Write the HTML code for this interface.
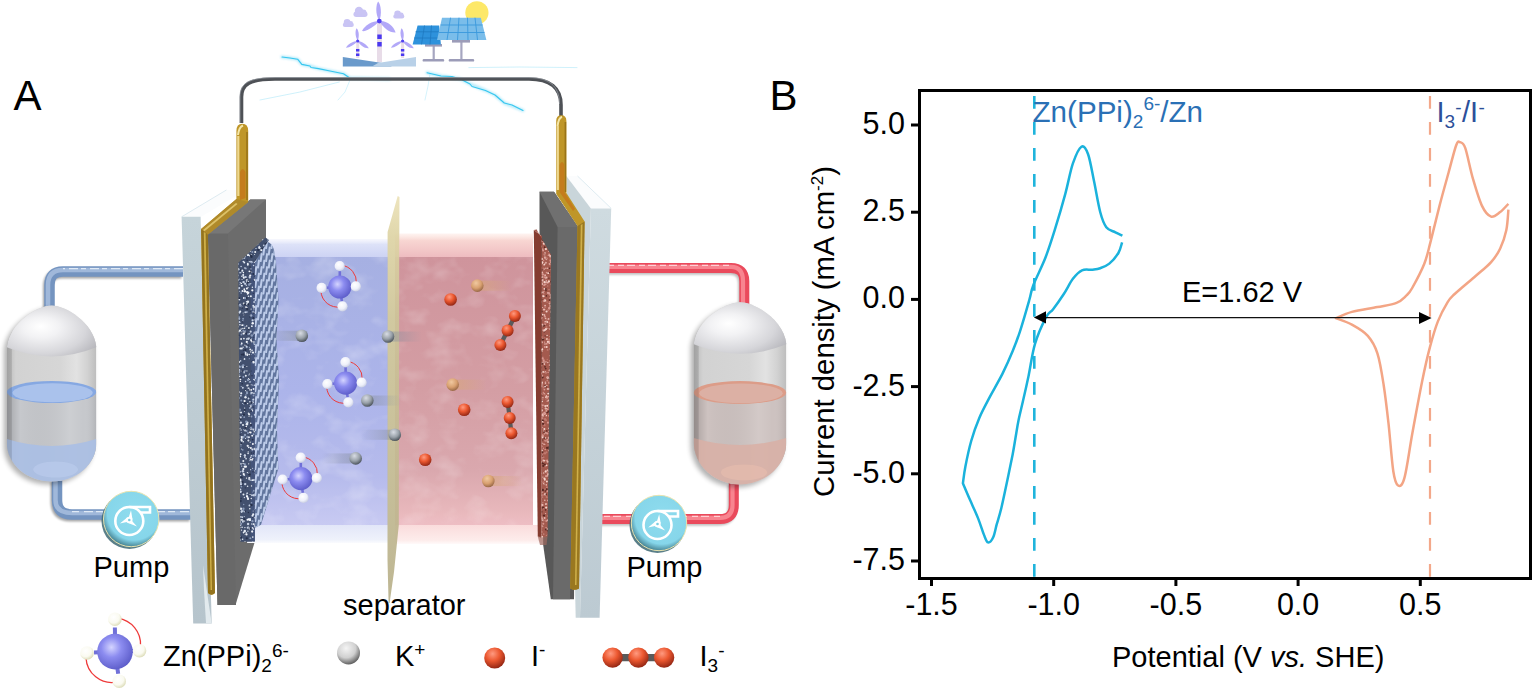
<!DOCTYPE html>
<html><head><meta charset="utf-8"><title>Figure</title>
<style>
html,body{margin:0;padding:0;background:#fff;}
body{width:1533px;height:691px;overflow:hidden;}
svg{display:block;}
text{font-family:"Liberation Sans",sans-serif;}
.tk{font-size:30.5px;fill:#000;}
.lb{font-size:29px;fill:#000;}
</style></head>
<body>
<svg width="1533" height="691" viewBox="0 0 1533 691">
<defs>
<linearGradient id="gold" x1="0" y1="0" x2="1" y2="0">
  <stop offset="0" stop-color="#7a5610"/><stop offset="0.35" stop-color="#f2d27a"/><stop offset="0.7" stop-color="#c89a30"/><stop offset="1" stop-color="#8a6414"/>
</linearGradient>
<linearGradient id="goldV" x1="0" y1="0" x2="0" y2="1">
  <stop offset="0" stop-color="#e8c860"/><stop offset="0.55" stop-color="#d8a838"/><stop offset="0.75" stop-color="#c88a20"/><stop offset="1" stop-color="#b87a18"/>
</linearGradient>
<linearGradient id="wire" x1="0" y1="0" x2="0" y2="1">
  <stop offset="0" stop-color="#9aa0a8"/><stop offset="0.5" stop-color="#505458"/><stop offset="1" stop-color="#2a2c30"/>
</linearGradient>
<linearGradient id="blueBoxTop" x1="0" y1="0" x2="0" y2="1">
  <stop offset="0" stop-color="#eef0fc" stop-opacity="0.5"/><stop offset="0.3" stop-color="#dde2f8"/><stop offset="1" stop-color="#cdd3f4"/>
</linearGradient>
<linearGradient id="blueBox" x1="0" y1="0" x2="0" y2="1">
  <stop offset="0" stop-color="#a6b0e2"/><stop offset="0.5" stop-color="#acb4ea"/><stop offset="0.82" stop-color="#b6bbec"/><stop offset="1" stop-color="#c8caf2"/>
</linearGradient>
<linearGradient id="pinkBoxTop" x1="0" y1="0" x2="0" y2="1">
  <stop offset="0" stop-color="#fde8e2" stop-opacity="0.5"/><stop offset="0.3" stop-color="#f8d6d2"/><stop offset="1" stop-color="#eebcc0"/>
</linearGradient>
<linearGradient id="pinkBox" x1="0" y1="0" x2="0" y2="1">
  <stop offset="0" stop-color="#cf949c"/><stop offset="0.5" stop-color="#d49ea4"/><stop offset="0.8" stop-color="#daa8ae"/><stop offset="0.95" stop-color="#e8b8bc"/><stop offset="1" stop-color="#eebec4"/>
</linearGradient>
<linearGradient id="floorG" x1="0" y1="0" x2="0" y2="1">
  <stop offset="0" stop-color="#e2e6f8"/><stop offset="0.8" stop-color="#eef1fb"/><stop offset="1" stop-color="#fafbfe"/>
</linearGradient>
<linearGradient id="floorP" x1="0" y1="0" x2="0" y2="1">
  <stop offset="0" stop-color="#fadcdc"/><stop offset="0.8" stop-color="#fdeceb"/><stop offset="1" stop-color="#fffafa"/>
</linearGradient>
<linearGradient id="sep" x1="0" y1="0" x2="0" y2="1">
  <stop offset="0" stop-color="#ece2b8"/><stop offset="0.1" stop-color="#ddd3a4"/><stop offset="0.3" stop-color="#cdc498"/><stop offset="1" stop-color="#b8b08a"/>
</linearGradient>
<linearGradient id="endPlate" x1="0" y1="0" x2="0" y2="1">
  <stop offset="0" stop-color="#c6d4da"/><stop offset="1" stop-color="#b6c4cc"/>
</linearGradient>
<linearGradient id="endPlateR" x1="0" y1="0" x2="0" y2="1">
  <stop offset="0" stop-color="#cfdbe0"/><stop offset="1" stop-color="#bccad2"/>
</linearGradient>
<radialGradient id="dome" cx="0.4" cy="0.5" r="0.8" fx="0.38" fy="0.42">
  <stop offset="0" stop-color="#ffffff"/><stop offset="0.25" stop-color="#f2f2f4"/><stop offset="0.6" stop-color="#d6d6da"/><stop offset="1" stop-color="#a4a4aa"/>
</radialGradient>
<linearGradient id="cylshade" x1="0" y1="0" x2="1" y2="0">
  <stop offset="0" stop-color="#000" stop-opacity="0.18"/><stop offset="0.15" stop-color="#000" stop-opacity="0"/><stop offset="0.7" stop-color="#fff" stop-opacity="0.12"/><stop offset="0.85" stop-color="#fff" stop-opacity="0"/><stop offset="1" stop-color="#000" stop-opacity="0.1"/>
</linearGradient>
<filter id="blur2" x="-20%" y="-20%" width="140%" height="140%"><feGaussianBlur stdDeviation="2.5"/></filter>
<linearGradient id="cyl" x1="0" y1="0" x2="1" y2="0">
  <stop offset="0" stop-color="#b8b8b8"/><stop offset="0.1" stop-color="#d2d2d2"/><stop offset="0.6" stop-color="#d6d6d6"/><stop offset="0.78" stop-color="#e2e2e2"/><stop offset="0.9" stop-color="#d2d2d2"/><stop offset="1" stop-color="#bdbdbd"/>
</linearGradient>
<linearGradient id="liqL" x1="0" y1="0" x2="1" y2="0">
  <stop offset="0" stop-color="#9aa2aa"/><stop offset="0.12" stop-color="#c4c8cc"/><stop offset="0.5" stop-color="#cccfd2"/><stop offset="0.9" stop-color="#c4c8cc"/><stop offset="1" stop-color="#a8b0b8"/>
</linearGradient>
<linearGradient id="liqR" x1="0" y1="0" x2="1" y2="0">
  <stop offset="0" stop-color="#a89a98"/><stop offset="0.12" stop-color="#cfc2c0"/><stop offset="0.5" stop-color="#d2c8c6"/><stop offset="0.9" stop-color="#cabcba"/><stop offset="1" stop-color="#b8a8a6"/>
</linearGradient>
<radialGradient id="botL" cx="0.5" cy="0.2" r="0.8">
  <stop offset="0" stop-color="#b8cce8"/><stop offset="0.7" stop-color="#a4bce0"/><stop offset="1" stop-color="#6a7c98"/>
</radialGradient>
<radialGradient id="botR" cx="0.5" cy="0.2" r="0.8">
  <stop offset="0" stop-color="#e0b8b0"/><stop offset="0.7" stop-color="#d8aaa0"/><stop offset="1" stop-color="#907070"/>
</radialGradient>
<radialGradient id="pump" cx="0.55" cy="0.4" r="0.6">
  <stop offset="0" stop-color="#8fdcee"/><stop offset="0.8" stop-color="#86d6ea"/><stop offset="1" stop-color="#4a8898"/>
</radialGradient>
<radialGradient id="zn" cx="0.4" cy="0.38" r="0.7">
  <stop offset="0" stop-color="#d4d4ff"/><stop offset="0.4" stop-color="#8c8cf0"/><stop offset="1" stop-color="#5656c4"/>
</radialGradient>
<radialGradient id="hball" cx="0.4" cy="0.35" r="0.7">
  <stop offset="0" stop-color="#ffffff"/><stop offset="0.6" stop-color="#eef0fa"/><stop offset="1" stop-color="#c4cade"/>
</radialGradient>
<radialGradient id="hballY" cx="0.4" cy="0.35" r="0.7">
  <stop offset="0" stop-color="#ffffff"/><stop offset="0.6" stop-color="#fafaf0"/><stop offset="1" stop-color="#d8d8b0"/>
</radialGradient>
<radialGradient id="kball" cx="0.4" cy="0.3" r="0.75">
  <stop offset="0" stop-color="#f4f4f4"/><stop offset="0.55" stop-color="#d0d0d0"/><stop offset="1" stop-color="#505050"/>
</radialGradient>
<radialGradient id="kballB" cx="0.4" cy="0.3" r="0.75">
  <stop offset="0" stop-color="#d8dce4"/><stop offset="0.55" stop-color="#98a0a8"/><stop offset="1" stop-color="#404850"/>
</radialGradient>
<radialGradient id="iball" cx="0.4" cy="0.3" r="0.75">
  <stop offset="0" stop-color="#ff9a80"/><stop offset="0.45" stop-color="#ec5830"/><stop offset="1" stop-color="#882010"/>
</radialGradient>
<radialGradient id="tball" cx="0.4" cy="0.3" r="0.75">
  <stop offset="0" stop-color="#f0c8a0"/><stop offset="0.55" stop-color="#d8a070"/><stop offset="1" stop-color="#906040"/>
</radialGradient>
<linearGradient id="trailL" x1="0" y1="0" x2="1" y2="0">
  <stop offset="0" stop-color="#8890a0" stop-opacity="0"/><stop offset="1" stop-color="#8890a0" stop-opacity="0.55"/>
</linearGradient>
<linearGradient id="trailR" x1="0" y1="0" x2="1" y2="0">
  <stop offset="0" stop-color="#8890a0" stop-opacity="0.55"/><stop offset="1" stop-color="#8890a0" stop-opacity="0"/>
</linearGradient>
<linearGradient id="trailO" x1="0" y1="0" x2="1" y2="0">
  <stop offset="0" stop-color="#d8a878" stop-opacity="0.6"/><stop offset="1" stop-color="#d8a878" stop-opacity="0"/>
</linearGradient>
<pattern id="speck" width="6" height="6" patternUnits="userSpaceOnUse">
  <rect width="6" height="6" fill="#33405c"/>
  <circle cx="1" cy="1.5" r="0.8" fill="#c8d0e0"/><circle cx="4" cy="4" r="0.7" fill="#e0e6f0"/><circle cx="4.5" cy="1" r="0.5" fill="#8a98b8"/>
</pattern>
<pattern id="speckR" width="6" height="6" patternUnits="userSpaceOnUse">
  <rect width="6" height="6" fill="#7a3a32"/>
  <circle cx="1" cy="1.5" r="0.8" fill="#e0b0a8"/><circle cx="4" cy="4" r="0.7" fill="#f0c8c0"/><circle cx="4.5" cy="1" r="0.5" fill="#a86860"/>
</pattern>
<pattern id="mesh" width="9" height="14" patternUnits="userSpaceOnUse">
  <rect width="9" height="14" fill="#5a72a0"/>
  <rect x="2" y="2" width="1.6" height="9" rx="0.8" fill="#b8c8e4"/><rect x="6.5" y="6" width="1.4" height="7" rx="0.7" fill="#9cb0d4"/>
</pattern>

<filter id="blur1" x="-10%" y="-50%" width="120%" height="200%"><feGaussianBlur stdDeviation="1.2"/></filter>

<filter id="mottle" x="0" y="0" width="100%" height="100%">
  <feTurbulence type="fractalNoise" baseFrequency="0.035 0.05" numOctaves="3" seed="5" result="n"/>
  <feColorMatrix in="n" type="matrix" values="0 0 0 0 1  0 0 0 0 1  0 0 0 0 1  0 0 0 1.6 -0.75"/>
  <feComposite in2="SourceGraphic" operator="in"/>
</filter>


<clipPath id="clipSpL"><polygon points="238.3,262.8 265.5,237.4 269,240 254.8,262 254.8,541.7 240.4,541.7"/></clipPath>
<clipPath id="clipMesh"><path d="M254.8,262 L267.8,242 Q272,243 274,250 L276,262 L278.5,300 L276.5,340 L279,380 L277,430 L278.3,468.7 L261,524.8 L254.8,528 Z"/></clipPath>
<clipPath id="clipSpR"><polygon points="533.8,230 536.5,229.5 551,254.7 547.5,536.4 541.7,538 541.7,236"/></clipPath>
</defs>
<rect width="1533" height="691" fill="#fff"/>

<!-- ===== PANEL A ===== -->
<text x="13.5" y="110" style="font-size:42px">A</text>
<!-- energy icons -->
<g id="energy">
<g fill="#c9c4f4"><rect x="353.5" y="11.5" width="14.0" height="5.5" rx="2.7"/><circle cx="359.0" cy="11.0" r="4.2"/><circle cx="363.5" cy="12.5" r="3.0"/></g>
<g fill="#c9c4f4"><rect x="342.8" y="22.7" width="11.0" height="4.3" rx="2.1"/><circle cx="347.1" cy="22.3" r="3.3"/><circle cx="350.7" cy="23.5" r="2.4"/></g>
<g fill="#c9c4f4"><rect x="393.3" y="14.2" width="11.0" height="4.3" rx="2.1"/><circle cx="397.6" cy="13.8" r="3.3"/><circle cx="401.2" cy="15.0" r="2.4"/></g>
  <circle cx="476.9" cy="12.8" r="11.6" fill="#fde868"/>
  <!-- big turbine -->
  <rect x="377" y="22" width="5" height="40" fill="#e8dce8"/>
  <rect x="377.3" y="34.5" width="4.4" height="4.5" fill="#4a38f0"/>
  <rect x="377.3" y="42" width="4.4" height="4.5" fill="#4a38f0"/>
  <path d="M379.3,21 C375,14 376,4 378.2,1.5 C381,5 382,14 379.3,21Z" fill="#b2a8f8"/>
  <path d="M379.3,21 C386,20 394,26 395.6,32.5 C390,33 383,28 379.3,21Z" fill="#b2a8f8"/>
  <path d="M379.3,21 C374,27 366,32 362,31 C365,25 372,21 379.3,21Z" fill="#b2a8f8"/>
  <circle cx="379.3" cy="21.1" r="2.4" fill="#5040f0"/>
  <!-- small turbines -->
  <rect x="356.2" y="41" width="3" height="17" fill="#e8dce8"/>
  <rect x="356" y="49" width="3.4" height="2.5" fill="#4a38f0"/><rect x="356" y="53.5" width="3.4" height="2.5" fill="#4a38f0"/>
  <path d="M357.7,41 C355,36 355,31 356.6,28.3 C359,31 359.5,36 357.7,41Z" fill="#b2a8f8"/>
  <path d="M357.7,41 C362,41 367,45 368.8,48.2 C364,48.5 360,45 357.7,41Z" fill="#b2a8f8"/>
  <path d="M357.7,41 C354,45 349,48 346,47.7 C348,44 353,41 357.7,41Z" fill="#b2a8f8"/>
  <circle cx="357.7" cy="41" r="1.6" fill="#5040f0"/>
  <rect x="401.1" y="41" width="3" height="17" fill="#e8dce8"/>
  <rect x="400.9" y="49" width="3.4" height="2.5" fill="#4a38f0"/><rect x="400.9" y="53.5" width="3.4" height="2.5" fill="#4a38f0"/>
  <path d="M402.6,41 C400,36 400,31 401.6,28.3 C404,31 404.5,36 402.6,41Z" fill="#b2a8f8"/>
  <path d="M402.6,41 C407,41 412,45 413.8,48.2 C409,48.5 405,45 402.6,41Z" fill="#b2a8f8"/>
  <path d="M402.6,41 C399,45 394,48 391,47.7 C393,44 398,41 402.6,41Z" fill="#b2a8f8"/>
  <circle cx="402.6" cy="41" r="1.6" fill="#5040f0"/>
  <!-- ground -->
  <polygon points="342.8,57.1 342.8,66.5 392,66.5 384,63.2" fill="#6a9acb"/>
  <polygon points="416,57.1 416,66.5 372,66.5 378,63" fill="#b9d1e8"/>
  <!-- solar panels -->
  <rect x="432.6" y="44" width="2.2" height="16" fill="#a6a6c0"/>
  <rect x="422.6" y="59" width="21.6" height="2.6" rx="1.2" fill="#9c9cb8"/>
  <rect x="425" y="44" width="17" height="2.6" fill="#9c9cb8"/>
  <rect x="460.3" y="40" width="2.2" height="20" fill="#a6a6c0"/>
  <rect x="448.7" y="59" width="25.5" height="2.6" rx="1.2" fill="#9c9cb8"/>
  <rect x="452" y="40" width="18" height="2.6" fill="#9c9cb8"/>
  <polygon points="417.6,25.5 439.2,25.5 440.9,44.4 412.6,44.4" fill="#2e92dc"/>
  <g stroke="#1e78c0" stroke-width="0.8" fill="none">
    <line x1="415.5" y1="31.8" x2="440" y2="31.8"/><line x1="414" y1="38" x2="440.5" y2="38"/>
    <line x1="424.5" y1="25.5" x2="421.5" y2="44.4"/><line x1="431.5" y1="25.5" x2="430" y2="44.4"/>
  </g>
  <polygon points="442,17.7 480.8,17.7 486.4,40 437,40" fill="#7abdea"/>
  <g stroke="#3a98dc" stroke-width="0.9" fill="none">
    <line x1="440.5" y1="25" x2="482.6" y2="25"/><line x1="439" y1="32.5" x2="484.5" y2="32.5"/>
    <line x1="450.5" y1="17.7" x2="447" y2="40"/><line x1="459" y1="17.7" x2="457.5" y2="40"/><line x1="467.5" y1="17.7" x2="468" y2="40"/><line x1="475" y1="17.7" x2="477.5" y2="40"/>
  </g>
</g>
<!-- lightning -->
<g fill="none" stroke="#35c6ef" stroke-linecap="round" stroke-linejoin="round">
  <g opacity="0.35" stroke-width="3" filter="url(#blur1)">
  <polyline points="282,57 290,58 297.6,59.2 301.8,64.4 310,66 318.5,68.6 330,71 343.5,73.8 349.8,78 389.4,79"/>
  <polyline points="427,72.8 441,76 460.4,79 470,84 485.5,90.5 495,95 504.3,103 523,110.4"/>
  </g>
  <polyline points="282,57 290,58 297.6,59.2 301.8,64.4 310,66 311,67.5 318.5,68.6 330,71 343.5,73.8 349.8,78 360,78.5 389.4,79" stroke-width="1.1"/>
  <polyline points="427,72.8 441,76 452,76.5 460.4,79 470,84 472,86.5 485.5,90.5 495,95 504.3,103 512,105 523,110.4" stroke-width="1.1"/>
  <polyline points="260,100 300,92 339.3,82" stroke-width="0.8" opacity="0.3"/>
  <polyline points="468.8,67.6 520,67 577,67.6" stroke-width="0.8" opacity="0.3"/>
  <polyline points="350,80 345,92 338,100" stroke-width="0.7" opacity="0.3"/>
  <polyline points="430,74 428,86 425,100" stroke-width="0.7" opacity="0.3"/>
</g>
<!-- wire -->
<path d="M241.5,123 L241.5,97 C241.5,84 250,79 275,79 L529,79 C550,79 561,88 561,105 L561,118" fill="none" stroke="#4e5156" stroke-width="3.6"/>
<path d="M240,123 L240,97 C240,83 249,77.6 275,77.6 L529,77.6 C549,77.6 559.5,86 559.5,104" fill="none" stroke="#9aa0a6" stroke-width="1" opacity="0.7"/>

<!-- pipes left (blue) -->
<g fill="none" stroke-linecap="butt">
  <g stroke="#000" stroke-width="10" opacity="0.35" filter="url(#blur1)" transform="translate(-1.5,2)">
    <path d="M183,271.5 L63,271.5 Q49.5,271.5 49.5,285 L49.5,310"/>
    <path d="M57,480 L57,500 Q57,514.5 72,514.5 L191,514.5"/>
  </g>
  <path d="M183,271.5 L63,271.5 Q49.5,271.5 49.5,285 L49.5,310" stroke="#7494c0" stroke-width="10.5"/>
  <path d="M183,270 L63,270 Q48,270 48,285 L48,310" stroke="#a0b8da" stroke-width="4.5"/>
  <path d="M183,268.6 L63,268.6" stroke="#e0eaf6" stroke-width="1.4" stroke-dasharray="9 4 5 3"/>
  <path d="M57,480 L57,500 Q57,514.5 72,514.5 L191,514.5" stroke="#7494c0" stroke-width="10.5"/>
  <path d="M55.5,480 L55.5,500 Q55.5,513 72,513 L191,513" stroke="#a0b8da" stroke-width="4.5"/>
  <path d="M72,511.6 L191,511.6" stroke="#e0eaf6" stroke-width="1.4" stroke-dasharray="7 5 9 3"/>
</g>
<!-- pipes right (red) -->
<g fill="none">
  <g stroke="#000" stroke-width="9.5" opacity="0.25" filter="url(#blur1)" transform="translate(-1.5,2)">
    <path d="M606,268 L731,268 Q744.3,268 744.3,281 L744.3,305"/>
    <path d="M733.8,483 L733.8,505 Q733.8,519 720,519 L600,519"/>
  </g>
  <path d="M606,268 L731,268 Q744.3,268 744.3,281 L744.3,305" stroke="#ea4a5c" stroke-width="10"/>
  <path d="M606,266.8 L731,266.8 Q743,266.8 743,281 L743,305" stroke="#f8848f" stroke-width="4.2"/>
  <path d="M606,265.4 L731,265.4" stroke="#ffd0d4" stroke-width="1.2" stroke-dasharray="8 4 6 3"/>
  <path d="M733.8,483 L733.8,505 Q733.8,519 720,519 L600,519" stroke="#ea4a5c" stroke-width="10"/>
  <path d="M732.5,483 L732.5,505 Q732.5,517.8 720,517.8 L600,517.8" stroke="#f8848f" stroke-width="4.2"/>
  <path d="M720,516.4 L600,516.4" stroke="#ffd0d4" stroke-width="1.2" stroke-dasharray="6 5 8 3"/>
</g>

<g id="tankL">
<path d="M6.9,347.0 C9.6,322.1 38.2,305.5 51.6,305.5 C65.0,305.5 93.6,322.1 96.3,347.0 L96.3,443.0 C96.3,464.2 76.2,481.5 51.6,481.5 C27.0,481.5 6.9,464.2 6.9,443.0 Z" fill="#000" opacity="0.3" filter="url(#blur2)" transform="translate(-3,3)"/>
<clipPath id="tankL_clip"><path d="M6.9,347.0 C9.6,322.1 38.2,305.5 51.6,305.5 C65.0,305.5 93.6,322.1 96.3,347.0 L96.3,443.0 C96.3,464.2 76.2,481.5 51.6,481.5 C27.0,481.5 6.9,464.2 6.9,443.0 Z"/></clipPath>
<g clip-path="url(#tankL_clip)">
<rect x="6.9" y="305.5" width="89.4" height="176.0" fill="url(#cyl)"/>
<rect x="6.9" y="392.0" width="89.4" height="89.5" fill="#c6c8cc"/>
<rect x="6.9" y="392.0" width="89.4" height="89.5" fill="url(#cylshade)"/>
<path d="M6.9,439.0 Q51.6,453.0 96.3,439.0 L96.3,483.5 L6.9,483.5 Z" fill="#aabfe4" opacity="0.9"/>
<ellipse cx="55.6" cy="469.5" rx="22.4" ry="8.0" fill="#c0d0f0" opacity="0.5"/>
<ellipse cx="51.6" cy="392.0" rx="44.7" ry="11.0" fill="#86a8e2"/>
<ellipse cx="52.6" cy="392.8" rx="40.2" ry="9.5" fill="#aac2ec"/>
<rect x="6.9" y="305.5" width="5" height="176.0" fill="#000" opacity="0.12"/>
<path d="M5.9,304.5 L97.3,304.5 L97.3,347.0 Q51.6,365.8 5.9,347.0 Z" fill="url(#dome)"/>
</g></g><g id="tankR">
<path d="M693.7,344.0 C696.5,318.9 726.1,302.2 740.0,302.2 C753.9,302.2 783.5,318.9 786.3,344.0 L786.3,442.0 C786.3,465.3 765.5,484.4 740.0,484.4 C714.5,484.4 693.7,465.3 693.7,442.0 Z" fill="#000" opacity="0.3" filter="url(#blur2)" transform="translate(-3,3)"/>
<clipPath id="tankR_clip"><path d="M693.7,344.0 C696.5,318.9 726.1,302.2 740.0,302.2 C753.9,302.2 783.5,318.9 786.3,344.0 L786.3,442.0 C786.3,465.3 765.5,484.4 740.0,484.4 C714.5,484.4 693.7,465.3 693.7,442.0 Z"/></clipPath>
<g clip-path="url(#tankR_clip)">
<rect x="693.7" y="302.2" width="92.6" height="182.2" fill="url(#cyl)"/>
<rect x="693.7" y="392.5" width="92.6" height="91.9" fill="#cdc2c0"/>
<rect x="693.7" y="392.5" width="92.6" height="91.9" fill="url(#cylshade)"/>
<path d="M693.7,438.0 Q740.0,452.0 786.3,438.0 L786.3,486.4 L693.7,486.4 Z" fill="#d8b0a6" opacity="0.9"/>
<ellipse cx="744.0" cy="472.4" rx="23.1" ry="8.0" fill="#ecc0b0" opacity="0.5"/>
<ellipse cx="740.0" cy="392.5" rx="46.3" ry="11.5" fill="#dc9c88"/>
<ellipse cx="741.0" cy="393.3" rx="41.7" ry="9.9" fill="#dcb0a4"/>
<rect x="693.7" y="302.2" width="5" height="182.2" fill="#000" opacity="0.12"/>
<path d="M692.7,301.2 L787.3,301.2 L787.3,344.0 Q740.0,363.6 692.7,344.0 Z" fill="url(#dome)"/>
</g></g>
<!-- pumps -->
<g id="pumpL">
  <circle cx="129.5" cy="521" r="28" fill="#3d6874" opacity="0.85"/>
  <circle cx="131.2" cy="519" r="27.7" fill="url(#pump)" stroke="#e8e4b0" stroke-width="1"/>
  <circle cx="129.3" cy="521" r="14" fill="none" stroke="#fff" stroke-width="2.6"/>
  <path d="M129.3,507 L150,507 L150,512.5 L140,512.5" fill="none" stroke="#fff" stroke-width="2.6"/>
  <path d="M128.2,519.0 L131.0,510.2 L132.5,519.4 Z M130.7,519.5 L137.0,526.4 L128.2,523.0 Z M129.0,521.5 L119.9,523.4 L127.2,517.5 Z" fill="#fff"/><circle cx="129.3" cy="520.0" r="3.2" fill="#fff"/><circle cx="129.3" cy="520.0" r="1.3" fill="#7ccfe4"/>
</g>
<g id="pumpR">
  <circle cx="657.5" cy="525" r="28" fill="#3d6874" opacity="0.85"/>
  <circle cx="659" cy="523" r="27.7" fill="url(#pump)" stroke="#e8e4b0" stroke-width="1"/>
  <circle cx="657.5" cy="525" r="14" fill="none" stroke="#fff" stroke-width="2.6"/>
  <path d="M657.5,511 L678,511 L678,516.5 L668,516.5" fill="none" stroke="#fff" stroke-width="2.6"/>
  <path d="M656.4,523.0 L659.2,514.2 L660.7,523.4 Z M658.9,523.5 L665.2,530.4 L656.4,527.0 Z M657.2,525.5 L648.1,527.4 L655.4,521.5 Z" fill="#fff"/><circle cx="657.5" cy="524.0" r="3.2" fill="#fff"/><circle cx="657.5" cy="524.0" r="1.3" fill="#7ccfe4"/>
</g>

<!-- LEFT END PLATE -->
<polygon points="181.6,216.8 226.4,190 246,190 201,216.8" fill="#fbfcfd"/>
<line x1="181.6" y1="216.8" x2="226.4" y2="190" stroke="#d6e6ee" stroke-width="0.8"/>
<polygon points="181.6,216.8 200.6,216.8 211.7,623.6 193.2,623.6" fill="url(#endPlate)"/>
<polygon points="203,565 211.7,623.6 206,623.6 204,590" fill="#e2eaee"/>
<!-- left dark plate -->
<polygon points="207.9,233.4 250.3,199.4 266,199.4 266,505 235.5,605 217.5,605" fill="#6c6c6c"/>
<polygon points="207.9,233.4 227.9,233.4 236,605 217.5,605" fill="#696969"/>
<polygon points="207.9,233.4 250.3,199.4 266,199.4 227.9,233.4" fill="#777777"/>
<!-- left gold -->
<path d="M236.4,131 Q236.4,123.7 242.3,123.7 Q248.2,123.7 248.2,131 L248.2,202 L207.9,234.5 L215,593 Q211.5,596.5 208,593 L201.1,229 L236.4,199 Z" fill="#bf9628"/>
<path d="M238,135 Q239,127 243,125.5" fill="none" stroke="#f4e6a8" stroke-width="2"/>
<path d="M238.3,136 L238.3,196" stroke="#eed890" stroke-width="2.2"/>
<path d="M247,132 L247,200" stroke="#9a7418" stroke-width="1.6"/>
<path d="M240,200 L240,172 Q242.5,166 245.5,172 L245.5,198Z" fill="#c47c1c"/>
<path d="M236.4,199 L248.2,202 L207.9,234.5 L201.1,229Z" fill="#b08a2a"/>
<path d="M203,230 L236,203 L237.5,204 L204.5,231.2Z" fill="#e8d078" opacity="0.8"/>
<path d="M201.1,229 L207.9,234.5 L215,593 Q211.5,596.5 208,593 Z" fill="#94741e"/>
<path d="M203.8,232 L205.6,233 L212,590 L210.6,590 Z" fill="#cfb04a"/>
<!-- floor under boxes -->
<polygon points="250,525 388,525 388,543 247,543" fill="url(#floorG)"/>
<polygon points="395,525 540,525 544,544 395,544" fill="url(#floorP)"/>

<!-- blue electrolyte box -->
<rect x="262" y="239" width="126" height="18" fill="url(#blueBoxTop)"/>
<rect x="258" y="257" width="130" height="268" fill="url(#blueBox)"/>
<!-- pink electrolyte box -->
<rect x="395" y="233.5" width="138" height="23.5" fill="url(#pinkBoxTop)"/>
<rect x="395" y="257" width="138" height="268" fill="url(#pinkBox)"/>
<rect x="258" y="257" width="130" height="268" fill="#fff" filter="url(#mottle)" opacity="0.35"/>
<rect x="395" y="257" width="138" height="268" fill="#fff" filter="url(#mottle)" opacity="0.3"/>

<!-- left mesh electrode -->
<polygon points="238.3,262.8 265.5,237.4 269,240 254.8,262 254.8,541.7 240.4,541.7" fill="#42506e"/>
<path d="M254.8,262 L267.8,242 Q272,243 274,250 L276,262 L278.5,300 L276.5,340 L279,380 L277,430 L278.3,468.7 L261,524.8 L254.8,528 Z" fill="#62769e"/>
<polygon points="251,262 254.8,262 254.8,541 251,541" fill="#44547a"/>
<g clip-path="url(#clipSpL)"><circle cx="247.0" cy="281.8" r="1.0" fill="#c8d2e4"/><circle cx="263.9" cy="264.2" r="0.9" fill="#26304a"/><circle cx="243.3" cy="261.6" r="0.8" fill="#e8eef6"/><circle cx="239.1" cy="366.6" r="1.1" fill="#c8d2e4"/><circle cx="268.2" cy="430.5" r="0.9" fill="#c8d2e4"/><circle cx="255.6" cy="358.0" r="1.2" fill="#c8d2e4"/><circle cx="254.9" cy="276.3" r="0.8" fill="#26304a"/><circle cx="240.0" cy="330.6" r="1.1" fill="#e8eef6"/><circle cx="239.5" cy="412.1" r="0.6" fill="#c8d2e4"/><circle cx="254.6" cy="254.5" r="0.5" fill="#e8eef6"/><circle cx="252.9" cy="399.8" r="1.0" fill="#8a9ab8"/><circle cx="255.9" cy="375.5" r="0.7" fill="#e8eef6"/><circle cx="259.8" cy="310.7" r="0.9" fill="#26304a"/><circle cx="252.8" cy="341.5" r="0.8" fill="#26304a"/><circle cx="269.3" cy="271.6" r="0.8" fill="#f4f6fa"/><circle cx="241.2" cy="386.6" r="0.5" fill="#c8d2e4"/><circle cx="262.0" cy="412.6" r="1.1" fill="#f4f6fa"/><circle cx="247.6" cy="343.6" r="0.8" fill="#8a9ab8"/><circle cx="238.3" cy="264.0" r="0.7" fill="#c8d2e4"/><circle cx="238.1" cy="452.5" r="1.0" fill="#8a9ab8"/><circle cx="245.7" cy="354.6" r="1.0" fill="#c8d2e4"/><circle cx="268.0" cy="345.2" r="0.9" fill="#8a9ab8"/><circle cx="238.0" cy="473.2" r="0.6" fill="#e8eef6"/><circle cx="249.5" cy="519.2" r="0.8" fill="#e8eef6"/><circle cx="251.3" cy="405.3" r="1.1" fill="#8a9ab8"/><circle cx="265.4" cy="321.3" r="0.8" fill="#f4f6fa"/><circle cx="259.2" cy="352.9" r="0.7" fill="#c8d2e4"/><circle cx="242.0" cy="306.9" r="0.7" fill="#8a9ab8"/><circle cx="264.3" cy="291.5" r="0.7" fill="#e8eef6"/><circle cx="250.2" cy="349.5" r="0.9" fill="#e8eef6"/><circle cx="259.5" cy="394.8" r="0.9" fill="#c8d2e4"/><circle cx="251.5" cy="505.0" r="1.2" fill="#26304a"/><circle cx="249.3" cy="358.7" r="0.6" fill="#8a9ab8"/><circle cx="238.1" cy="255.9" r="0.6" fill="#e8eef6"/><circle cx="239.7" cy="421.2" r="0.6" fill="#26304a"/><circle cx="241.1" cy="266.5" r="0.8" fill="#c8d2e4"/><circle cx="238.4" cy="299.5" r="0.8" fill="#f4f6fa"/><circle cx="268.5" cy="421.7" r="0.8" fill="#c8d2e4"/><circle cx="264.9" cy="542.9" r="0.8" fill="#8a9ab8"/><circle cx="246.6" cy="279.7" r="1.0" fill="#f4f6fa"/><circle cx="252.3" cy="449.5" r="0.9" fill="#e8eef6"/><circle cx="268.3" cy="398.8" r="0.6" fill="#26304a"/><circle cx="267.1" cy="470.0" r="0.7" fill="#c8d2e4"/><circle cx="259.7" cy="315.9" r="0.8" fill="#e8eef6"/><circle cx="248.1" cy="304.1" r="0.9" fill="#26304a"/><circle cx="247.2" cy="304.1" r="1.1" fill="#e8eef6"/><circle cx="263.4" cy="488.7" r="1.0" fill="#e8eef6"/><circle cx="242.8" cy="387.8" r="1.0" fill="#c8d2e4"/><circle cx="262.9" cy="381.4" r="0.6" fill="#26304a"/><circle cx="268.5" cy="373.6" r="1.2" fill="#f4f6fa"/><circle cx="268.5" cy="348.0" r="0.7" fill="#e8eef6"/><circle cx="252.0" cy="339.7" r="0.8" fill="#26304a"/><circle cx="264.6" cy="383.6" r="1.0" fill="#c8d2e4"/><circle cx="264.4" cy="272.2" r="0.8" fill="#e8eef6"/><circle cx="252.3" cy="290.3" r="1.1" fill="#f4f6fa"/><circle cx="238.9" cy="528.3" r="1.0" fill="#8a9ab8"/><circle cx="249.6" cy="528.5" r="1.0" fill="#e8eef6"/><circle cx="269.8" cy="243.5" r="0.9" fill="#8a9ab8"/><circle cx="263.4" cy="280.3" r="1.1" fill="#8a9ab8"/><circle cx="258.3" cy="343.6" r="0.9" fill="#e8eef6"/><circle cx="236.7" cy="482.8" r="1.0" fill="#c8d2e4"/><circle cx="253.9" cy="524.4" r="0.8" fill="#e8eef6"/><circle cx="264.1" cy="300.4" r="0.7" fill="#f4f6fa"/><circle cx="253.0" cy="471.7" r="0.7" fill="#26304a"/><circle cx="250.2" cy="275.6" r="1.1" fill="#f4f6fa"/><circle cx="266.5" cy="440.4" r="1.1" fill="#26304a"/><circle cx="250.3" cy="519.5" r="0.9" fill="#26304a"/><circle cx="241.2" cy="393.3" r="1.1" fill="#e8eef6"/><circle cx="256.7" cy="475.6" r="0.6" fill="#e8eef6"/><circle cx="252.1" cy="459.8" r="0.9" fill="#f4f6fa"/><circle cx="259.2" cy="399.5" r="0.8" fill="#c8d2e4"/><circle cx="266.0" cy="252.6" r="0.6" fill="#c8d2e4"/><circle cx="262.3" cy="392.4" r="0.9" fill="#c8d2e4"/><circle cx="251.1" cy="424.9" r="0.9" fill="#26304a"/><circle cx="242.8" cy="320.9" r="0.9" fill="#8a9ab8"/><circle cx="253.3" cy="311.8" r="0.9" fill="#f4f6fa"/><circle cx="267.4" cy="511.8" r="0.6" fill="#8a9ab8"/><circle cx="240.7" cy="272.7" r="0.8" fill="#c8d2e4"/><circle cx="258.8" cy="367.8" r="0.6" fill="#f4f6fa"/><circle cx="262.7" cy="513.1" r="0.6" fill="#f4f6fa"/><circle cx="240.9" cy="508.7" r="1.2" fill="#e8eef6"/><circle cx="261.4" cy="264.2" r="1.1" fill="#e8eef6"/><circle cx="269.7" cy="493.1" r="0.6" fill="#8a9ab8"/><circle cx="269.8" cy="360.2" r="0.8" fill="#f4f6fa"/><circle cx="246.8" cy="458.9" r="0.5" fill="#26304a"/><circle cx="251.6" cy="453.0" r="0.8" fill="#26304a"/><circle cx="257.2" cy="393.8" r="0.5" fill="#e8eef6"/><circle cx="269.0" cy="267.5" r="0.7" fill="#c8d2e4"/><circle cx="266.8" cy="291.3" r="1.0" fill="#8a9ab8"/><circle cx="264.9" cy="444.6" r="1.2" fill="#8a9ab8"/><circle cx="241.1" cy="519.9" r="0.9" fill="#f4f6fa"/><circle cx="239.0" cy="252.8" r="1.0" fill="#8a9ab8"/><circle cx="266.4" cy="318.4" r="0.5" fill="#c8d2e4"/><circle cx="263.3" cy="261.0" r="1.1" fill="#c8d2e4"/><circle cx="245.0" cy="272.7" r="0.5" fill="#26304a"/><circle cx="250.2" cy="518.8" r="0.9" fill="#c8d2e4"/><circle cx="253.9" cy="308.9" r="0.6" fill="#e8eef6"/><circle cx="244.9" cy="291.2" r="1.2" fill="#f4f6fa"/><circle cx="254.1" cy="298.8" r="0.8" fill="#e8eef6"/><circle cx="245.2" cy="484.1" r="1.2" fill="#c8d2e4"/><circle cx="236.5" cy="462.3" r="0.9" fill="#e8eef6"/><circle cx="253.5" cy="311.2" r="0.8" fill="#8a9ab8"/><circle cx="258.3" cy="404.2" r="1.1" fill="#26304a"/><circle cx="246.5" cy="301.7" r="0.7" fill="#e8eef6"/><circle cx="264.3" cy="454.1" r="0.9" fill="#8a9ab8"/><circle cx="269.6" cy="539.4" r="1.1" fill="#c8d2e4"/><circle cx="238.4" cy="464.7" r="0.7" fill="#e8eef6"/><circle cx="237.9" cy="441.2" r="0.8" fill="#26304a"/><circle cx="258.8" cy="322.4" r="0.7" fill="#f4f6fa"/><circle cx="237.5" cy="292.5" r="0.7" fill="#c8d2e4"/><circle cx="245.0" cy="533.2" r="1.2" fill="#26304a"/><circle cx="247.0" cy="245.7" r="1.1" fill="#e8eef6"/><circle cx="248.1" cy="235.3" r="0.8" fill="#8a9ab8"/><circle cx="245.5" cy="438.4" r="0.7" fill="#c8d2e4"/><circle cx="239.1" cy="488.3" r="0.6" fill="#26304a"/><circle cx="237.4" cy="242.0" r="0.7" fill="#e8eef6"/><circle cx="238.9" cy="531.9" r="1.1" fill="#e8eef6"/><circle cx="258.4" cy="457.0" r="1.1" fill="#8a9ab8"/><circle cx="262.0" cy="458.4" r="0.8" fill="#f4f6fa"/><circle cx="260.6" cy="434.4" r="0.5" fill="#26304a"/><circle cx="257.3" cy="462.5" r="1.1" fill="#e8eef6"/><circle cx="266.9" cy="468.4" r="0.9" fill="#c8d2e4"/><circle cx="264.1" cy="416.1" r="1.1" fill="#e8eef6"/><circle cx="238.9" cy="248.0" r="0.9" fill="#c8d2e4"/><circle cx="248.8" cy="374.9" r="0.5" fill="#c8d2e4"/><circle cx="257.3" cy="446.0" r="0.8" fill="#c8d2e4"/><circle cx="251.5" cy="256.7" r="1.2" fill="#26304a"/><circle cx="239.1" cy="398.1" r="1.0" fill="#8a9ab8"/><circle cx="244.6" cy="258.1" r="0.7" fill="#e8eef6"/><circle cx="243.8" cy="436.5" r="0.8" fill="#8a9ab8"/><circle cx="238.6" cy="517.2" r="0.7" fill="#c8d2e4"/><circle cx="257.0" cy="434.3" r="0.6" fill="#e8eef6"/><circle cx="247.3" cy="437.0" r="1.0" fill="#26304a"/><circle cx="255.3" cy="238.9" r="0.5" fill="#f4f6fa"/><circle cx="269.1" cy="265.9" r="0.7" fill="#8a9ab8"/><circle cx="245.9" cy="395.1" r="0.8" fill="#8a9ab8"/><circle cx="262.1" cy="542.9" r="0.9" fill="#f4f6fa"/><circle cx="269.3" cy="525.2" r="0.5" fill="#8a9ab8"/><circle cx="238.6" cy="392.1" r="1.2" fill="#f4f6fa"/><circle cx="249.2" cy="519.1" r="1.2" fill="#c8d2e4"/><circle cx="255.8" cy="278.9" r="0.9" fill="#f4f6fa"/><circle cx="240.5" cy="489.3" r="0.9" fill="#c8d2e4"/><circle cx="259.9" cy="306.7" r="1.1" fill="#8a9ab8"/><circle cx="249.4" cy="284.3" r="1.2" fill="#8a9ab8"/><circle cx="249.8" cy="460.4" r="0.8" fill="#8a9ab8"/><circle cx="246.7" cy="495.5" r="0.5" fill="#f4f6fa"/><circle cx="264.5" cy="272.2" r="1.1" fill="#c8d2e4"/><circle cx="266.7" cy="324.8" r="0.8" fill="#8a9ab8"/><circle cx="249.3" cy="504.7" r="0.6" fill="#8a9ab8"/><circle cx="261.7" cy="499.8" r="0.7" fill="#c8d2e4"/><circle cx="264.4" cy="323.5" r="1.2" fill="#e8eef6"/><circle cx="269.0" cy="370.2" r="0.7" fill="#f4f6fa"/><circle cx="262.7" cy="367.6" r="0.5" fill="#8a9ab8"/><circle cx="267.1" cy="526.6" r="0.9" fill="#c8d2e4"/><circle cx="237.7" cy="462.0" r="0.8" fill="#e8eef6"/><circle cx="257.9" cy="323.7" r="0.5" fill="#26304a"/><circle cx="240.3" cy="381.4" r="0.7" fill="#f4f6fa"/><circle cx="244.7" cy="464.0" r="1.0" fill="#8a9ab8"/><circle cx="258.3" cy="328.3" r="0.9" fill="#8a9ab8"/><circle cx="240.1" cy="434.4" r="0.6" fill="#26304a"/><circle cx="266.8" cy="389.1" r="0.7" fill="#f4f6fa"/><circle cx="269.9" cy="374.5" r="0.6" fill="#e8eef6"/><circle cx="244.3" cy="289.2" r="0.9" fill="#f4f6fa"/><circle cx="244.1" cy="315.1" r="0.9" fill="#c8d2e4"/><circle cx="261.5" cy="363.0" r="0.8" fill="#26304a"/><circle cx="243.1" cy="318.8" r="1.0" fill="#8a9ab8"/><circle cx="245.4" cy="535.0" r="0.6" fill="#26304a"/><circle cx="254.0" cy="480.0" r="1.1" fill="#c8d2e4"/><circle cx="245.2" cy="312.0" r="0.8" fill="#8a9ab8"/><circle cx="250.7" cy="331.7" r="1.1" fill="#c8d2e4"/><circle cx="240.3" cy="366.8" r="1.0" fill="#8a9ab8"/><circle cx="268.9" cy="386.8" r="0.6" fill="#26304a"/><circle cx="265.1" cy="536.4" r="0.7" fill="#c8d2e4"/><circle cx="243.6" cy="282.1" r="1.2" fill="#c8d2e4"/><circle cx="268.0" cy="458.7" r="1.0" fill="#8a9ab8"/><circle cx="238.9" cy="475.8" r="0.5" fill="#e8eef6"/><circle cx="243.9" cy="520.2" r="1.0" fill="#f4f6fa"/><circle cx="268.7" cy="429.2" r="0.9" fill="#8a9ab8"/><circle cx="259.8" cy="269.8" r="0.5" fill="#26304a"/><circle cx="268.1" cy="294.4" r="0.7" fill="#26304a"/><circle cx="236.0" cy="401.6" r="1.2" fill="#f4f6fa"/><circle cx="268.6" cy="434.8" r="1.1" fill="#8a9ab8"/><circle cx="253.9" cy="404.6" r="0.5" fill="#8a9ab8"/><circle cx="260.0" cy="330.3" r="0.5" fill="#8a9ab8"/><circle cx="266.1" cy="435.6" r="0.6" fill="#e8eef6"/><circle cx="258.7" cy="521.8" r="0.7" fill="#c8d2e4"/><circle cx="259.7" cy="457.7" r="0.8" fill="#8a9ab8"/><circle cx="242.7" cy="482.1" r="1.0" fill="#26304a"/><circle cx="238.3" cy="388.7" r="0.6" fill="#e8eef6"/><circle cx="243.8" cy="303.6" r="1.0" fill="#f4f6fa"/><circle cx="239.7" cy="428.3" r="0.9" fill="#e8eef6"/><circle cx="252.5" cy="517.2" r="0.5" fill="#26304a"/><circle cx="241.0" cy="357.0" r="0.6" fill="#26304a"/><circle cx="240.8" cy="251.1" r="0.5" fill="#8a9ab8"/><circle cx="251.3" cy="455.7" r="0.7" fill="#c8d2e4"/><circle cx="269.9" cy="523.8" r="0.7" fill="#e8eef6"/><circle cx="258.2" cy="397.7" r="0.8" fill="#f4f6fa"/><circle cx="258.6" cy="352.4" r="0.8" fill="#f4f6fa"/><circle cx="251.0" cy="268.8" r="0.6" fill="#c8d2e4"/><circle cx="247.9" cy="531.2" r="0.6" fill="#e8eef6"/><circle cx="248.9" cy="473.3" r="0.7" fill="#8a9ab8"/><circle cx="239.0" cy="453.6" r="0.6" fill="#26304a"/><circle cx="267.3" cy="294.8" r="0.8" fill="#8a9ab8"/><circle cx="237.0" cy="362.3" r="1.1" fill="#8a9ab8"/><circle cx="237.4" cy="245.8" r="0.5" fill="#c8d2e4"/><circle cx="244.7" cy="466.7" r="1.1" fill="#f4f6fa"/><circle cx="248.3" cy="338.8" r="1.2" fill="#c8d2e4"/><circle cx="244.9" cy="457.2" r="0.7" fill="#f4f6fa"/><circle cx="246.1" cy="458.7" r="0.9" fill="#c8d2e4"/><circle cx="236.8" cy="307.5" r="0.8" fill="#8a9ab8"/><circle cx="268.4" cy="354.8" r="0.7" fill="#8a9ab8"/><circle cx="263.7" cy="276.1" r="0.8" fill="#c8d2e4"/><circle cx="263.3" cy="463.9" r="1.1" fill="#e8eef6"/><circle cx="256.6" cy="336.6" r="0.7" fill="#f4f6fa"/><circle cx="262.7" cy="419.7" r="0.9" fill="#8a9ab8"/><circle cx="261.6" cy="311.7" r="0.5" fill="#c8d2e4"/><circle cx="252.4" cy="403.8" r="0.6" fill="#8a9ab8"/><circle cx="266.0" cy="541.2" r="0.7" fill="#c8d2e4"/><circle cx="243.1" cy="365.5" r="1.2" fill="#8a9ab8"/><circle cx="241.9" cy="276.2" r="0.8" fill="#e8eef6"/><circle cx="261.4" cy="497.6" r="1.0" fill="#c8d2e4"/><circle cx="262.5" cy="326.1" r="0.7" fill="#f4f6fa"/><circle cx="248.7" cy="463.8" r="0.6" fill="#e8eef6"/><circle cx="242.3" cy="308.0" r="0.7" fill="#26304a"/><circle cx="242.4" cy="255.1" r="0.7" fill="#e8eef6"/><circle cx="253.2" cy="306.7" r="1.1" fill="#8a9ab8"/><circle cx="269.7" cy="266.7" r="0.8" fill="#e8eef6"/><circle cx="264.6" cy="518.5" r="0.5" fill="#f4f6fa"/><circle cx="243.9" cy="250.6" r="0.9" fill="#26304a"/><circle cx="242.6" cy="258.3" r="0.9" fill="#e8eef6"/><circle cx="251.3" cy="315.6" r="1.0" fill="#c8d2e4"/><circle cx="239.6" cy="419.8" r="0.9" fill="#e8eef6"/><circle cx="237.3" cy="340.4" r="0.5" fill="#f4f6fa"/><circle cx="237.3" cy="462.0" r="1.1" fill="#c8d2e4"/><circle cx="263.8" cy="361.8" r="0.8" fill="#26304a"/><circle cx="246.6" cy="298.1" r="1.1" fill="#26304a"/><circle cx="252.4" cy="361.5" r="1.1" fill="#26304a"/><circle cx="241.3" cy="400.5" r="1.0" fill="#8a9ab8"/><circle cx="259.6" cy="362.0" r="0.7" fill="#f4f6fa"/><circle cx="250.2" cy="250.9" r="1.0" fill="#f4f6fa"/><circle cx="250.1" cy="240.6" r="1.0" fill="#f4f6fa"/><circle cx="257.9" cy="356.1" r="0.8" fill="#c8d2e4"/><circle cx="250.8" cy="283.5" r="0.6" fill="#c8d2e4"/><circle cx="249.8" cy="508.7" r="0.8" fill="#e8eef6"/><circle cx="240.4" cy="251.0" r="0.6" fill="#8a9ab8"/><circle cx="239.0" cy="427.9" r="0.8" fill="#26304a"/><circle cx="241.8" cy="342.9" r="0.6" fill="#e8eef6"/><circle cx="267.5" cy="268.7" r="0.8" fill="#e8eef6"/><circle cx="246.3" cy="494.6" r="0.5" fill="#8a9ab8"/><circle cx="246.7" cy="423.4" r="0.9" fill="#c8d2e4"/><circle cx="266.7" cy="427.3" r="1.1" fill="#e8eef6"/><circle cx="257.8" cy="500.5" r="0.9" fill="#26304a"/><circle cx="264.8" cy="492.0" r="0.6" fill="#e8eef6"/><circle cx="237.4" cy="526.0" r="0.6" fill="#f4f6fa"/><circle cx="240.2" cy="311.6" r="1.0" fill="#e8eef6"/><circle cx="237.4" cy="409.3" r="1.0" fill="#c8d2e4"/><circle cx="258.7" cy="335.5" r="0.8" fill="#8a9ab8"/><circle cx="254.7" cy="429.4" r="0.7" fill="#8a9ab8"/><circle cx="246.5" cy="312.3" r="0.8" fill="#f4f6fa"/><circle cx="251.2" cy="370.9" r="0.5" fill="#26304a"/><circle cx="269.5" cy="379.2" r="0.8" fill="#26304a"/><circle cx="262.5" cy="377.1" r="0.6" fill="#8a9ab8"/><circle cx="249.6" cy="255.8" r="0.8" fill="#f4f6fa"/><circle cx="239.1" cy="372.0" r="0.9" fill="#c8d2e4"/><circle cx="237.4" cy="275.4" r="1.1" fill="#f4f6fa"/><circle cx="262.4" cy="393.6" r="0.5" fill="#26304a"/><circle cx="266.4" cy="437.4" r="1.0" fill="#c8d2e4"/><circle cx="265.1" cy="543.8" r="1.0" fill="#c8d2e4"/><circle cx="242.6" cy="539.3" r="0.8" fill="#e8eef6"/><circle cx="259.3" cy="458.5" r="0.7" fill="#f4f6fa"/><circle cx="256.8" cy="313.2" r="0.7" fill="#26304a"/><circle cx="245.3" cy="487.8" r="0.6" fill="#26304a"/><circle cx="268.8" cy="383.8" r="0.9" fill="#26304a"/><circle cx="253.2" cy="333.9" r="0.5" fill="#e8eef6"/><circle cx="249.7" cy="432.3" r="0.7" fill="#f4f6fa"/><circle cx="266.4" cy="287.3" r="1.0" fill="#c8d2e4"/><circle cx="262.1" cy="250.1" r="1.1" fill="#8a9ab8"/><circle cx="254.9" cy="414.8" r="1.1" fill="#c8d2e4"/><circle cx="244.6" cy="401.1" r="1.1" fill="#f4f6fa"/><circle cx="245.0" cy="542.1" r="0.9" fill="#f4f6fa"/><circle cx="247.2" cy="260.2" r="0.7" fill="#26304a"/><circle cx="261.3" cy="250.0" r="1.1" fill="#f4f6fa"/><circle cx="246.5" cy="534.4" r="1.1" fill="#f4f6fa"/><circle cx="260.9" cy="466.6" r="0.7" fill="#f4f6fa"/><circle cx="256.9" cy="369.0" r="0.9" fill="#c8d2e4"/><circle cx="240.5" cy="305.5" r="1.0" fill="#c8d2e4"/><circle cx="237.8" cy="410.8" r="0.7" fill="#26304a"/><circle cx="248.1" cy="304.5" r="0.9" fill="#26304a"/><circle cx="240.5" cy="348.5" r="1.1" fill="#e8eef6"/><circle cx="240.6" cy="525.3" r="0.7" fill="#e8eef6"/><circle cx="251.3" cy="254.7" r="0.6" fill="#f4f6fa"/><circle cx="249.7" cy="316.9" r="0.5" fill="#26304a"/><circle cx="266.4" cy="419.4" r="0.9" fill="#26304a"/><circle cx="267.9" cy="462.4" r="0.7" fill="#c8d2e4"/><circle cx="237.5" cy="399.8" r="0.8" fill="#e8eef6"/><circle cx="241.4" cy="517.6" r="0.6" fill="#26304a"/><circle cx="254.7" cy="526.7" r="0.6" fill="#e8eef6"/><circle cx="253.6" cy="434.2" r="1.0" fill="#8a9ab8"/><circle cx="263.7" cy="289.1" r="0.7" fill="#f4f6fa"/><circle cx="257.3" cy="543.2" r="1.0" fill="#8a9ab8"/><circle cx="260.3" cy="237.0" r="1.1" fill="#8a9ab8"/><circle cx="238.7" cy="438.2" r="0.6" fill="#c8d2e4"/><circle cx="244.9" cy="434.6" r="0.6" fill="#f4f6fa"/><circle cx="260.2" cy="317.5" r="0.9" fill="#8a9ab8"/><circle cx="259.3" cy="519.4" r="1.2" fill="#f4f6fa"/><circle cx="257.8" cy="534.2" r="0.7" fill="#26304a"/><circle cx="236.5" cy="315.7" r="0.7" fill="#e8eef6"/><circle cx="268.1" cy="466.3" r="0.7" fill="#8a9ab8"/><circle cx="247.2" cy="309.1" r="1.1" fill="#26304a"/><circle cx="252.0" cy="495.3" r="1.0" fill="#c8d2e4"/><circle cx="250.9" cy="459.6" r="0.9" fill="#f4f6fa"/><circle cx="262.8" cy="356.4" r="0.9" fill="#26304a"/><circle cx="267.0" cy="279.8" r="0.5" fill="#c8d2e4"/><circle cx="257.1" cy="285.2" r="1.2" fill="#c8d2e4"/><circle cx="237.0" cy="277.9" r="1.0" fill="#c8d2e4"/><circle cx="259.7" cy="463.4" r="0.5" fill="#26304a"/><circle cx="261.9" cy="296.8" r="1.2" fill="#26304a"/><circle cx="266.3" cy="255.4" r="1.1" fill="#8a9ab8"/><circle cx="239.6" cy="298.8" r="0.6" fill="#c8d2e4"/><circle cx="268.3" cy="517.4" r="1.0" fill="#c8d2e4"/><circle cx="264.1" cy="430.8" r="0.7" fill="#c8d2e4"/><circle cx="240.5" cy="480.5" r="1.0" fill="#f4f6fa"/><circle cx="246.9" cy="366.4" r="0.5" fill="#f4f6fa"/><circle cx="267.6" cy="250.0" r="1.0" fill="#f4f6fa"/><circle cx="262.2" cy="421.6" r="0.8" fill="#f4f6fa"/><circle cx="257.0" cy="244.6" r="0.8" fill="#8a9ab8"/><circle cx="253.6" cy="265.5" r="0.8" fill="#c8d2e4"/><circle cx="254.3" cy="302.1" r="1.1" fill="#c8d2e4"/><circle cx="255.5" cy="324.0" r="0.8" fill="#26304a"/><circle cx="242.9" cy="471.3" r="1.2" fill="#c8d2e4"/><circle cx="247.8" cy="264.7" r="1.0" fill="#e8eef6"/><circle cx="268.9" cy="418.7" r="1.2" fill="#26304a"/><circle cx="244.9" cy="527.6" r="0.7" fill="#e8eef6"/><circle cx="267.9" cy="306.8" r="0.6" fill="#c8d2e4"/><circle cx="252.7" cy="542.2" r="0.9" fill="#c8d2e4"/><circle cx="257.3" cy="345.2" r="0.8" fill="#8a9ab8"/><circle cx="266.3" cy="466.0" r="0.8" fill="#c8d2e4"/><circle cx="248.6" cy="329.0" r="0.8" fill="#26304a"/><circle cx="253.0" cy="352.6" r="1.1" fill="#e8eef6"/><circle cx="268.1" cy="274.3" r="0.9" fill="#26304a"/><circle cx="258.0" cy="343.0" r="0.7" fill="#e8eef6"/><circle cx="265.5" cy="374.6" r="0.9" fill="#f4f6fa"/><circle cx="241.8" cy="371.0" r="1.0" fill="#26304a"/><circle cx="243.9" cy="338.6" r="0.9" fill="#e8eef6"/><circle cx="253.3" cy="317.9" r="1.0" fill="#26304a"/><circle cx="241.3" cy="283.4" r="0.7" fill="#f4f6fa"/><circle cx="256.5" cy="343.1" r="0.7" fill="#e8eef6"/><circle cx="244.8" cy="531.0" r="1.2" fill="#e8eef6"/><circle cx="268.7" cy="266.5" r="0.8" fill="#e8eef6"/><circle cx="263.0" cy="462.3" r="0.8" fill="#e8eef6"/><circle cx="239.7" cy="517.5" r="0.7" fill="#8a9ab8"/><circle cx="251.8" cy="238.9" r="1.1" fill="#8a9ab8"/><circle cx="259.6" cy="390.2" r="0.9" fill="#8a9ab8"/><circle cx="236.8" cy="314.7" r="1.0" fill="#c8d2e4"/><circle cx="261.2" cy="516.5" r="0.8" fill="#26304a"/><circle cx="256.0" cy="435.6" r="1.1" fill="#26304a"/><circle cx="265.0" cy="445.7" r="0.9" fill="#8a9ab8"/><circle cx="250.7" cy="315.5" r="1.0" fill="#8a9ab8"/><circle cx="244.2" cy="359.0" r="1.0" fill="#e8eef6"/><circle cx="244.5" cy="366.3" r="0.8" fill="#26304a"/><circle cx="265.2" cy="395.7" r="1.0" fill="#e8eef6"/><circle cx="266.4" cy="336.7" r="0.5" fill="#8a9ab8"/><circle cx="266.9" cy="268.0" r="0.7" fill="#e8eef6"/><circle cx="241.5" cy="477.4" r="1.2" fill="#26304a"/><circle cx="247.8" cy="497.6" r="0.8" fill="#e8eef6"/><circle cx="260.4" cy="393.8" r="0.9" fill="#f4f6fa"/><circle cx="253.7" cy="362.2" r="1.2" fill="#e8eef6"/><circle cx="269.7" cy="292.0" r="0.9" fill="#c8d2e4"/><circle cx="260.8" cy="425.3" r="0.9" fill="#f4f6fa"/><circle cx="245.3" cy="358.9" r="0.5" fill="#8a9ab8"/><circle cx="267.1" cy="429.9" r="1.0" fill="#26304a"/><circle cx="245.0" cy="304.6" r="1.0" fill="#26304a"/><circle cx="269.0" cy="543.2" r="1.2" fill="#8a9ab8"/><circle cx="243.2" cy="275.1" r="1.0" fill="#e8eef6"/><circle cx="252.0" cy="409.2" r="0.7" fill="#e8eef6"/><circle cx="248.0" cy="433.0" r="1.1" fill="#8a9ab8"/><circle cx="251.9" cy="326.2" r="0.9" fill="#e8eef6"/><circle cx="262.5" cy="380.5" r="1.0" fill="#e8eef6"/><circle cx="245.1" cy="351.6" r="0.7" fill="#8a9ab8"/><circle cx="259.1" cy="384.3" r="1.1" fill="#f4f6fa"/><circle cx="248.2" cy="437.9" r="0.7" fill="#8a9ab8"/><circle cx="250.6" cy="432.6" r="1.0" fill="#f4f6fa"/><circle cx="241.2" cy="329.0" r="0.8" fill="#c8d2e4"/><circle cx="264.1" cy="515.8" r="1.0" fill="#e8eef6"/><circle cx="254.0" cy="342.0" r="0.9" fill="#c8d2e4"/><circle cx="243.1" cy="257.3" r="0.7" fill="#26304a"/><circle cx="239.5" cy="279.2" r="0.7" fill="#8a9ab8"/><circle cx="247.8" cy="282.3" r="1.1" fill="#26304a"/><circle cx="241.7" cy="511.3" r="0.9" fill="#c8d2e4"/><circle cx="258.7" cy="512.1" r="1.1" fill="#f4f6fa"/><circle cx="242.7" cy="449.8" r="0.9" fill="#8a9ab8"/><circle cx="258.8" cy="271.3" r="0.6" fill="#8a9ab8"/><circle cx="244.0" cy="278.2" r="0.8" fill="#c8d2e4"/><circle cx="252.5" cy="515.7" r="1.0" fill="#e8eef6"/><circle cx="252.9" cy="402.3" r="1.1" fill="#c8d2e4"/><circle cx="241.5" cy="334.4" r="1.0" fill="#8a9ab8"/><circle cx="258.6" cy="495.6" r="0.8" fill="#8a9ab8"/><circle cx="270.0" cy="444.5" r="0.6" fill="#f4f6fa"/><circle cx="257.6" cy="243.8" r="0.9" fill="#f4f6fa"/><circle cx="263.5" cy="264.1" r="0.8" fill="#e8eef6"/><circle cx="237.2" cy="457.6" r="0.9" fill="#f4f6fa"/><circle cx="239.2" cy="439.3" r="0.7" fill="#26304a"/><circle cx="254.8" cy="517.8" r="0.7" fill="#f4f6fa"/><circle cx="250.4" cy="406.7" r="1.1" fill="#f4f6fa"/><circle cx="248.1" cy="388.1" r="0.7" fill="#f4f6fa"/><circle cx="265.7" cy="341.9" r="0.6" fill="#8a9ab8"/><circle cx="262.9" cy="337.6" r="0.7" fill="#f4f6fa"/><circle cx="240.3" cy="536.6" r="0.6" fill="#c8d2e4"/><circle cx="249.6" cy="406.8" r="0.8" fill="#26304a"/><circle cx="237.7" cy="328.1" r="0.5" fill="#e8eef6"/><circle cx="263.9" cy="382.3" r="1.0" fill="#c8d2e4"/><circle cx="262.8" cy="517.0" r="0.9" fill="#26304a"/><circle cx="241.0" cy="443.8" r="1.0" fill="#c8d2e4"/><circle cx="243.2" cy="441.8" r="0.8" fill="#e8eef6"/><circle cx="239.4" cy="291.2" r="0.5" fill="#c8d2e4"/><circle cx="267.1" cy="438.3" r="0.8" fill="#e8eef6"/><circle cx="262.7" cy="409.3" r="0.7" fill="#f4f6fa"/><circle cx="242.3" cy="245.6" r="0.5" fill="#26304a"/><circle cx="257.8" cy="524.5" r="0.5" fill="#26304a"/><circle cx="253.8" cy="490.7" r="1.0" fill="#8a9ab8"/><circle cx="255.6" cy="519.8" r="0.8" fill="#c8d2e4"/><circle cx="259.1" cy="419.1" r="1.2" fill="#e8eef6"/><circle cx="252.2" cy="362.8" r="0.6" fill="#8a9ab8"/><circle cx="243.2" cy="282.0" r="0.5" fill="#c8d2e4"/><circle cx="236.3" cy="442.5" r="1.2" fill="#c8d2e4"/><circle cx="243.4" cy="272.6" r="0.8" fill="#f4f6fa"/><circle cx="260.5" cy="310.1" r="1.0" fill="#e8eef6"/><circle cx="267.4" cy="348.4" r="1.0" fill="#e8eef6"/><circle cx="260.8" cy="261.1" r="0.9" fill="#8a9ab8"/><circle cx="251.7" cy="524.0" r="0.7" fill="#c8d2e4"/><circle cx="260.4" cy="238.5" r="0.5" fill="#26304a"/><circle cx="238.7" cy="331.4" r="1.0" fill="#e8eef6"/><circle cx="268.6" cy="493.8" r="0.9" fill="#f4f6fa"/><circle cx="248.5" cy="413.2" r="0.8" fill="#e8eef6"/><circle cx="240.9" cy="482.2" r="0.8" fill="#e8eef6"/><circle cx="257.4" cy="364.6" r="0.8" fill="#8a9ab8"/><circle cx="268.1" cy="478.2" r="0.9" fill="#f4f6fa"/><circle cx="245.5" cy="427.8" r="1.0" fill="#26304a"/><circle cx="247.3" cy="422.8" r="1.2" fill="#e8eef6"/><circle cx="256.4" cy="330.7" r="0.8" fill="#e8eef6"/><circle cx="248.8" cy="447.3" r="0.9" fill="#e8eef6"/><circle cx="263.5" cy="322.8" r="0.5" fill="#f4f6fa"/><circle cx="245.1" cy="283.8" r="1.1" fill="#c8d2e4"/><circle cx="245.8" cy="278.6" r="1.1" fill="#26304a"/><circle cx="241.0" cy="537.4" r="1.1" fill="#26304a"/><circle cx="259.3" cy="518.3" r="0.7" fill="#c8d2e4"/><circle cx="254.4" cy="385.3" r="0.8" fill="#e8eef6"/><circle cx="246.5" cy="252.8" r="0.8" fill="#e8eef6"/><circle cx="267.5" cy="416.8" r="0.5" fill="#8a9ab8"/><circle cx="251.6" cy="262.2" r="1.1" fill="#c8d2e4"/><circle cx="243.9" cy="414.7" r="1.1" fill="#26304a"/><circle cx="246.9" cy="391.9" r="0.6" fill="#e8eef6"/><circle cx="242.5" cy="291.0" r="1.0" fill="#f4f6fa"/><circle cx="255.6" cy="346.3" r="1.0" fill="#e8eef6"/><circle cx="244.4" cy="521.0" r="0.8" fill="#c8d2e4"/><circle cx="248.6" cy="378.7" r="0.6" fill="#f4f6fa"/><circle cx="256.3" cy="341.9" r="0.9" fill="#c8d2e4"/><circle cx="239.2" cy="298.4" r="1.1" fill="#26304a"/><circle cx="252.5" cy="410.8" r="0.7" fill="#f4f6fa"/><circle cx="250.5" cy="528.4" r="1.0" fill="#26304a"/><circle cx="268.8" cy="313.7" r="0.5" fill="#e8eef6"/><circle cx="269.8" cy="352.2" r="0.5" fill="#c8d2e4"/><circle cx="255.0" cy="504.9" r="0.8" fill="#c8d2e4"/><circle cx="265.3" cy="433.4" r="1.1" fill="#c8d2e4"/><circle cx="244.7" cy="410.0" r="0.9" fill="#26304a"/><circle cx="249.4" cy="374.0" r="0.6" fill="#e8eef6"/><circle cx="269.7" cy="303.7" r="0.5" fill="#f4f6fa"/><circle cx="268.0" cy="253.4" r="0.9" fill="#c8d2e4"/><circle cx="264.5" cy="249.6" r="1.1" fill="#8a9ab8"/><circle cx="237.9" cy="279.9" r="1.0" fill="#e8eef6"/><circle cx="259.0" cy="327.6" r="0.9" fill="#c8d2e4"/><circle cx="252.0" cy="350.2" r="0.8" fill="#f4f6fa"/><circle cx="252.4" cy="287.3" r="0.7" fill="#e8eef6"/><circle cx="267.1" cy="511.6" r="0.8" fill="#e8eef6"/><circle cx="263.2" cy="283.7" r="1.1" fill="#c8d2e4"/><circle cx="267.8" cy="503.7" r="1.1" fill="#e8eef6"/><circle cx="262.5" cy="532.0" r="1.1" fill="#8a9ab8"/><circle cx="264.6" cy="429.8" r="0.8" fill="#f4f6fa"/><circle cx="247.0" cy="307.5" r="0.6" fill="#f4f6fa"/><circle cx="240.9" cy="303.7" r="0.5" fill="#8a9ab8"/><circle cx="254.8" cy="279.9" r="1.1" fill="#f4f6fa"/><circle cx="250.2" cy="311.5" r="0.5" fill="#26304a"/><circle cx="264.5" cy="338.7" r="0.6" fill="#8a9ab8"/><circle cx="239.7" cy="376.4" r="0.8" fill="#e8eef6"/><circle cx="269.3" cy="252.6" r="1.1" fill="#e8eef6"/><circle cx="255.0" cy="493.9" r="0.6" fill="#e8eef6"/><circle cx="269.0" cy="368.9" r="0.7" fill="#e8eef6"/><circle cx="267.5" cy="265.2" r="0.7" fill="#e8eef6"/><circle cx="238.0" cy="460.2" r="0.7" fill="#c8d2e4"/><circle cx="251.0" cy="392.4" r="0.9" fill="#8a9ab8"/><circle cx="236.1" cy="493.0" r="0.9" fill="#e8eef6"/><circle cx="248.2" cy="247.6" r="0.8" fill="#f4f6fa"/><circle cx="255.4" cy="277.8" r="0.6" fill="#e8eef6"/><circle cx="260.2" cy="296.0" r="0.6" fill="#c8d2e4"/><circle cx="266.2" cy="461.6" r="1.0" fill="#e8eef6"/><circle cx="243.0" cy="424.9" r="1.0" fill="#e8eef6"/><circle cx="255.8" cy="297.7" r="0.5" fill="#26304a"/><circle cx="249.9" cy="458.7" r="0.5" fill="#f4f6fa"/><circle cx="247.4" cy="496.0" r="1.1" fill="#8a9ab8"/><circle cx="239.1" cy="362.0" r="1.0" fill="#e8eef6"/><circle cx="265.6" cy="317.5" r="0.6" fill="#f4f6fa"/><circle cx="237.2" cy="452.7" r="0.9" fill="#c8d2e4"/><circle cx="248.1" cy="524.0" r="1.2" fill="#c8d2e4"/><circle cx="240.1" cy="456.5" r="1.1" fill="#f4f6fa"/><circle cx="262.5" cy="504.1" r="0.9" fill="#c8d2e4"/><circle cx="245.9" cy="268.4" r="1.0" fill="#8a9ab8"/><circle cx="253.5" cy="399.5" r="0.9" fill="#c8d2e4"/><circle cx="244.3" cy="262.5" r="0.9" fill="#e8eef6"/><circle cx="239.5" cy="312.6" r="1.1" fill="#c8d2e4"/><circle cx="236.7" cy="522.2" r="1.0" fill="#f4f6fa"/><circle cx="236.6" cy="420.8" r="0.9" fill="#26304a"/><circle cx="244.1" cy="372.7" r="0.7" fill="#c8d2e4"/><circle cx="260.4" cy="249.0" r="0.6" fill="#8a9ab8"/><circle cx="255.9" cy="471.1" r="0.6" fill="#c8d2e4"/><circle cx="249.8" cy="277.5" r="0.9" fill="#e8eef6"/><circle cx="241.0" cy="412.6" r="1.0" fill="#e8eef6"/><circle cx="268.2" cy="240.7" r="0.9" fill="#8a9ab8"/><circle cx="256.3" cy="421.9" r="0.5" fill="#c8d2e4"/><circle cx="262.4" cy="340.0" r="0.7" fill="#f4f6fa"/><circle cx="260.3" cy="496.3" r="0.9" fill="#f4f6fa"/><circle cx="263.7" cy="497.8" r="0.5" fill="#26304a"/><circle cx="241.0" cy="445.9" r="0.7" fill="#8a9ab8"/><circle cx="258.5" cy="238.6" r="0.6" fill="#e8eef6"/><circle cx="238.4" cy="369.2" r="0.9" fill="#c8d2e4"/><circle cx="243.7" cy="365.4" r="0.8" fill="#8a9ab8"/><circle cx="257.5" cy="485.9" r="1.1" fill="#c8d2e4"/><circle cx="237.2" cy="433.9" r="0.7" fill="#26304a"/><circle cx="245.3" cy="403.1" r="1.1" fill="#26304a"/><circle cx="239.4" cy="272.7" r="0.5" fill="#e8eef6"/><circle cx="268.3" cy="324.1" r="0.7" fill="#e8eef6"/><circle cx="240.1" cy="419.2" r="1.2" fill="#26304a"/><circle cx="266.6" cy="261.2" r="0.9" fill="#e8eef6"/><circle cx="251.0" cy="393.6" r="1.1" fill="#8a9ab8"/><circle cx="255.6" cy="320.0" r="1.0" fill="#26304a"/><circle cx="245.8" cy="375.8" r="1.0" fill="#e8eef6"/><circle cx="258.1" cy="297.4" r="1.0" fill="#8a9ab8"/><circle cx="266.3" cy="329.1" r="0.8" fill="#f4f6fa"/><circle cx="237.1" cy="338.4" r="0.6" fill="#26304a"/><circle cx="249.0" cy="416.6" r="0.5" fill="#f4f6fa"/><circle cx="241.5" cy="530.1" r="0.7" fill="#f4f6fa"/><circle cx="252.7" cy="323.3" r="1.2" fill="#f4f6fa"/><circle cx="237.9" cy="241.8" r="0.9" fill="#26304a"/><circle cx="265.6" cy="371.4" r="0.5" fill="#8a9ab8"/><circle cx="264.4" cy="344.8" r="1.0" fill="#26304a"/><circle cx="243.7" cy="532.4" r="1.0" fill="#e8eef6"/><circle cx="250.2" cy="442.2" r="0.6" fill="#e8eef6"/><circle cx="257.0" cy="498.5" r="1.1" fill="#26304a"/><circle cx="239.2" cy="500.4" r="1.1" fill="#8a9ab8"/><circle cx="245.1" cy="430.5" r="0.9" fill="#e8eef6"/><circle cx="250.0" cy="267.0" r="0.8" fill="#26304a"/><circle cx="255.9" cy="389.3" r="1.2" fill="#26304a"/><circle cx="241.1" cy="498.5" r="0.7" fill="#26304a"/><circle cx="256.6" cy="352.7" r="0.8" fill="#8a9ab8"/><circle cx="245.8" cy="344.3" r="0.7" fill="#26304a"/><circle cx="254.9" cy="354.2" r="0.7" fill="#8a9ab8"/><circle cx="248.9" cy="328.0" r="0.9" fill="#e8eef6"/><circle cx="250.8" cy="351.9" r="0.7" fill="#f4f6fa"/><circle cx="247.0" cy="496.5" r="1.1" fill="#f4f6fa"/><circle cx="242.9" cy="367.2" r="1.1" fill="#c8d2e4"/><circle cx="236.9" cy="314.5" r="1.1" fill="#f4f6fa"/><circle cx="267.3" cy="474.8" r="0.9" fill="#8a9ab8"/><circle cx="253.6" cy="395.4" r="1.0" fill="#8a9ab8"/><circle cx="251.8" cy="247.6" r="1.0" fill="#8a9ab8"/><circle cx="268.2" cy="444.7" r="0.9" fill="#c8d2e4"/><circle cx="249.9" cy="390.3" r="1.0" fill="#26304a"/><circle cx="241.2" cy="293.3" r="0.8" fill="#8a9ab8"/><circle cx="251.0" cy="428.6" r="1.2" fill="#f4f6fa"/><circle cx="259.5" cy="466.4" r="0.6" fill="#f4f6fa"/><circle cx="246.8" cy="538.3" r="1.1" fill="#26304a"/><circle cx="242.0" cy="438.3" r="0.7" fill="#f4f6fa"/><circle cx="263.9" cy="542.0" r="1.1" fill="#8a9ab8"/><circle cx="257.5" cy="397.5" r="1.1" fill="#e8eef6"/><circle cx="253.2" cy="293.3" r="0.6" fill="#26304a"/><circle cx="256.5" cy="344.5" r="1.2" fill="#c8d2e4"/><circle cx="259.5" cy="238.3" r="0.5" fill="#26304a"/><circle cx="236.1" cy="329.4" r="1.1" fill="#26304a"/><circle cx="236.5" cy="244.2" r="0.6" fill="#26304a"/><circle cx="255.3" cy="505.1" r="1.1" fill="#26304a"/><circle cx="269.9" cy="413.1" r="0.8" fill="#c8d2e4"/><circle cx="240.9" cy="395.7" r="0.9" fill="#c8d2e4"/><circle cx="239.4" cy="287.9" r="0.9" fill="#8a9ab8"/><circle cx="256.8" cy="485.0" r="0.5" fill="#c8d2e4"/><circle cx="259.3" cy="414.4" r="0.6" fill="#e8eef6"/><circle cx="248.0" cy="287.5" r="0.7" fill="#c8d2e4"/><circle cx="265.2" cy="528.8" r="0.5" fill="#e8eef6"/><circle cx="251.3" cy="354.6" r="0.5" fill="#8a9ab8"/><circle cx="255.8" cy="532.5" r="0.8" fill="#26304a"/><circle cx="244.1" cy="304.1" r="0.6" fill="#26304a"/><circle cx="265.1" cy="332.6" r="1.1" fill="#8a9ab8"/><circle cx="246.3" cy="421.8" r="1.2" fill="#8a9ab8"/><circle cx="269.3" cy="255.9" r="1.0" fill="#26304a"/><circle cx="243.5" cy="330.8" r="1.1" fill="#8a9ab8"/><circle cx="236.8" cy="504.1" r="0.6" fill="#e8eef6"/><circle cx="248.2" cy="292.8" r="1.2" fill="#f4f6fa"/><circle cx="249.5" cy="347.5" r="0.7" fill="#8a9ab8"/><circle cx="247.4" cy="436.9" r="1.2" fill="#8a9ab8"/><circle cx="264.1" cy="343.9" r="0.7" fill="#e8eef6"/><circle cx="251.9" cy="341.8" r="0.8" fill="#f4f6fa"/><circle cx="258.6" cy="340.8" r="0.6" fill="#e8eef6"/><circle cx="239.1" cy="318.6" r="1.1" fill="#e8eef6"/><circle cx="254.9" cy="379.8" r="1.1" fill="#e8eef6"/><circle cx="241.4" cy="344.4" r="1.0" fill="#8a9ab8"/><circle cx="257.4" cy="415.0" r="0.7" fill="#8a9ab8"/><circle cx="253.2" cy="305.5" r="0.8" fill="#e8eef6"/><circle cx="268.0" cy="544.4" r="0.9" fill="#8a9ab8"/><circle cx="256.0" cy="349.1" r="0.7" fill="#26304a"/><circle cx="253.3" cy="273.9" r="1.0" fill="#26304a"/><circle cx="239.1" cy="499.1" r="1.0" fill="#8a9ab8"/><circle cx="237.0" cy="457.7" r="0.6" fill="#c8d2e4"/><circle cx="249.3" cy="261.7" r="0.6" fill="#e8eef6"/><circle cx="246.9" cy="440.5" r="0.6" fill="#26304a"/><circle cx="267.1" cy="484.6" r="1.0" fill="#e8eef6"/><circle cx="238.2" cy="331.5" r="0.7" fill="#e8eef6"/><circle cx="263.8" cy="358.7" r="0.7" fill="#8a9ab8"/><circle cx="262.3" cy="508.7" r="1.1" fill="#e8eef6"/><circle cx="267.8" cy="289.7" r="0.8" fill="#f4f6fa"/><circle cx="266.5" cy="242.8" r="1.0" fill="#8a9ab8"/><circle cx="244.4" cy="497.5" r="0.7" fill="#c8d2e4"/><circle cx="242.2" cy="270.7" r="1.1" fill="#e8eef6"/><circle cx="260.2" cy="247.5" r="0.5" fill="#e8eef6"/><circle cx="250.6" cy="469.7" r="0.6" fill="#c8d2e4"/><circle cx="254.8" cy="430.1" r="1.2" fill="#26304a"/><circle cx="264.5" cy="411.8" r="1.0" fill="#f4f6fa"/><circle cx="267.5" cy="442.7" r="0.9" fill="#c8d2e4"/><circle cx="239.8" cy="471.7" r="1.0" fill="#c8d2e4"/><circle cx="265.8" cy="416.4" r="1.0" fill="#e8eef6"/><circle cx="259.2" cy="246.5" r="0.7" fill="#f4f6fa"/><circle cx="261.5" cy="261.7" r="1.0" fill="#8a9ab8"/><circle cx="269.9" cy="425.8" r="0.7" fill="#26304a"/><circle cx="239.1" cy="528.4" r="0.8" fill="#f4f6fa"/><circle cx="259.5" cy="464.0" r="1.1" fill="#8a9ab8"/><circle cx="253.3" cy="444.7" r="0.6" fill="#26304a"/><circle cx="264.8" cy="476.3" r="0.8" fill="#e8eef6"/><circle cx="237.5" cy="452.8" r="1.1" fill="#f4f6fa"/><circle cx="241.9" cy="285.7" r="1.0" fill="#e8eef6"/><circle cx="254.5" cy="312.4" r="0.5" fill="#f4f6fa"/><circle cx="247.8" cy="263.7" r="0.9" fill="#e8eef6"/><circle cx="240.6" cy="454.2" r="1.0" fill="#e8eef6"/><circle cx="260.0" cy="236.8" r="1.0" fill="#e8eef6"/><circle cx="267.8" cy="344.0" r="0.7" fill="#e8eef6"/><circle cx="256.0" cy="309.6" r="0.9" fill="#c8d2e4"/><circle cx="254.6" cy="470.8" r="0.6" fill="#e8eef6"/><circle cx="256.4" cy="378.0" r="1.0" fill="#e8eef6"/><circle cx="239.9" cy="324.7" r="0.8" fill="#e8eef6"/><circle cx="237.5" cy="512.7" r="0.7" fill="#c8d2e4"/><circle cx="259.9" cy="373.9" r="0.6" fill="#f4f6fa"/><circle cx="251.1" cy="411.4" r="0.7" fill="#26304a"/><circle cx="238.4" cy="238.4" r="1.2" fill="#8a9ab8"/><circle cx="238.9" cy="457.3" r="1.2" fill="#26304a"/><circle cx="245.0" cy="435.0" r="1.2" fill="#8a9ab8"/><circle cx="242.5" cy="403.4" r="0.5" fill="#c8d2e4"/><circle cx="257.9" cy="429.6" r="1.2" fill="#f4f6fa"/><circle cx="258.2" cy="259.2" r="1.0" fill="#c8d2e4"/><circle cx="262.3" cy="495.3" r="0.7" fill="#e8eef6"/><circle cx="268.7" cy="397.9" r="1.1" fill="#e8eef6"/><circle cx="239.5" cy="457.8" r="0.7" fill="#26304a"/><circle cx="247.1" cy="292.2" r="1.1" fill="#f4f6fa"/><circle cx="243.8" cy="277.3" r="1.1" fill="#f4f6fa"/><circle cx="244.1" cy="247.8" r="0.9" fill="#8a9ab8"/><circle cx="266.8" cy="527.9" r="0.8" fill="#8a9ab8"/><circle cx="260.8" cy="543.6" r="0.9" fill="#c8d2e4"/><circle cx="240.8" cy="305.5" r="0.6" fill="#8a9ab8"/><circle cx="239.0" cy="247.4" r="0.8" fill="#e8eef6"/><circle cx="243.4" cy="350.5" r="0.5" fill="#26304a"/><circle cx="265.1" cy="478.9" r="0.8" fill="#f4f6fa"/><circle cx="238.4" cy="252.1" r="1.0" fill="#f4f6fa"/><circle cx="238.1" cy="237.7" r="1.2" fill="#e8eef6"/><circle cx="266.7" cy="286.0" r="0.7" fill="#8a9ab8"/><circle cx="263.3" cy="444.3" r="0.9" fill="#8a9ab8"/><circle cx="238.9" cy="335.3" r="0.8" fill="#26304a"/><circle cx="266.9" cy="503.3" r="1.2" fill="#26304a"/><circle cx="257.1" cy="486.5" r="0.5" fill="#f4f6fa"/><circle cx="256.7" cy="327.1" r="0.9" fill="#f4f6fa"/><circle cx="252.3" cy="435.7" r="0.7" fill="#f4f6fa"/><circle cx="254.0" cy="431.5" r="1.1" fill="#e8eef6"/><circle cx="259.1" cy="373.7" r="0.6" fill="#26304a"/><circle cx="248.6" cy="415.0" r="0.8" fill="#26304a"/><circle cx="244.2" cy="371.8" r="0.7" fill="#e8eef6"/><circle cx="242.1" cy="510.9" r="0.9" fill="#c8d2e4"/><circle cx="243.5" cy="494.6" r="1.0" fill="#e8eef6"/><circle cx="254.0" cy="313.0" r="0.8" fill="#26304a"/><circle cx="251.6" cy="402.8" r="1.0" fill="#26304a"/><circle cx="266.9" cy="410.7" r="1.1" fill="#c8d2e4"/><circle cx="263.2" cy="276.6" r="0.9" fill="#26304a"/><circle cx="260.3" cy="469.6" r="0.6" fill="#26304a"/><circle cx="239.5" cy="492.4" r="0.8" fill="#e8eef6"/><circle cx="268.9" cy="294.4" r="0.8" fill="#c8d2e4"/><circle cx="240.7" cy="475.6" r="0.5" fill="#e8eef6"/><circle cx="237.6" cy="247.9" r="1.0" fill="#e8eef6"/><circle cx="251.6" cy="272.4" r="0.6" fill="#c8d2e4"/><circle cx="257.1" cy="505.4" r="0.9" fill="#f4f6fa"/><circle cx="241.7" cy="466.1" r="0.7" fill="#c8d2e4"/><circle cx="264.1" cy="273.0" r="0.8" fill="#26304a"/><circle cx="268.2" cy="458.8" r="0.5" fill="#26304a"/><circle cx="248.0" cy="345.3" r="0.7" fill="#26304a"/><circle cx="239.8" cy="521.9" r="1.0" fill="#f4f6fa"/><circle cx="248.0" cy="450.1" r="0.5" fill="#26304a"/><circle cx="251.0" cy="480.3" r="0.8" fill="#c8d2e4"/><circle cx="263.2" cy="292.4" r="0.9" fill="#f4f6fa"/><circle cx="265.7" cy="442.6" r="1.1" fill="#26304a"/><circle cx="265.8" cy="401.9" r="1.0" fill="#f4f6fa"/><circle cx="268.3" cy="239.3" r="0.7" fill="#e8eef6"/><circle cx="252.6" cy="385.0" r="0.5" fill="#c8d2e4"/><circle cx="238.5" cy="427.3" r="1.0" fill="#26304a"/><circle cx="249.3" cy="382.5" r="0.6" fill="#8a9ab8"/><circle cx="249.4" cy="505.6" r="0.9" fill="#c8d2e4"/><circle cx="248.3" cy="398.8" r="0.7" fill="#e8eef6"/><circle cx="256.0" cy="248.5" r="0.6" fill="#f4f6fa"/><circle cx="260.7" cy="337.7" r="0.8" fill="#f4f6fa"/><circle cx="246.7" cy="339.0" r="0.8" fill="#e8eef6"/><circle cx="236.7" cy="377.4" r="1.2" fill="#c8d2e4"/><circle cx="257.4" cy="460.4" r="0.6" fill="#8a9ab8"/><circle cx="245.3" cy="390.0" r="0.7" fill="#26304a"/><circle cx="255.5" cy="416.2" r="0.6" fill="#c8d2e4"/><circle cx="267.1" cy="514.8" r="0.6" fill="#e8eef6"/><circle cx="262.3" cy="431.3" r="0.9" fill="#f4f6fa"/><circle cx="262.9" cy="480.8" r="0.7" fill="#e8eef6"/><circle cx="259.2" cy="329.2" r="1.0" fill="#f4f6fa"/><circle cx="253.3" cy="431.9" r="0.7" fill="#26304a"/><circle cx="260.3" cy="338.7" r="1.0" fill="#f4f6fa"/><circle cx="266.0" cy="477.6" r="0.9" fill="#e8eef6"/><circle cx="263.5" cy="544.0" r="0.6" fill="#e8eef6"/><circle cx="236.2" cy="505.0" r="0.8" fill="#8a9ab8"/><circle cx="249.5" cy="474.4" r="1.2" fill="#26304a"/><circle cx="238.3" cy="328.5" r="0.7" fill="#26304a"/><circle cx="254.7" cy="525.6" r="0.7" fill="#e8eef6"/><circle cx="255.8" cy="259.8" r="0.6" fill="#26304a"/><circle cx="248.0" cy="380.0" r="1.2" fill="#8a9ab8"/><circle cx="260.5" cy="520.8" r="1.1" fill="#f4f6fa"/><circle cx="266.6" cy="320.5" r="0.7" fill="#c8d2e4"/><circle cx="261.8" cy="429.2" r="0.7" fill="#c8d2e4"/><circle cx="243.4" cy="358.9" r="0.6" fill="#26304a"/><circle cx="245.6" cy="390.6" r="0.6" fill="#e8eef6"/><circle cx="261.0" cy="533.6" r="0.9" fill="#c8d2e4"/><circle cx="238.5" cy="488.1" r="0.9" fill="#e8eef6"/><circle cx="236.2" cy="318.9" r="0.9" fill="#c8d2e4"/><circle cx="257.8" cy="521.1" r="0.6" fill="#f4f6fa"/><circle cx="265.5" cy="243.4" r="0.8" fill="#26304a"/><circle cx="259.1" cy="339.7" r="0.5" fill="#8a9ab8"/><circle cx="263.1" cy="262.0" r="0.9" fill="#8a9ab8"/><circle cx="269.6" cy="358.9" r="1.2" fill="#c8d2e4"/><circle cx="236.9" cy="333.2" r="1.0" fill="#f4f6fa"/><circle cx="237.9" cy="425.3" r="1.0" fill="#f4f6fa"/><circle cx="241.3" cy="240.8" r="0.6" fill="#26304a"/><circle cx="262.1" cy="262.9" r="1.1" fill="#8a9ab8"/><circle cx="247.7" cy="445.8" r="1.1" fill="#e8eef6"/><circle cx="258.4" cy="421.5" r="0.7" fill="#26304a"/><circle cx="244.8" cy="455.5" r="1.0" fill="#f4f6fa"/><circle cx="258.2" cy="405.3" r="1.0" fill="#26304a"/><circle cx="245.5" cy="397.2" r="1.2" fill="#e8eef6"/><circle cx="244.6" cy="408.0" r="0.6" fill="#f4f6fa"/><circle cx="241.1" cy="430.0" r="0.8" fill="#c8d2e4"/><circle cx="267.9" cy="428.6" r="0.6" fill="#26304a"/><circle cx="253.1" cy="407.1" r="0.6" fill="#26304a"/><circle cx="248.4" cy="281.3" r="0.6" fill="#e8eef6"/><circle cx="254.0" cy="343.8" r="1.0" fill="#8a9ab8"/><circle cx="269.4" cy="389.7" r="0.9" fill="#f4f6fa"/><circle cx="266.6" cy="355.6" r="0.6" fill="#c8d2e4"/><circle cx="239.7" cy="462.3" r="0.5" fill="#8a9ab8"/><circle cx="258.9" cy="343.7" r="0.7" fill="#8a9ab8"/><circle cx="249.9" cy="519.9" r="1.2" fill="#e8eef6"/><circle cx="237.0" cy="241.4" r="1.0" fill="#e8eef6"/><circle cx="243.9" cy="298.0" r="1.0" fill="#f4f6fa"/><circle cx="246.1" cy="543.2" r="0.7" fill="#26304a"/><circle cx="262.9" cy="383.0" r="1.2" fill="#f4f6fa"/><circle cx="268.4" cy="277.3" r="0.7" fill="#c8d2e4"/><circle cx="247.3" cy="385.5" r="1.1" fill="#e8eef6"/><circle cx="246.9" cy="424.2" r="1.2" fill="#e8eef6"/><circle cx="255.7" cy="508.7" r="0.6" fill="#f4f6fa"/><circle cx="237.6" cy="474.9" r="0.8" fill="#8a9ab8"/><circle cx="265.4" cy="543.4" r="0.7" fill="#c8d2e4"/><circle cx="263.4" cy="282.1" r="1.1" fill="#e8eef6"/><circle cx="267.0" cy="281.7" r="1.0" fill="#c8d2e4"/><circle cx="261.5" cy="379.0" r="0.8" fill="#8a9ab8"/><circle cx="247.5" cy="519.7" r="1.0" fill="#f4f6fa"/><circle cx="269.3" cy="245.2" r="0.7" fill="#c8d2e4"/><circle cx="237.3" cy="391.5" r="0.7" fill="#8a9ab8"/><circle cx="259.7" cy="460.8" r="0.5" fill="#f4f6fa"/><circle cx="238.2" cy="269.2" r="1.2" fill="#e8eef6"/><circle cx="253.9" cy="235.8" r="0.7" fill="#26304a"/><circle cx="241.0" cy="463.8" r="0.9" fill="#c8d2e4"/><circle cx="254.0" cy="495.3" r="1.2" fill="#c8d2e4"/><circle cx="247.9" cy="301.7" r="1.2" fill="#e8eef6"/><circle cx="260.9" cy="319.6" r="0.6" fill="#f4f6fa"/><circle cx="245.1" cy="534.6" r="0.6" fill="#c8d2e4"/><circle cx="249.9" cy="407.6" r="0.8" fill="#c8d2e4"/><circle cx="247.1" cy="247.8" r="0.8" fill="#f4f6fa"/><circle cx="254.7" cy="449.0" r="1.2" fill="#f4f6fa"/><circle cx="249.6" cy="333.7" r="0.8" fill="#e8eef6"/><circle cx="249.2" cy="354.5" r="0.8" fill="#e8eef6"/><circle cx="266.5" cy="431.8" r="0.7" fill="#26304a"/><circle cx="267.5" cy="313.9" r="0.9" fill="#8a9ab8"/><circle cx="269.7" cy="490.9" r="1.0" fill="#c8d2e4"/><circle cx="264.7" cy="478.0" r="1.1" fill="#c8d2e4"/><circle cx="249.8" cy="408.1" r="1.0" fill="#8a9ab8"/><circle cx="254.7" cy="332.8" r="1.2" fill="#c8d2e4"/><circle cx="252.1" cy="435.7" r="0.8" fill="#f4f6fa"/><circle cx="256.1" cy="543.4" r="0.7" fill="#8a9ab8"/><circle cx="248.1" cy="254.9" r="1.2" fill="#f4f6fa"/><circle cx="256.8" cy="444.9" r="0.7" fill="#26304a"/><circle cx="258.6" cy="521.4" r="1.0" fill="#f4f6fa"/><circle cx="266.9" cy="381.7" r="1.0" fill="#26304a"/><circle cx="256.0" cy="411.9" r="1.2" fill="#c8d2e4"/><circle cx="267.5" cy="398.9" r="0.9" fill="#26304a"/><circle cx="241.8" cy="348.4" r="1.0" fill="#e8eef6"/><circle cx="263.9" cy="377.7" r="0.9" fill="#c8d2e4"/><circle cx="246.9" cy="347.1" r="1.1" fill="#8a9ab8"/><circle cx="240.2" cy="282.7" r="0.7" fill="#c8d2e4"/><circle cx="248.4" cy="440.5" r="0.9" fill="#f4f6fa"/><circle cx="251.4" cy="262.3" r="0.8" fill="#8a9ab8"/><circle cx="259.6" cy="374.3" r="0.8" fill="#e8eef6"/><circle cx="261.8" cy="281.5" r="1.0" fill="#f4f6fa"/><circle cx="252.6" cy="439.7" r="0.9" fill="#26304a"/><circle cx="247.6" cy="353.2" r="0.5" fill="#e8eef6"/><circle cx="236.0" cy="315.5" r="0.9" fill="#f4f6fa"/><circle cx="260.4" cy="320.1" r="0.7" fill="#e8eef6"/><circle cx="245.0" cy="370.8" r="0.9" fill="#8a9ab8"/><circle cx="265.2" cy="297.5" r="0.8" fill="#f4f6fa"/><circle cx="257.0" cy="350.2" r="0.5" fill="#8a9ab8"/><circle cx="248.8" cy="247.9" r="1.0" fill="#8a9ab8"/><circle cx="250.7" cy="423.3" r="0.7" fill="#e8eef6"/><circle cx="249.1" cy="414.4" r="1.1" fill="#e8eef6"/><circle cx="269.2" cy="499.0" r="0.9" fill="#c8d2e4"/><circle cx="258.6" cy="337.1" r="0.5" fill="#8a9ab8"/><circle cx="248.9" cy="398.0" r="0.8" fill="#c8d2e4"/><circle cx="239.7" cy="409.7" r="1.2" fill="#8a9ab8"/><circle cx="250.1" cy="381.8" r="1.1" fill="#8a9ab8"/><circle cx="249.5" cy="276.9" r="1.0" fill="#c8d2e4"/><circle cx="258.8" cy="464.5" r="0.8" fill="#c8d2e4"/><circle cx="267.5" cy="326.1" r="0.7" fill="#8a9ab8"/><circle cx="262.2" cy="271.6" r="0.7" fill="#c8d2e4"/><circle cx="255.4" cy="239.8" r="0.8" fill="#e8eef6"/><circle cx="255.2" cy="252.1" r="1.0" fill="#f4f6fa"/><circle cx="252.4" cy="252.0" r="1.0" fill="#8a9ab8"/><circle cx="264.7" cy="278.5" r="0.8" fill="#c8d2e4"/><circle cx="265.6" cy="280.1" r="0.7" fill="#26304a"/><circle cx="269.4" cy="292.7" r="0.9" fill="#26304a"/><circle cx="244.9" cy="332.0" r="0.7" fill="#f4f6fa"/><circle cx="254.9" cy="393.4" r="0.8" fill="#c8d2e4"/><circle cx="246.4" cy="312.0" r="0.8" fill="#8a9ab8"/><circle cx="265.1" cy="314.7" r="0.6" fill="#c8d2e4"/><circle cx="243.1" cy="437.2" r="1.2" fill="#8a9ab8"/><circle cx="260.1" cy="278.8" r="1.2" fill="#f4f6fa"/><circle cx="242.8" cy="520.0" r="0.9" fill="#c8d2e4"/><circle cx="260.8" cy="237.6" r="0.5" fill="#26304a"/><circle cx="264.0" cy="245.9" r="0.7" fill="#8a9ab8"/><circle cx="245.9" cy="455.3" r="1.1" fill="#26304a"/><circle cx="256.8" cy="360.9" r="1.0" fill="#e8eef6"/><circle cx="265.9" cy="252.9" r="0.8" fill="#c8d2e4"/><circle cx="237.7" cy="502.4" r="0.6" fill="#26304a"/><circle cx="252.9" cy="239.4" r="1.0" fill="#e8eef6"/><circle cx="252.9" cy="443.9" r="1.0" fill="#f4f6fa"/><circle cx="263.3" cy="400.7" r="0.6" fill="#e8eef6"/><circle cx="253.6" cy="379.4" r="0.6" fill="#c8d2e4"/><circle cx="268.3" cy="363.6" r="1.0" fill="#f4f6fa"/><circle cx="260.0" cy="372.1" r="0.8" fill="#c8d2e4"/><circle cx="267.4" cy="276.4" r="0.6" fill="#8a9ab8"/><circle cx="246.0" cy="307.1" r="0.9" fill="#f4f6fa"/><circle cx="260.0" cy="458.0" r="0.7" fill="#f4f6fa"/><circle cx="247.0" cy="495.8" r="0.6" fill="#e8eef6"/><circle cx="249.3" cy="245.2" r="0.8" fill="#f4f6fa"/><circle cx="243.6" cy="404.2" r="0.6" fill="#8a9ab8"/><circle cx="241.1" cy="292.0" r="0.7" fill="#8a9ab8"/><circle cx="239.9" cy="491.8" r="0.6" fill="#e8eef6"/><circle cx="269.9" cy="526.2" r="0.9" fill="#f4f6fa"/><circle cx="252.7" cy="240.5" r="1.0" fill="#c8d2e4"/><circle cx="242.8" cy="321.8" r="0.7" fill="#26304a"/><circle cx="254.4" cy="262.4" r="0.6" fill="#f4f6fa"/><circle cx="262.1" cy="472.2" r="1.1" fill="#26304a"/><circle cx="267.4" cy="245.0" r="0.9" fill="#c8d2e4"/><circle cx="247.7" cy="527.8" r="1.0" fill="#c8d2e4"/><circle cx="241.8" cy="343.6" r="0.8" fill="#f4f6fa"/><circle cx="261.2" cy="290.4" r="1.1" fill="#f4f6fa"/><circle cx="263.5" cy="459.3" r="0.8" fill="#26304a"/><circle cx="239.8" cy="285.0" r="0.8" fill="#c8d2e4"/><circle cx="237.1" cy="394.1" r="0.6" fill="#e8eef6"/><circle cx="250.1" cy="494.5" r="0.6" fill="#e8eef6"/><circle cx="248.2" cy="440.5" r="0.6" fill="#c8d2e4"/><circle cx="264.6" cy="505.8" r="0.8" fill="#e8eef6"/><circle cx="244.9" cy="268.0" r="0.7" fill="#e8eef6"/><circle cx="252.9" cy="401.2" r="0.6" fill="#8a9ab8"/><circle cx="244.4" cy="411.2" r="0.5" fill="#f4f6fa"/><circle cx="248.5" cy="296.3" r="0.8" fill="#e8eef6"/><circle cx="269.6" cy="516.6" r="1.0" fill="#26304a"/><circle cx="253.1" cy="511.1" r="0.5" fill="#c8d2e4"/><circle cx="252.6" cy="480.2" r="0.9" fill="#e8eef6"/><circle cx="239.0" cy="288.1" r="1.1" fill="#c8d2e4"/><circle cx="250.4" cy="428.5" r="0.6" fill="#26304a"/><circle cx="266.3" cy="261.1" r="0.9" fill="#e8eef6"/><circle cx="244.3" cy="475.2" r="0.9" fill="#c8d2e4"/><circle cx="263.9" cy="257.6" r="0.7" fill="#c8d2e4"/><circle cx="237.4" cy="426.7" r="1.0" fill="#f4f6fa"/><circle cx="247.6" cy="486.3" r="0.8" fill="#e8eef6"/><circle cx="236.4" cy="526.5" r="0.8" fill="#8a9ab8"/><circle cx="237.1" cy="479.5" r="0.6" fill="#26304a"/><circle cx="259.1" cy="281.9" r="0.7" fill="#e8eef6"/><circle cx="242.9" cy="521.7" r="1.0" fill="#c8d2e4"/><circle cx="269.9" cy="480.4" r="0.8" fill="#8a9ab8"/><circle cx="253.9" cy="337.3" r="0.5" fill="#26304a"/><circle cx="257.6" cy="296.7" r="0.9" fill="#f4f6fa"/><circle cx="262.7" cy="263.6" r="1.0" fill="#f4f6fa"/><circle cx="255.8" cy="484.0" r="0.8" fill="#8a9ab8"/><circle cx="240.6" cy="491.8" r="1.2" fill="#c8d2e4"/><circle cx="261.3" cy="493.1" r="1.1" fill="#26304a"/><circle cx="241.6" cy="354.6" r="0.9" fill="#26304a"/><circle cx="246.2" cy="532.9" r="0.9" fill="#c8d2e4"/><circle cx="238.3" cy="477.8" r="1.1" fill="#e8eef6"/><circle cx="244.2" cy="417.2" r="0.9" fill="#8a9ab8"/><circle cx="255.6" cy="524.3" r="1.1" fill="#c8d2e4"/><circle cx="249.3" cy="478.0" r="1.1" fill="#f4f6fa"/><circle cx="264.1" cy="360.9" r="0.6" fill="#f4f6fa"/><circle cx="258.6" cy="515.3" r="0.8" fill="#f4f6fa"/><circle cx="236.2" cy="386.6" r="0.5" fill="#c8d2e4"/><circle cx="265.9" cy="382.4" r="0.8" fill="#f4f6fa"/><circle cx="251.6" cy="339.0" r="0.6" fill="#f4f6fa"/><circle cx="249.4" cy="379.4" r="0.5" fill="#f4f6fa"/><circle cx="239.0" cy="319.0" r="1.0" fill="#8a9ab8"/><circle cx="249.9" cy="401.8" r="0.7" fill="#e8eef6"/><circle cx="259.2" cy="247.9" r="1.1" fill="#e8eef6"/><circle cx="249.2" cy="338.1" r="0.6" fill="#e8eef6"/><circle cx="243.6" cy="510.9" r="0.9" fill="#8a9ab8"/><circle cx="246.5" cy="333.7" r="1.1" fill="#26304a"/><circle cx="242.4" cy="492.5" r="0.6" fill="#26304a"/><circle cx="236.3" cy="499.6" r="0.6" fill="#e8eef6"/><circle cx="251.5" cy="485.9" r="0.7" fill="#f4f6fa"/><circle cx="259.0" cy="540.2" r="1.0" fill="#26304a"/><circle cx="258.6" cy="276.9" r="1.0" fill="#f4f6fa"/><circle cx="258.7" cy="258.5" r="0.9" fill="#8a9ab8"/><circle cx="245.1" cy="326.7" r="0.7" fill="#8a9ab8"/><circle cx="267.9" cy="485.7" r="0.5" fill="#8a9ab8"/><circle cx="252.8" cy="449.4" r="0.5" fill="#c8d2e4"/><circle cx="255.0" cy="373.8" r="1.0" fill="#e8eef6"/><circle cx="260.8" cy="467.4" r="0.5" fill="#f4f6fa"/><circle cx="252.4" cy="237.2" r="1.2" fill="#f4f6fa"/><circle cx="240.9" cy="417.1" r="0.9" fill="#c8d2e4"/><circle cx="269.9" cy="288.8" r="0.9" fill="#f4f6fa"/><circle cx="257.3" cy="309.9" r="1.0" fill="#c8d2e4"/><circle cx="250.3" cy="538.2" r="1.0" fill="#8a9ab8"/><circle cx="252.8" cy="537.1" r="0.8" fill="#f4f6fa"/><circle cx="247.0" cy="493.4" r="0.8" fill="#c8d2e4"/><circle cx="263.0" cy="342.6" r="0.6" fill="#26304a"/><circle cx="263.5" cy="254.1" r="0.7" fill="#26304a"/><circle cx="241.8" cy="331.7" r="0.5" fill="#f4f6fa"/><circle cx="269.0" cy="475.9" r="0.8" fill="#e8eef6"/><circle cx="245.3" cy="511.3" r="0.8" fill="#26304a"/><circle cx="246.9" cy="370.9" r="0.6" fill="#f4f6fa"/><circle cx="248.3" cy="334.1" r="1.1" fill="#8a9ab8"/><circle cx="245.1" cy="298.2" r="1.1" fill="#8a9ab8"/><circle cx="253.0" cy="361.6" r="0.6" fill="#f4f6fa"/><circle cx="237.5" cy="321.5" r="0.9" fill="#26304a"/><circle cx="264.8" cy="362.6" r="0.6" fill="#8a9ab8"/><circle cx="248.3" cy="519.4" r="0.9" fill="#f4f6fa"/><circle cx="264.9" cy="272.5" r="0.8" fill="#c8d2e4"/><circle cx="237.4" cy="491.3" r="0.9" fill="#f4f6fa"/><circle cx="256.5" cy="346.5" r="1.2" fill="#c8d2e4"/><circle cx="265.8" cy="264.9" r="0.9" fill="#8a9ab8"/><circle cx="264.4" cy="455.7" r="1.2" fill="#e8eef6"/><circle cx="257.9" cy="534.9" r="0.9" fill="#c8d2e4"/><circle cx="262.3" cy="357.3" r="1.2" fill="#f4f6fa"/><circle cx="249.6" cy="389.9" r="0.7" fill="#e8eef6"/><circle cx="260.2" cy="279.5" r="1.0" fill="#8a9ab8"/><circle cx="258.8" cy="514.5" r="0.6" fill="#f4f6fa"/><circle cx="259.2" cy="521.6" r="0.5" fill="#c8d2e4"/><circle cx="265.0" cy="442.0" r="0.9" fill="#8a9ab8"/><circle cx="243.3" cy="460.9" r="1.0" fill="#e8eef6"/><circle cx="241.1" cy="443.2" r="1.0" fill="#26304a"/><circle cx="240.2" cy="322.6" r="0.5" fill="#8a9ab8"/><circle cx="265.9" cy="275.7" r="1.0" fill="#8a9ab8"/><circle cx="256.8" cy="320.3" r="0.5" fill="#26304a"/><circle cx="256.6" cy="392.8" r="0.9" fill="#e8eef6"/><circle cx="246.5" cy="346.5" r="0.9" fill="#c8d2e4"/><circle cx="248.2" cy="451.8" r="0.6" fill="#f4f6fa"/><circle cx="243.4" cy="376.9" r="1.0" fill="#8a9ab8"/><circle cx="245.4" cy="253.3" r="0.8" fill="#26304a"/><circle cx="256.3" cy="245.0" r="0.9" fill="#8a9ab8"/><circle cx="239.8" cy="304.6" r="0.9" fill="#f4f6fa"/><circle cx="268.8" cy="399.5" r="0.7" fill="#26304a"/><circle cx="263.0" cy="299.8" r="1.1" fill="#26304a"/><circle cx="254.3" cy="244.5" r="1.0" fill="#c8d2e4"/><circle cx="263.6" cy="318.1" r="0.8" fill="#f4f6fa"/><circle cx="260.6" cy="416.3" r="0.8" fill="#26304a"/><circle cx="268.5" cy="361.8" r="1.0" fill="#c8d2e4"/><circle cx="263.3" cy="533.0" r="0.7" fill="#f4f6fa"/><circle cx="238.4" cy="383.1" r="0.6" fill="#8a9ab8"/><circle cx="269.0" cy="507.9" r="0.9" fill="#e8eef6"/><circle cx="247.6" cy="293.9" r="0.8" fill="#f4f6fa"/><circle cx="261.8" cy="258.7" r="1.1" fill="#c8d2e4"/><circle cx="250.9" cy="296.3" r="1.0" fill="#e8eef6"/><circle cx="262.3" cy="297.4" r="1.0" fill="#f4f6fa"/><circle cx="261.4" cy="529.0" r="1.1" fill="#26304a"/><circle cx="260.5" cy="254.4" r="0.6" fill="#c8d2e4"/><circle cx="264.4" cy="433.9" r="1.0" fill="#26304a"/><circle cx="245.0" cy="345.2" r="0.6" fill="#f4f6fa"/><circle cx="269.7" cy="329.8" r="0.5" fill="#e8eef6"/><circle cx="259.5" cy="365.5" r="0.5" fill="#8a9ab8"/><circle cx="262.3" cy="341.3" r="1.1" fill="#f4f6fa"/><circle cx="262.4" cy="381.1" r="1.2" fill="#f4f6fa"/><circle cx="263.0" cy="382.6" r="1.1" fill="#e8eef6"/><circle cx="264.9" cy="398.8" r="0.7" fill="#8a9ab8"/><circle cx="243.1" cy="313.1" r="0.5" fill="#e8eef6"/><circle cx="260.1" cy="528.0" r="1.2" fill="#8a9ab8"/><circle cx="262.3" cy="460.0" r="0.6" fill="#8a9ab8"/><circle cx="240.6" cy="239.0" r="0.6" fill="#26304a"/><circle cx="254.1" cy="243.6" r="1.1" fill="#c8d2e4"/><circle cx="251.8" cy="248.4" r="1.1" fill="#26304a"/><circle cx="267.1" cy="501.1" r="0.7" fill="#26304a"/><circle cx="266.1" cy="385.2" r="0.9" fill="#e8eef6"/><circle cx="236.2" cy="298.4" r="0.7" fill="#c8d2e4"/><circle cx="239.3" cy="507.1" r="1.2" fill="#8a9ab8"/><circle cx="251.5" cy="416.5" r="0.9" fill="#8a9ab8"/><circle cx="261.9" cy="411.7" r="1.0" fill="#8a9ab8"/><circle cx="241.7" cy="437.1" r="1.1" fill="#e8eef6"/><circle cx="260.4" cy="380.6" r="1.1" fill="#26304a"/><circle cx="240.8" cy="516.8" r="0.9" fill="#c8d2e4"/><circle cx="259.8" cy="483.0" r="1.1" fill="#c8d2e4"/><circle cx="249.3" cy="479.3" r="1.1" fill="#c8d2e4"/><circle cx="244.2" cy="516.5" r="0.6" fill="#c8d2e4"/><circle cx="237.3" cy="250.1" r="0.7" fill="#e8eef6"/><circle cx="262.4" cy="248.7" r="0.9" fill="#26304a"/><circle cx="267.3" cy="316.5" r="0.6" fill="#c8d2e4"/><circle cx="252.3" cy="531.5" r="1.0" fill="#c8d2e4"/><circle cx="242.4" cy="485.2" r="0.6" fill="#26304a"/><circle cx="247.0" cy="393.0" r="1.2" fill="#8a9ab8"/><circle cx="267.2" cy="235.7" r="1.1" fill="#26304a"/><circle cx="258.0" cy="261.5" r="0.9" fill="#26304a"/><circle cx="256.2" cy="482.8" r="0.6" fill="#c8d2e4"/><circle cx="258.5" cy="425.7" r="0.8" fill="#c8d2e4"/><circle cx="255.0" cy="299.6" r="0.6" fill="#26304a"/><circle cx="263.6" cy="377.0" r="0.6" fill="#e8eef6"/><circle cx="258.8" cy="539.8" r="0.9" fill="#c8d2e4"/><circle cx="254.6" cy="344.3" r="0.6" fill="#e8eef6"/><circle cx="264.9" cy="498.0" r="0.6" fill="#f4f6fa"/><circle cx="245.3" cy="330.9" r="0.7" fill="#8a9ab8"/><circle cx="256.6" cy="538.4" r="1.0" fill="#c8d2e4"/><circle cx="238.7" cy="248.5" r="1.0" fill="#26304a"/><circle cx="243.3" cy="354.5" r="1.2" fill="#26304a"/><circle cx="255.5" cy="300.4" r="1.0" fill="#c8d2e4"/><circle cx="267.0" cy="494.5" r="1.0" fill="#c8d2e4"/><circle cx="258.8" cy="276.9" r="1.1" fill="#c8d2e4"/><circle cx="242.1" cy="527.3" r="0.8" fill="#e8eef6"/><circle cx="244.6" cy="328.2" r="0.7" fill="#f4f6fa"/><circle cx="249.0" cy="285.3" r="0.6" fill="#8a9ab8"/><circle cx="261.9" cy="494.4" r="1.2" fill="#f4f6fa"/><circle cx="245.3" cy="312.4" r="0.8" fill="#c8d2e4"/><circle cx="247.6" cy="403.6" r="0.7" fill="#f4f6fa"/><circle cx="236.1" cy="474.0" r="0.7" fill="#f4f6fa"/><circle cx="263.0" cy="399.9" r="0.6" fill="#f4f6fa"/><circle cx="250.5" cy="339.5" r="0.5" fill="#c8d2e4"/><circle cx="268.8" cy="284.9" r="0.9" fill="#26304a"/><circle cx="244.3" cy="519.4" r="1.2" fill="#26304a"/><circle cx="259.5" cy="534.9" r="0.6" fill="#e8eef6"/><circle cx="243.4" cy="469.1" r="1.1" fill="#f4f6fa"/><circle cx="250.7" cy="271.7" r="1.2" fill="#26304a"/><circle cx="250.9" cy="447.9" r="1.0" fill="#f4f6fa"/><circle cx="261.6" cy="312.0" r="0.7" fill="#c8d2e4"/><circle cx="239.1" cy="503.5" r="0.9" fill="#26304a"/><circle cx="268.8" cy="434.4" r="0.9" fill="#c8d2e4"/><circle cx="256.3" cy="450.4" r="0.7" fill="#c8d2e4"/><circle cx="260.8" cy="401.1" r="0.6" fill="#c8d2e4"/><circle cx="240.8" cy="270.0" r="0.8" fill="#26304a"/><circle cx="259.4" cy="319.8" r="1.0" fill="#e8eef6"/><circle cx="266.6" cy="314.0" r="0.8" fill="#e8eef6"/><circle cx="251.1" cy="460.8" r="0.6" fill="#8a9ab8"/><circle cx="247.6" cy="493.0" r="0.5" fill="#e8eef6"/><circle cx="239.6" cy="299.8" r="0.7" fill="#f4f6fa"/><circle cx="245.4" cy="238.0" r="0.6" fill="#c8d2e4"/><circle cx="241.4" cy="439.4" r="0.9" fill="#f4f6fa"/><circle cx="242.1" cy="279.5" r="0.6" fill="#c8d2e4"/><circle cx="249.0" cy="437.2" r="0.9" fill="#e8eef6"/><circle cx="238.1" cy="326.7" r="0.7" fill="#e8eef6"/><circle cx="267.8" cy="345.2" r="0.9" fill="#e8eef6"/><circle cx="240.7" cy="479.3" r="0.7" fill="#f4f6fa"/><circle cx="241.7" cy="440.6" r="1.1" fill="#e8eef6"/><circle cx="245.7" cy="353.0" r="1.0" fill="#e8eef6"/><circle cx="258.1" cy="509.9" r="1.0" fill="#f4f6fa"/><circle cx="244.2" cy="511.8" r="0.7" fill="#c8d2e4"/><circle cx="237.7" cy="440.7" r="1.1" fill="#e8eef6"/><circle cx="245.6" cy="381.5" r="0.8" fill="#c8d2e4"/><circle cx="251.6" cy="455.6" r="0.6" fill="#c8d2e4"/><circle cx="252.5" cy="521.2" r="1.1" fill="#8a9ab8"/><circle cx="251.0" cy="271.7" r="0.5" fill="#f4f6fa"/><circle cx="251.1" cy="309.1" r="0.7" fill="#c8d2e4"/><circle cx="238.4" cy="303.9" r="1.0" fill="#26304a"/><circle cx="256.8" cy="545.0" r="1.1" fill="#8a9ab8"/><circle cx="239.7" cy="527.5" r="0.9" fill="#e8eef6"/><circle cx="253.7" cy="393.2" r="0.7" fill="#c8d2e4"/><circle cx="238.8" cy="317.2" r="1.1" fill="#8a9ab8"/><circle cx="262.7" cy="275.8" r="1.1" fill="#f4f6fa"/><circle cx="239.3" cy="322.0" r="1.1" fill="#c8d2e4"/><circle cx="240.1" cy="540.1" r="0.8" fill="#e8eef6"/><circle cx="253.3" cy="429.5" r="1.1" fill="#c8d2e4"/><circle cx="257.9" cy="447.9" r="0.5" fill="#e8eef6"/><circle cx="262.3" cy="441.0" r="0.6" fill="#f4f6fa"/><circle cx="240.9" cy="484.1" r="1.2" fill="#c8d2e4"/><circle cx="265.1" cy="349.0" r="1.1" fill="#e8eef6"/><circle cx="259.8" cy="239.9" r="0.8" fill="#c8d2e4"/><circle cx="251.3" cy="498.5" r="0.7" fill="#e8eef6"/><circle cx="264.5" cy="329.4" r="0.7" fill="#e8eef6"/><circle cx="267.9" cy="359.6" r="1.0" fill="#c8d2e4"/><circle cx="248.2" cy="385.1" r="0.5" fill="#f4f6fa"/><circle cx="253.4" cy="529.0" r="0.8" fill="#e8eef6"/><circle cx="257.1" cy="302.1" r="1.1" fill="#e8eef6"/><circle cx="246.5" cy="478.1" r="0.7" fill="#f4f6fa"/><circle cx="237.1" cy="290.0" r="0.8" fill="#c8d2e4"/><circle cx="255.3" cy="473.7" r="0.7" fill="#c8d2e4"/><circle cx="241.3" cy="486.6" r="0.9" fill="#8a9ab8"/><circle cx="255.1" cy="455.6" r="0.6" fill="#e8eef6"/><circle cx="255.1" cy="319.9" r="0.8" fill="#e8eef6"/><circle cx="269.9" cy="276.9" r="0.7" fill="#c8d2e4"/><circle cx="241.7" cy="366.1" r="0.6" fill="#8a9ab8"/><circle cx="262.9" cy="313.5" r="0.9" fill="#e8eef6"/><circle cx="265.2" cy="531.6" r="0.7" fill="#8a9ab8"/><circle cx="239.2" cy="370.0" r="1.1" fill="#c8d2e4"/><circle cx="266.7" cy="256.9" r="1.0" fill="#e8eef6"/><circle cx="265.6" cy="365.2" r="0.9" fill="#f4f6fa"/><circle cx="263.4" cy="437.6" r="0.9" fill="#c8d2e4"/><circle cx="251.2" cy="389.9" r="0.9" fill="#f4f6fa"/><circle cx="266.6" cy="533.3" r="0.6" fill="#c8d2e4"/><circle cx="256.1" cy="313.5" r="0.8" fill="#f4f6fa"/><circle cx="257.9" cy="362.7" r="1.2" fill="#f4f6fa"/><circle cx="259.0" cy="257.8" r="1.0" fill="#26304a"/><circle cx="259.2" cy="300.8" r="0.7" fill="#c8d2e4"/><circle cx="251.1" cy="340.4" r="1.0" fill="#e8eef6"/><circle cx="251.8" cy="335.5" r="1.2" fill="#8a9ab8"/><circle cx="239.0" cy="536.0" r="0.9" fill="#8a9ab8"/><circle cx="268.7" cy="514.0" r="0.7" fill="#f4f6fa"/><circle cx="248.9" cy="388.2" r="0.8" fill="#e8eef6"/><circle cx="257.8" cy="507.5" r="0.6" fill="#26304a"/><circle cx="240.6" cy="360.9" r="0.8" fill="#c8d2e4"/><circle cx="252.0" cy="375.8" r="0.7" fill="#26304a"/><circle cx="248.1" cy="453.4" r="0.8" fill="#e8eef6"/><circle cx="263.6" cy="449.9" r="1.0" fill="#e8eef6"/><circle cx="249.4" cy="271.3" r="0.9" fill="#f4f6fa"/><circle cx="264.4" cy="434.0" r="0.9" fill="#26304a"/><circle cx="268.9" cy="295.9" r="1.0" fill="#f4f6fa"/><circle cx="258.1" cy="285.7" r="0.5" fill="#8a9ab8"/><circle cx="264.9" cy="506.3" r="0.9" fill="#e8eef6"/><circle cx="266.5" cy="419.6" r="0.8" fill="#26304a"/><circle cx="245.3" cy="256.7" r="0.5" fill="#e8eef6"/><circle cx="238.9" cy="312.2" r="0.6" fill="#e8eef6"/><circle cx="245.0" cy="455.4" r="1.2" fill="#c8d2e4"/><circle cx="236.8" cy="260.6" r="0.6" fill="#e8eef6"/><circle cx="241.1" cy="339.0" r="0.9" fill="#f4f6fa"/><circle cx="245.9" cy="466.7" r="1.1" fill="#f4f6fa"/><circle cx="237.9" cy="261.0" r="0.6" fill="#c8d2e4"/><circle cx="238.2" cy="251.2" r="1.2" fill="#e8eef6"/><circle cx="262.9" cy="460.9" r="0.7" fill="#8a9ab8"/><circle cx="240.8" cy="422.6" r="1.2" fill="#c8d2e4"/><circle cx="261.5" cy="495.1" r="0.8" fill="#f4f6fa"/><circle cx="260.4" cy="306.1" r="1.1" fill="#8a9ab8"/><circle cx="239.2" cy="416.7" r="0.6" fill="#8a9ab8"/><circle cx="263.3" cy="480.3" r="0.7" fill="#c8d2e4"/><circle cx="264.0" cy="381.3" r="0.8" fill="#c8d2e4"/><circle cx="242.6" cy="415.6" r="0.6" fill="#8a9ab8"/><circle cx="244.2" cy="315.1" r="0.8" fill="#26304a"/><circle cx="247.3" cy="252.7" r="0.7" fill="#c8d2e4"/><circle cx="243.5" cy="325.1" r="0.9" fill="#8a9ab8"/><circle cx="256.9" cy="514.6" r="0.6" fill="#f4f6fa"/><circle cx="269.8" cy="513.6" r="0.6" fill="#c8d2e4"/><circle cx="243.7" cy="474.1" r="1.1" fill="#f4f6fa"/><circle cx="249.5" cy="397.1" r="0.7" fill="#26304a"/><circle cx="246.7" cy="326.0" r="0.7" fill="#e8eef6"/><circle cx="241.1" cy="523.8" r="1.1" fill="#8a9ab8"/><circle cx="237.0" cy="334.4" r="1.0" fill="#26304a"/><circle cx="265.6" cy="447.6" r="0.8" fill="#f4f6fa"/><circle cx="262.4" cy="267.9" r="0.5" fill="#8a9ab8"/><circle cx="250.9" cy="255.7" r="1.1" fill="#26304a"/><circle cx="243.5" cy="333.7" r="0.8" fill="#8a9ab8"/><circle cx="262.2" cy="350.2" r="0.8" fill="#f4f6fa"/><circle cx="257.0" cy="267.5" r="0.8" fill="#f4f6fa"/><circle cx="240.5" cy="501.0" r="1.2" fill="#26304a"/><circle cx="240.4" cy="379.4" r="0.9" fill="#f4f6fa"/><circle cx="258.4" cy="499.3" r="1.0" fill="#f4f6fa"/><circle cx="250.9" cy="261.6" r="0.8" fill="#c8d2e4"/><circle cx="260.3" cy="463.2" r="0.5" fill="#e8eef6"/><circle cx="254.0" cy="452.0" r="0.7" fill="#26304a"/><circle cx="256.5" cy="361.0" r="0.7" fill="#8a9ab8"/><circle cx="262.0" cy="367.0" r="0.7" fill="#c8d2e4"/><circle cx="266.3" cy="377.0" r="0.9" fill="#c8d2e4"/><circle cx="244.8" cy="464.6" r="1.1" fill="#8a9ab8"/><circle cx="252.1" cy="531.5" r="0.9" fill="#f4f6fa"/><circle cx="261.8" cy="356.9" r="0.6" fill="#e8eef6"/><circle cx="261.5" cy="518.8" r="0.8" fill="#26304a"/><circle cx="247.5" cy="311.9" r="0.7" fill="#8a9ab8"/><circle cx="263.7" cy="450.5" r="1.2" fill="#26304a"/><circle cx="246.9" cy="288.6" r="1.0" fill="#f4f6fa"/><circle cx="259.2" cy="439.5" r="0.5" fill="#c8d2e4"/><circle cx="265.3" cy="413.2" r="0.5" fill="#f4f6fa"/><circle cx="256.6" cy="513.8" r="1.2" fill="#f4f6fa"/><circle cx="243.7" cy="333.5" r="1.1" fill="#f4f6fa"/><circle cx="246.3" cy="426.5" r="0.8" fill="#f4f6fa"/><circle cx="239.7" cy="305.4" r="1.1" fill="#8a9ab8"/><circle cx="261.7" cy="473.6" r="0.9" fill="#e8eef6"/><circle cx="263.8" cy="434.7" r="0.5" fill="#e8eef6"/><circle cx="261.7" cy="487.0" r="0.7" fill="#f4f6fa"/><circle cx="248.9" cy="495.3" r="0.6" fill="#26304a"/><circle cx="260.3" cy="443.0" r="0.5" fill="#e8eef6"/><circle cx="264.8" cy="507.4" r="0.6" fill="#26304a"/><circle cx="258.2" cy="249.9" r="1.1" fill="#26304a"/><circle cx="269.3" cy="528.3" r="0.8" fill="#8a9ab8"/><circle cx="262.6" cy="504.7" r="0.6" fill="#f4f6fa"/><circle cx="248.3" cy="254.8" r="0.6" fill="#c8d2e4"/><circle cx="266.7" cy="242.9" r="0.8" fill="#26304a"/><circle cx="238.3" cy="464.7" r="0.6" fill="#8a9ab8"/><circle cx="257.8" cy="331.5" r="0.8" fill="#8a9ab8"/><circle cx="246.5" cy="431.0" r="1.1" fill="#8a9ab8"/><circle cx="246.8" cy="341.9" r="1.1" fill="#f4f6fa"/><circle cx="255.5" cy="267.8" r="0.9" fill="#26304a"/><circle cx="238.3" cy="373.3" r="0.5" fill="#e8eef6"/><circle cx="243.1" cy="347.3" r="0.8" fill="#c8d2e4"/><circle cx="258.3" cy="411.2" r="0.8" fill="#26304a"/><circle cx="250.7" cy="457.4" r="0.8" fill="#c8d2e4"/><circle cx="242.2" cy="325.2" r="0.9" fill="#f4f6fa"/><circle cx="239.5" cy="481.1" r="0.9" fill="#c8d2e4"/><circle cx="243.4" cy="508.8" r="1.2" fill="#8a9ab8"/><circle cx="241.4" cy="432.5" r="0.6" fill="#8a9ab8"/><circle cx="242.9" cy="328.5" r="0.7" fill="#e8eef6"/><circle cx="252.7" cy="468.2" r="0.5" fill="#e8eef6"/><circle cx="256.6" cy="352.2" r="1.1" fill="#e8eef6"/><circle cx="242.2" cy="517.2" r="0.9" fill="#c8d2e4"/><circle cx="265.5" cy="347.1" r="1.1" fill="#e8eef6"/><circle cx="253.2" cy="514.4" r="1.1" fill="#e8eef6"/><circle cx="253.4" cy="524.1" r="0.9" fill="#e8eef6"/><circle cx="241.2" cy="370.9" r="0.5" fill="#e8eef6"/><circle cx="256.5" cy="315.3" r="0.7" fill="#8a9ab8"/><circle cx="243.4" cy="429.8" r="0.5" fill="#c8d2e4"/><circle cx="263.3" cy="515.0" r="0.6" fill="#e8eef6"/><circle cx="254.3" cy="306.9" r="1.1" fill="#e8eef6"/><circle cx="256.5" cy="515.3" r="0.6" fill="#26304a"/><circle cx="260.5" cy="269.0" r="0.8" fill="#26304a"/><circle cx="260.2" cy="319.5" r="1.1" fill="#26304a"/><circle cx="237.8" cy="527.7" r="0.8" fill="#c8d2e4"/><circle cx="265.5" cy="513.3" r="0.9" fill="#8a9ab8"/><circle cx="240.8" cy="377.6" r="0.9" fill="#26304a"/><circle cx="247.4" cy="472.6" r="0.7" fill="#e8eef6"/><circle cx="243.7" cy="504.5" r="0.7" fill="#8a9ab8"/><circle cx="246.3" cy="285.2" r="0.7" fill="#c8d2e4"/><circle cx="240.8" cy="417.8" r="0.6" fill="#f4f6fa"/><circle cx="242.2" cy="383.7" r="0.8" fill="#26304a"/><circle cx="252.5" cy="527.9" r="0.8" fill="#e8eef6"/><circle cx="252.0" cy="392.8" r="0.9" fill="#e8eef6"/><circle cx="238.5" cy="452.4" r="1.2" fill="#8a9ab8"/><circle cx="239.4" cy="462.6" r="0.7" fill="#8a9ab8"/><circle cx="257.9" cy="379.2" r="1.1" fill="#26304a"/><circle cx="236.2" cy="498.3" r="1.0" fill="#f4f6fa"/><circle cx="253.3" cy="455.8" r="1.0" fill="#8a9ab8"/><circle cx="257.1" cy="283.5" r="1.0" fill="#c8d2e4"/><circle cx="268.3" cy="280.0" r="0.8" fill="#8a9ab8"/><circle cx="262.9" cy="417.9" r="1.0" fill="#f4f6fa"/><circle cx="263.2" cy="283.5" r="0.9" fill="#e8eef6"/><circle cx="245.7" cy="277.2" r="1.1" fill="#c8d2e4"/><circle cx="257.0" cy="485.0" r="0.8" fill="#f4f6fa"/><circle cx="248.4" cy="512.5" r="0.7" fill="#26304a"/><circle cx="262.9" cy="335.8" r="1.2" fill="#c8d2e4"/><circle cx="247.3" cy="355.0" r="0.9" fill="#f4f6fa"/><circle cx="236.6" cy="483.0" r="0.5" fill="#26304a"/><circle cx="236.4" cy="511.3" r="0.7" fill="#8a9ab8"/><circle cx="241.4" cy="448.9" r="0.5" fill="#e8eef6"/><circle cx="243.1" cy="463.4" r="0.6" fill="#f4f6fa"/><circle cx="243.8" cy="252.9" r="0.7" fill="#c8d2e4"/><circle cx="268.2" cy="405.8" r="1.1" fill="#c8d2e4"/><circle cx="262.3" cy="281.1" r="1.1" fill="#c8d2e4"/><circle cx="261.4" cy="501.2" r="0.8" fill="#c8d2e4"/><circle cx="257.4" cy="454.8" r="0.6" fill="#e8eef6"/><circle cx="269.2" cy="246.8" r="0.5" fill="#c8d2e4"/><circle cx="237.3" cy="336.6" r="1.0" fill="#e8eef6"/><circle cx="239.8" cy="285.2" r="0.6" fill="#26304a"/><circle cx="248.2" cy="526.8" r="0.6" fill="#c8d2e4"/><circle cx="269.3" cy="369.7" r="0.8" fill="#f4f6fa"/><circle cx="251.2" cy="384.8" r="0.5" fill="#e8eef6"/><circle cx="241.6" cy="511.8" r="1.1" fill="#c8d2e4"/><circle cx="251.1" cy="427.9" r="1.1" fill="#8a9ab8"/><circle cx="254.6" cy="509.2" r="0.5" fill="#8a9ab8"/><circle cx="266.0" cy="421.3" r="0.7" fill="#8a9ab8"/><circle cx="253.4" cy="280.7" r="0.5" fill="#26304a"/><circle cx="253.6" cy="389.0" r="1.0" fill="#e8eef6"/><circle cx="259.5" cy="236.4" r="1.1" fill="#26304a"/><circle cx="267.9" cy="496.8" r="0.8" fill="#e8eef6"/><circle cx="255.4" cy="460.8" r="0.8" fill="#8a9ab8"/><circle cx="268.5" cy="523.0" r="0.9" fill="#f4f6fa"/><circle cx="266.4" cy="294.2" r="1.2" fill="#e8eef6"/><circle cx="262.9" cy="479.3" r="1.1" fill="#26304a"/><circle cx="259.4" cy="333.7" r="1.0" fill="#f4f6fa"/><circle cx="263.2" cy="339.4" r="0.9" fill="#26304a"/><circle cx="252.6" cy="320.3" r="1.1" fill="#c8d2e4"/><circle cx="252.7" cy="491.9" r="0.5" fill="#8a9ab8"/><circle cx="261.9" cy="412.7" r="1.1" fill="#26304a"/><circle cx="253.3" cy="453.6" r="0.5" fill="#26304a"/><circle cx="262.4" cy="266.9" r="0.7" fill="#c8d2e4"/><circle cx="256.6" cy="370.0" r="1.1" fill="#f4f6fa"/><circle cx="238.8" cy="374.2" r="0.8" fill="#c8d2e4"/><circle cx="252.8" cy="458.8" r="0.7" fill="#f4f6fa"/><circle cx="245.4" cy="349.9" r="1.1" fill="#26304a"/><circle cx="269.9" cy="367.3" r="0.9" fill="#f4f6fa"/><circle cx="251.5" cy="502.7" r="0.8" fill="#8a9ab8"/><circle cx="268.6" cy="249.4" r="1.1" fill="#f4f6fa"/><circle cx="237.8" cy="541.4" r="0.9" fill="#e8eef6"/><circle cx="248.0" cy="498.9" r="1.1" fill="#f4f6fa"/><circle cx="263.7" cy="245.3" r="0.8" fill="#c8d2e4"/><circle cx="238.8" cy="480.2" r="1.1" fill="#e8eef6"/></g><g clip-path="url(#clipMesh)" fill="#c8d6f2" opacity="0.9"><rect x="250.0" y="240.0" width="2" height="9.0" rx="1" transform="rotate(8 250.0 240.0)"/><rect x="255.4" y="240.0" width="2" height="9.0" rx="1" transform="rotate(8 255.4 240.0)"/><rect x="260.8" y="240.0" width="2" height="9.0" rx="1" transform="rotate(8 260.8 240.0)"/><rect x="266.2" y="240.0" width="2" height="9.0" rx="1" transform="rotate(8 266.2 240.0)"/><rect x="271.6" y="240.0" width="2" height="9.0" rx="1" transform="rotate(8 271.6 240.0)"/><rect x="277.0" y="240.0" width="2" height="9.0" rx="1" transform="rotate(8 277.0 240.0)"/><rect x="252.7" y="246.5" width="2" height="9.0" rx="1" transform="rotate(8 252.7 246.5)"/><rect x="258.1" y="246.5" width="2" height="9.0" rx="1" transform="rotate(8 258.1 246.5)"/><rect x="263.5" y="246.5" width="2" height="9.0" rx="1" transform="rotate(8 263.5 246.5)"/><rect x="268.9" y="246.5" width="2" height="9.0" rx="1" transform="rotate(8 268.9 246.5)"/><rect x="274.3" y="246.5" width="2" height="9.0" rx="1" transform="rotate(8 274.3 246.5)"/><rect x="279.7" y="246.5" width="2" height="9.0" rx="1" transform="rotate(8 279.7 246.5)"/><rect x="250.0" y="253.0" width="2" height="9.0" rx="1" transform="rotate(8 250.0 253.0)"/><rect x="255.4" y="253.0" width="2" height="9.0" rx="1" transform="rotate(8 255.4 253.0)"/><rect x="260.8" y="253.0" width="2" height="9.0" rx="1" transform="rotate(8 260.8 253.0)"/><rect x="266.2" y="253.0" width="2" height="9.0" rx="1" transform="rotate(8 266.2 253.0)"/><rect x="271.6" y="253.0" width="2" height="9.0" rx="1" transform="rotate(8 271.6 253.0)"/><rect x="277.0" y="253.0" width="2" height="9.0" rx="1" transform="rotate(8 277.0 253.0)"/><rect x="252.7" y="259.5" width="2" height="9.0" rx="1" transform="rotate(8 252.7 259.5)"/><rect x="258.1" y="259.5" width="2" height="9.0" rx="1" transform="rotate(8 258.1 259.5)"/><rect x="263.5" y="259.5" width="2" height="9.0" rx="1" transform="rotate(8 263.5 259.5)"/><rect x="268.9" y="259.5" width="2" height="9.0" rx="1" transform="rotate(8 268.9 259.5)"/><rect x="274.3" y="259.5" width="2" height="9.0" rx="1" transform="rotate(8 274.3 259.5)"/><rect x="279.7" y="259.5" width="2" height="9.0" rx="1" transform="rotate(8 279.7 259.5)"/><rect x="250.0" y="266.0" width="2" height="9.0" rx="1" transform="rotate(8 250.0 266.0)"/><rect x="255.4" y="266.0" width="2" height="9.0" rx="1" transform="rotate(8 255.4 266.0)"/><rect x="260.8" y="266.0" width="2" height="9.0" rx="1" transform="rotate(8 260.8 266.0)"/><rect x="266.2" y="266.0" width="2" height="9.0" rx="1" transform="rotate(8 266.2 266.0)"/><rect x="271.6" y="266.0" width="2" height="9.0" rx="1" transform="rotate(8 271.6 266.0)"/><rect x="277.0" y="266.0" width="2" height="9.0" rx="1" transform="rotate(8 277.0 266.0)"/><rect x="252.7" y="272.5" width="2" height="9.0" rx="1" transform="rotate(8 252.7 272.5)"/><rect x="258.1" y="272.5" width="2" height="9.0" rx="1" transform="rotate(8 258.1 272.5)"/><rect x="263.5" y="272.5" width="2" height="9.0" rx="1" transform="rotate(8 263.5 272.5)"/><rect x="268.9" y="272.5" width="2" height="9.0" rx="1" transform="rotate(8 268.9 272.5)"/><rect x="274.3" y="272.5" width="2" height="9.0" rx="1" transform="rotate(8 274.3 272.5)"/><rect x="279.7" y="272.5" width="2" height="9.0" rx="1" transform="rotate(8 279.7 272.5)"/><rect x="250.0" y="279.0" width="2" height="9.0" rx="1" transform="rotate(8 250.0 279.0)"/><rect x="255.4" y="279.0" width="2" height="9.0" rx="1" transform="rotate(8 255.4 279.0)"/><rect x="260.8" y="279.0" width="2" height="9.0" rx="1" transform="rotate(8 260.8 279.0)"/><rect x="266.2" y="279.0" width="2" height="9.0" rx="1" transform="rotate(8 266.2 279.0)"/><rect x="271.6" y="279.0" width="2" height="9.0" rx="1" transform="rotate(8 271.6 279.0)"/><rect x="277.0" y="279.0" width="2" height="9.0" rx="1" transform="rotate(8 277.0 279.0)"/><rect x="252.7" y="285.5" width="2" height="9.0" rx="1" transform="rotate(8 252.7 285.5)"/><rect x="258.1" y="285.5" width="2" height="9.0" rx="1" transform="rotate(8 258.1 285.5)"/><rect x="263.5" y="285.5" width="2" height="9.0" rx="1" transform="rotate(8 263.5 285.5)"/><rect x="268.9" y="285.5" width="2" height="9.0" rx="1" transform="rotate(8 268.9 285.5)"/><rect x="274.3" y="285.5" width="2" height="9.0" rx="1" transform="rotate(8 274.3 285.5)"/><rect x="279.7" y="285.5" width="2" height="9.0" rx="1" transform="rotate(8 279.7 285.5)"/><rect x="250.0" y="292.0" width="2" height="9.0" rx="1" transform="rotate(8 250.0 292.0)"/><rect x="255.4" y="292.0" width="2" height="9.0" rx="1" transform="rotate(8 255.4 292.0)"/><rect x="260.8" y="292.0" width="2" height="9.0" rx="1" transform="rotate(8 260.8 292.0)"/><rect x="266.2" y="292.0" width="2" height="9.0" rx="1" transform="rotate(8 266.2 292.0)"/><rect x="271.6" y="292.0" width="2" height="9.0" rx="1" transform="rotate(8 271.6 292.0)"/><rect x="277.0" y="292.0" width="2" height="9.0" rx="1" transform="rotate(8 277.0 292.0)"/><rect x="252.7" y="298.5" width="2" height="9.0" rx="1" transform="rotate(8 252.7 298.5)"/><rect x="258.1" y="298.5" width="2" height="9.0" rx="1" transform="rotate(8 258.1 298.5)"/><rect x="263.5" y="298.5" width="2" height="9.0" rx="1" transform="rotate(8 263.5 298.5)"/><rect x="268.9" y="298.5" width="2" height="9.0" rx="1" transform="rotate(8 268.9 298.5)"/><rect x="274.3" y="298.5" width="2" height="9.0" rx="1" transform="rotate(8 274.3 298.5)"/><rect x="279.7" y="298.5" width="2" height="9.0" rx="1" transform="rotate(8 279.7 298.5)"/><rect x="250.0" y="305.0" width="2" height="9.0" rx="1" transform="rotate(8 250.0 305.0)"/><rect x="255.4" y="305.0" width="2" height="9.0" rx="1" transform="rotate(8 255.4 305.0)"/><rect x="260.8" y="305.0" width="2" height="9.0" rx="1" transform="rotate(8 260.8 305.0)"/><rect x="266.2" y="305.0" width="2" height="9.0" rx="1" transform="rotate(8 266.2 305.0)"/><rect x="271.6" y="305.0" width="2" height="9.0" rx="1" transform="rotate(8 271.6 305.0)"/><rect x="277.0" y="305.0" width="2" height="9.0" rx="1" transform="rotate(8 277.0 305.0)"/><rect x="252.7" y="311.5" width="2" height="9.0" rx="1" transform="rotate(8 252.7 311.5)"/><rect x="258.1" y="311.5" width="2" height="9.0" rx="1" transform="rotate(8 258.1 311.5)"/><rect x="263.5" y="311.5" width="2" height="9.0" rx="1" transform="rotate(8 263.5 311.5)"/><rect x="268.9" y="311.5" width="2" height="9.0" rx="1" transform="rotate(8 268.9 311.5)"/><rect x="274.3" y="311.5" width="2" height="9.0" rx="1" transform="rotate(8 274.3 311.5)"/><rect x="279.7" y="311.5" width="2" height="9.0" rx="1" transform="rotate(8 279.7 311.5)"/><rect x="250.0" y="318.0" width="2" height="9.0" rx="1" transform="rotate(8 250.0 318.0)"/><rect x="255.4" y="318.0" width="2" height="9.0" rx="1" transform="rotate(8 255.4 318.0)"/><rect x="260.8" y="318.0" width="2" height="9.0" rx="1" transform="rotate(8 260.8 318.0)"/><rect x="266.2" y="318.0" width="2" height="9.0" rx="1" transform="rotate(8 266.2 318.0)"/><rect x="271.6" y="318.0" width="2" height="9.0" rx="1" transform="rotate(8 271.6 318.0)"/><rect x="277.0" y="318.0" width="2" height="9.0" rx="1" transform="rotate(8 277.0 318.0)"/><rect x="252.7" y="324.5" width="2" height="9.0" rx="1" transform="rotate(8 252.7 324.5)"/><rect x="258.1" y="324.5" width="2" height="9.0" rx="1" transform="rotate(8 258.1 324.5)"/><rect x="263.5" y="324.5" width="2" height="9.0" rx="1" transform="rotate(8 263.5 324.5)"/><rect x="268.9" y="324.5" width="2" height="9.0" rx="1" transform="rotate(8 268.9 324.5)"/><rect x="274.3" y="324.5" width="2" height="9.0" rx="1" transform="rotate(8 274.3 324.5)"/><rect x="279.7" y="324.5" width="2" height="9.0" rx="1" transform="rotate(8 279.7 324.5)"/><rect x="250.0" y="331.0" width="2" height="9.0" rx="1" transform="rotate(8 250.0 331.0)"/><rect x="255.4" y="331.0" width="2" height="9.0" rx="1" transform="rotate(8 255.4 331.0)"/><rect x="260.8" y="331.0" width="2" height="9.0" rx="1" transform="rotate(8 260.8 331.0)"/><rect x="266.2" y="331.0" width="2" height="9.0" rx="1" transform="rotate(8 266.2 331.0)"/><rect x="271.6" y="331.0" width="2" height="9.0" rx="1" transform="rotate(8 271.6 331.0)"/><rect x="277.0" y="331.0" width="2" height="9.0" rx="1" transform="rotate(8 277.0 331.0)"/><rect x="252.7" y="337.5" width="2" height="9.0" rx="1" transform="rotate(8 252.7 337.5)"/><rect x="258.1" y="337.5" width="2" height="9.0" rx="1" transform="rotate(8 258.1 337.5)"/><rect x="263.5" y="337.5" width="2" height="9.0" rx="1" transform="rotate(8 263.5 337.5)"/><rect x="268.9" y="337.5" width="2" height="9.0" rx="1" transform="rotate(8 268.9 337.5)"/><rect x="274.3" y="337.5" width="2" height="9.0" rx="1" transform="rotate(8 274.3 337.5)"/><rect x="279.7" y="337.5" width="2" height="9.0" rx="1" transform="rotate(8 279.7 337.5)"/><rect x="250.0" y="344.0" width="2" height="9.0" rx="1" transform="rotate(8 250.0 344.0)"/><rect x="255.4" y="344.0" width="2" height="9.0" rx="1" transform="rotate(8 255.4 344.0)"/><rect x="260.8" y="344.0" width="2" height="9.0" rx="1" transform="rotate(8 260.8 344.0)"/><rect x="266.2" y="344.0" width="2" height="9.0" rx="1" transform="rotate(8 266.2 344.0)"/><rect x="271.6" y="344.0" width="2" height="9.0" rx="1" transform="rotate(8 271.6 344.0)"/><rect x="277.0" y="344.0" width="2" height="9.0" rx="1" transform="rotate(8 277.0 344.0)"/><rect x="252.7" y="350.5" width="2" height="9.0" rx="1" transform="rotate(8 252.7 350.5)"/><rect x="258.1" y="350.5" width="2" height="9.0" rx="1" transform="rotate(8 258.1 350.5)"/><rect x="263.5" y="350.5" width="2" height="9.0" rx="1" transform="rotate(8 263.5 350.5)"/><rect x="268.9" y="350.5" width="2" height="9.0" rx="1" transform="rotate(8 268.9 350.5)"/><rect x="274.3" y="350.5" width="2" height="9.0" rx="1" transform="rotate(8 274.3 350.5)"/><rect x="279.7" y="350.5" width="2" height="9.0" rx="1" transform="rotate(8 279.7 350.5)"/><rect x="250.0" y="357.0" width="2" height="9.0" rx="1" transform="rotate(8 250.0 357.0)"/><rect x="255.4" y="357.0" width="2" height="9.0" rx="1" transform="rotate(8 255.4 357.0)"/><rect x="260.8" y="357.0" width="2" height="9.0" rx="1" transform="rotate(8 260.8 357.0)"/><rect x="266.2" y="357.0" width="2" height="9.0" rx="1" transform="rotate(8 266.2 357.0)"/><rect x="271.6" y="357.0" width="2" height="9.0" rx="1" transform="rotate(8 271.6 357.0)"/><rect x="277.0" y="357.0" width="2" height="9.0" rx="1" transform="rotate(8 277.0 357.0)"/><rect x="252.7" y="363.5" width="2" height="9.0" rx="1" transform="rotate(8 252.7 363.5)"/><rect x="258.1" y="363.5" width="2" height="9.0" rx="1" transform="rotate(8 258.1 363.5)"/><rect x="263.5" y="363.5" width="2" height="9.0" rx="1" transform="rotate(8 263.5 363.5)"/><rect x="268.9" y="363.5" width="2" height="9.0" rx="1" transform="rotate(8 268.9 363.5)"/><rect x="274.3" y="363.5" width="2" height="9.0" rx="1" transform="rotate(8 274.3 363.5)"/><rect x="279.7" y="363.5" width="2" height="9.0" rx="1" transform="rotate(8 279.7 363.5)"/><rect x="250.0" y="370.0" width="2" height="9.0" rx="1" transform="rotate(8 250.0 370.0)"/><rect x="255.4" y="370.0" width="2" height="9.0" rx="1" transform="rotate(8 255.4 370.0)"/><rect x="260.8" y="370.0" width="2" height="9.0" rx="1" transform="rotate(8 260.8 370.0)"/><rect x="266.2" y="370.0" width="2" height="9.0" rx="1" transform="rotate(8 266.2 370.0)"/><rect x="271.6" y="370.0" width="2" height="9.0" rx="1" transform="rotate(8 271.6 370.0)"/><rect x="277.0" y="370.0" width="2" height="9.0" rx="1" transform="rotate(8 277.0 370.0)"/><rect x="252.7" y="376.5" width="2" height="9.0" rx="1" transform="rotate(8 252.7 376.5)"/><rect x="258.1" y="376.5" width="2" height="9.0" rx="1" transform="rotate(8 258.1 376.5)"/><rect x="263.5" y="376.5" width="2" height="9.0" rx="1" transform="rotate(8 263.5 376.5)"/><rect x="268.9" y="376.5" width="2" height="9.0" rx="1" transform="rotate(8 268.9 376.5)"/><rect x="274.3" y="376.5" width="2" height="9.0" rx="1" transform="rotate(8 274.3 376.5)"/><rect x="279.7" y="376.5" width="2" height="9.0" rx="1" transform="rotate(8 279.7 376.5)"/><rect x="250.0" y="383.0" width="2" height="9.0" rx="1" transform="rotate(8 250.0 383.0)"/><rect x="255.4" y="383.0" width="2" height="9.0" rx="1" transform="rotate(8 255.4 383.0)"/><rect x="260.8" y="383.0" width="2" height="9.0" rx="1" transform="rotate(8 260.8 383.0)"/><rect x="266.2" y="383.0" width="2" height="9.0" rx="1" transform="rotate(8 266.2 383.0)"/><rect x="271.6" y="383.0" width="2" height="9.0" rx="1" transform="rotate(8 271.6 383.0)"/><rect x="277.0" y="383.0" width="2" height="9.0" rx="1" transform="rotate(8 277.0 383.0)"/><rect x="252.7" y="389.5" width="2" height="9.0" rx="1" transform="rotate(8 252.7 389.5)"/><rect x="258.1" y="389.5" width="2" height="9.0" rx="1" transform="rotate(8 258.1 389.5)"/><rect x="263.5" y="389.5" width="2" height="9.0" rx="1" transform="rotate(8 263.5 389.5)"/><rect x="268.9" y="389.5" width="2" height="9.0" rx="1" transform="rotate(8 268.9 389.5)"/><rect x="274.3" y="389.5" width="2" height="9.0" rx="1" transform="rotate(8 274.3 389.5)"/><rect x="279.7" y="389.5" width="2" height="9.0" rx="1" transform="rotate(8 279.7 389.5)"/><rect x="250.0" y="396.0" width="2" height="9.0" rx="1" transform="rotate(8 250.0 396.0)"/><rect x="255.4" y="396.0" width="2" height="9.0" rx="1" transform="rotate(8 255.4 396.0)"/><rect x="260.8" y="396.0" width="2" height="9.0" rx="1" transform="rotate(8 260.8 396.0)"/><rect x="266.2" y="396.0" width="2" height="9.0" rx="1" transform="rotate(8 266.2 396.0)"/><rect x="271.6" y="396.0" width="2" height="9.0" rx="1" transform="rotate(8 271.6 396.0)"/><rect x="277.0" y="396.0" width="2" height="9.0" rx="1" transform="rotate(8 277.0 396.0)"/><rect x="252.7" y="402.5" width="2" height="9.0" rx="1" transform="rotate(8 252.7 402.5)"/><rect x="258.1" y="402.5" width="2" height="9.0" rx="1" transform="rotate(8 258.1 402.5)"/><rect x="263.5" y="402.5" width="2" height="9.0" rx="1" transform="rotate(8 263.5 402.5)"/><rect x="268.9" y="402.5" width="2" height="9.0" rx="1" transform="rotate(8 268.9 402.5)"/><rect x="274.3" y="402.5" width="2" height="9.0" rx="1" transform="rotate(8 274.3 402.5)"/><rect x="279.7" y="402.5" width="2" height="9.0" rx="1" transform="rotate(8 279.7 402.5)"/><rect x="250.0" y="409.0" width="2" height="9.0" rx="1" transform="rotate(8 250.0 409.0)"/><rect x="255.4" y="409.0" width="2" height="9.0" rx="1" transform="rotate(8 255.4 409.0)"/><rect x="260.8" y="409.0" width="2" height="9.0" rx="1" transform="rotate(8 260.8 409.0)"/><rect x="266.2" y="409.0" width="2" height="9.0" rx="1" transform="rotate(8 266.2 409.0)"/><rect x="271.6" y="409.0" width="2" height="9.0" rx="1" transform="rotate(8 271.6 409.0)"/><rect x="277.0" y="409.0" width="2" height="9.0" rx="1" transform="rotate(8 277.0 409.0)"/><rect x="252.7" y="415.5" width="2" height="9.0" rx="1" transform="rotate(8 252.7 415.5)"/><rect x="258.1" y="415.5" width="2" height="9.0" rx="1" transform="rotate(8 258.1 415.5)"/><rect x="263.5" y="415.5" width="2" height="9.0" rx="1" transform="rotate(8 263.5 415.5)"/><rect x="268.9" y="415.5" width="2" height="9.0" rx="1" transform="rotate(8 268.9 415.5)"/><rect x="274.3" y="415.5" width="2" height="9.0" rx="1" transform="rotate(8 274.3 415.5)"/><rect x="279.7" y="415.5" width="2" height="9.0" rx="1" transform="rotate(8 279.7 415.5)"/><rect x="250.0" y="422.0" width="2" height="9.0" rx="1" transform="rotate(8 250.0 422.0)"/><rect x="255.4" y="422.0" width="2" height="9.0" rx="1" transform="rotate(8 255.4 422.0)"/><rect x="260.8" y="422.0" width="2" height="9.0" rx="1" transform="rotate(8 260.8 422.0)"/><rect x="266.2" y="422.0" width="2" height="9.0" rx="1" transform="rotate(8 266.2 422.0)"/><rect x="271.6" y="422.0" width="2" height="9.0" rx="1" transform="rotate(8 271.6 422.0)"/><rect x="277.0" y="422.0" width="2" height="9.0" rx="1" transform="rotate(8 277.0 422.0)"/><rect x="252.7" y="428.5" width="2" height="9.0" rx="1" transform="rotate(8 252.7 428.5)"/><rect x="258.1" y="428.5" width="2" height="9.0" rx="1" transform="rotate(8 258.1 428.5)"/><rect x="263.5" y="428.5" width="2" height="9.0" rx="1" transform="rotate(8 263.5 428.5)"/><rect x="268.9" y="428.5" width="2" height="9.0" rx="1" transform="rotate(8 268.9 428.5)"/><rect x="274.3" y="428.5" width="2" height="9.0" rx="1" transform="rotate(8 274.3 428.5)"/><rect x="279.7" y="428.5" width="2" height="9.0" rx="1" transform="rotate(8 279.7 428.5)"/><rect x="250.0" y="435.0" width="2" height="9.0" rx="1" transform="rotate(8 250.0 435.0)"/><rect x="255.4" y="435.0" width="2" height="9.0" rx="1" transform="rotate(8 255.4 435.0)"/><rect x="260.8" y="435.0" width="2" height="9.0" rx="1" transform="rotate(8 260.8 435.0)"/><rect x="266.2" y="435.0" width="2" height="9.0" rx="1" transform="rotate(8 266.2 435.0)"/><rect x="271.6" y="435.0" width="2" height="9.0" rx="1" transform="rotate(8 271.6 435.0)"/><rect x="277.0" y="435.0" width="2" height="9.0" rx="1" transform="rotate(8 277.0 435.0)"/><rect x="252.7" y="441.5" width="2" height="9.0" rx="1" transform="rotate(8 252.7 441.5)"/><rect x="258.1" y="441.5" width="2" height="9.0" rx="1" transform="rotate(8 258.1 441.5)"/><rect x="263.5" y="441.5" width="2" height="9.0" rx="1" transform="rotate(8 263.5 441.5)"/><rect x="268.9" y="441.5" width="2" height="9.0" rx="1" transform="rotate(8 268.9 441.5)"/><rect x="274.3" y="441.5" width="2" height="9.0" rx="1" transform="rotate(8 274.3 441.5)"/><rect x="279.7" y="441.5" width="2" height="9.0" rx="1" transform="rotate(8 279.7 441.5)"/><rect x="250.0" y="448.0" width="2" height="9.0" rx="1" transform="rotate(8 250.0 448.0)"/><rect x="255.4" y="448.0" width="2" height="9.0" rx="1" transform="rotate(8 255.4 448.0)"/><rect x="260.8" y="448.0" width="2" height="9.0" rx="1" transform="rotate(8 260.8 448.0)"/><rect x="266.2" y="448.0" width="2" height="9.0" rx="1" transform="rotate(8 266.2 448.0)"/><rect x="271.6" y="448.0" width="2" height="9.0" rx="1" transform="rotate(8 271.6 448.0)"/><rect x="277.0" y="448.0" width="2" height="9.0" rx="1" transform="rotate(8 277.0 448.0)"/><rect x="252.7" y="454.5" width="2" height="9.0" rx="1" transform="rotate(8 252.7 454.5)"/><rect x="258.1" y="454.5" width="2" height="9.0" rx="1" transform="rotate(8 258.1 454.5)"/><rect x="263.5" y="454.5" width="2" height="9.0" rx="1" transform="rotate(8 263.5 454.5)"/><rect x="268.9" y="454.5" width="2" height="9.0" rx="1" transform="rotate(8 268.9 454.5)"/><rect x="274.3" y="454.5" width="2" height="9.0" rx="1" transform="rotate(8 274.3 454.5)"/><rect x="279.7" y="454.5" width="2" height="9.0" rx="1" transform="rotate(8 279.7 454.5)"/><rect x="250.0" y="461.0" width="2" height="9.0" rx="1" transform="rotate(8 250.0 461.0)"/><rect x="255.4" y="461.0" width="2" height="9.0" rx="1" transform="rotate(8 255.4 461.0)"/><rect x="260.8" y="461.0" width="2" height="9.0" rx="1" transform="rotate(8 260.8 461.0)"/><rect x="266.2" y="461.0" width="2" height="9.0" rx="1" transform="rotate(8 266.2 461.0)"/><rect x="271.6" y="461.0" width="2" height="9.0" rx="1" transform="rotate(8 271.6 461.0)"/><rect x="277.0" y="461.0" width="2" height="9.0" rx="1" transform="rotate(8 277.0 461.0)"/><rect x="252.7" y="467.5" width="2" height="9.0" rx="1" transform="rotate(8 252.7 467.5)"/><rect x="258.1" y="467.5" width="2" height="9.0" rx="1" transform="rotate(8 258.1 467.5)"/><rect x="263.5" y="467.5" width="2" height="9.0" rx="1" transform="rotate(8 263.5 467.5)"/><rect x="268.9" y="467.5" width="2" height="9.0" rx="1" transform="rotate(8 268.9 467.5)"/><rect x="274.3" y="467.5" width="2" height="9.0" rx="1" transform="rotate(8 274.3 467.5)"/><rect x="279.7" y="467.5" width="2" height="9.0" rx="1" transform="rotate(8 279.7 467.5)"/><rect x="250.0" y="474.0" width="2" height="9.0" rx="1" transform="rotate(8 250.0 474.0)"/><rect x="255.4" y="474.0" width="2" height="9.0" rx="1" transform="rotate(8 255.4 474.0)"/><rect x="260.8" y="474.0" width="2" height="9.0" rx="1" transform="rotate(8 260.8 474.0)"/><rect x="266.2" y="474.0" width="2" height="9.0" rx="1" transform="rotate(8 266.2 474.0)"/><rect x="271.6" y="474.0" width="2" height="9.0" rx="1" transform="rotate(8 271.6 474.0)"/><rect x="277.0" y="474.0" width="2" height="9.0" rx="1" transform="rotate(8 277.0 474.0)"/><rect x="252.7" y="480.5" width="2" height="9.0" rx="1" transform="rotate(8 252.7 480.5)"/><rect x="258.1" y="480.5" width="2" height="9.0" rx="1" transform="rotate(8 258.1 480.5)"/><rect x="263.5" y="480.5" width="2" height="9.0" rx="1" transform="rotate(8 263.5 480.5)"/><rect x="268.9" y="480.5" width="2" height="9.0" rx="1" transform="rotate(8 268.9 480.5)"/><rect x="274.3" y="480.5" width="2" height="9.0" rx="1" transform="rotate(8 274.3 480.5)"/><rect x="279.7" y="480.5" width="2" height="9.0" rx="1" transform="rotate(8 279.7 480.5)"/><rect x="250.0" y="487.0" width="2" height="9.0" rx="1" transform="rotate(8 250.0 487.0)"/><rect x="255.4" y="487.0" width="2" height="9.0" rx="1" transform="rotate(8 255.4 487.0)"/><rect x="260.8" y="487.0" width="2" height="9.0" rx="1" transform="rotate(8 260.8 487.0)"/><rect x="266.2" y="487.0" width="2" height="9.0" rx="1" transform="rotate(8 266.2 487.0)"/><rect x="271.6" y="487.0" width="2" height="9.0" rx="1" transform="rotate(8 271.6 487.0)"/><rect x="277.0" y="487.0" width="2" height="9.0" rx="1" transform="rotate(8 277.0 487.0)"/><rect x="252.7" y="493.5" width="2" height="9.0" rx="1" transform="rotate(8 252.7 493.5)"/><rect x="258.1" y="493.5" width="2" height="9.0" rx="1" transform="rotate(8 258.1 493.5)"/><rect x="263.5" y="493.5" width="2" height="9.0" rx="1" transform="rotate(8 263.5 493.5)"/><rect x="268.9" y="493.5" width="2" height="9.0" rx="1" transform="rotate(8 268.9 493.5)"/><rect x="274.3" y="493.5" width="2" height="9.0" rx="1" transform="rotate(8 274.3 493.5)"/><rect x="279.7" y="493.5" width="2" height="9.0" rx="1" transform="rotate(8 279.7 493.5)"/><rect x="250.0" y="500.0" width="2" height="9.0" rx="1" transform="rotate(8 250.0 500.0)"/><rect x="255.4" y="500.0" width="2" height="9.0" rx="1" transform="rotate(8 255.4 500.0)"/><rect x="260.8" y="500.0" width="2" height="9.0" rx="1" transform="rotate(8 260.8 500.0)"/><rect x="266.2" y="500.0" width="2" height="9.0" rx="1" transform="rotate(8 266.2 500.0)"/><rect x="271.6" y="500.0" width="2" height="9.0" rx="1" transform="rotate(8 271.6 500.0)"/><rect x="277.0" y="500.0" width="2" height="9.0" rx="1" transform="rotate(8 277.0 500.0)"/><rect x="252.7" y="506.5" width="2" height="9.0" rx="1" transform="rotate(8 252.7 506.5)"/><rect x="258.1" y="506.5" width="2" height="9.0" rx="1" transform="rotate(8 258.1 506.5)"/><rect x="263.5" y="506.5" width="2" height="9.0" rx="1" transform="rotate(8 263.5 506.5)"/><rect x="268.9" y="506.5" width="2" height="9.0" rx="1" transform="rotate(8 268.9 506.5)"/><rect x="274.3" y="506.5" width="2" height="9.0" rx="1" transform="rotate(8 274.3 506.5)"/><rect x="279.7" y="506.5" width="2" height="9.0" rx="1" transform="rotate(8 279.7 506.5)"/><rect x="250.0" y="513.0" width="2" height="9.0" rx="1" transform="rotate(8 250.0 513.0)"/><rect x="255.4" y="513.0" width="2" height="9.0" rx="1" transform="rotate(8 255.4 513.0)"/><rect x="260.8" y="513.0" width="2" height="9.0" rx="1" transform="rotate(8 260.8 513.0)"/><rect x="266.2" y="513.0" width="2" height="9.0" rx="1" transform="rotate(8 266.2 513.0)"/><rect x="271.6" y="513.0" width="2" height="9.0" rx="1" transform="rotate(8 271.6 513.0)"/><rect x="277.0" y="513.0" width="2" height="9.0" rx="1" transform="rotate(8 277.0 513.0)"/><rect x="252.7" y="519.5" width="2" height="9.0" rx="1" transform="rotate(8 252.7 519.5)"/><rect x="258.1" y="519.5" width="2" height="9.0" rx="1" transform="rotate(8 258.1 519.5)"/><rect x="263.5" y="519.5" width="2" height="9.0" rx="1" transform="rotate(8 263.5 519.5)"/><rect x="268.9" y="519.5" width="2" height="9.0" rx="1" transform="rotate(8 268.9 519.5)"/><rect x="274.3" y="519.5" width="2" height="9.0" rx="1" transform="rotate(8 274.3 519.5)"/><rect x="279.7" y="519.5" width="2" height="9.0" rx="1" transform="rotate(8 279.7 519.5)"/><rect x="250.0" y="526.0" width="2" height="9.0" rx="1" transform="rotate(8 250.0 526.0)"/><rect x="255.4" y="526.0" width="2" height="9.0" rx="1" transform="rotate(8 255.4 526.0)"/><rect x="260.8" y="526.0" width="2" height="9.0" rx="1" transform="rotate(8 260.8 526.0)"/><rect x="266.2" y="526.0" width="2" height="9.0" rx="1" transform="rotate(8 266.2 526.0)"/><rect x="271.6" y="526.0" width="2" height="9.0" rx="1" transform="rotate(8 271.6 526.0)"/><rect x="277.0" y="526.0" width="2" height="9.0" rx="1" transform="rotate(8 277.0 526.0)"/></g>

<!-- separator -->
<polygon points="387.6,232 397.7,196 399.5,197 399.2,257 398.8,525 394,572 389.6,603 388.6,603 387.5,560" fill="url(#sep)" opacity="0.92"/>

<!-- RIGHT END PLATE -->
<polygon points="566.3,176 577.5,176 611.2,208.4 590.9,208.4" fill="#fbfcfd"/>
<line x1="577.5" y1="176" x2="611.2" y2="208.4" stroke="#d6e6ee" stroke-width="0.8"/>
<polygon points="566.3,176 590.9,208.4 580,617.7 575.7,617.7" fill="#c9d5da"/>
<polygon points="590.9,208.4 611.2,208.4 599.6,617.7 580,617.7" fill="url(#endPlateR)"/>
<!-- right dark plate -->
<polygon points="539.5,191.7 554,191.7 578,227 574,599.3 550.8,599.3 543.2,545 539.5,230" fill="#585858"/>
<polygon points="557.6,227 578,227 570,599.3 553,599.3" fill="#6a6a6a"/>
<polygon points="539.5,191.7 554,191.7 578,227 557.6,227" fill="#707070"/>
<!-- right gold -->
<path d="M556.2,121 Q556.2,115.2 561.3,115.2 Q566.4,115.2 566.4,121 L566.4,193 L584.6,221.6 L579,588.5 Q574.5,591 570.3,588.5 L577.5,226 L556.2,194 Z" fill="#bf9628"/>
<path d="M557.6,126 Q558.5,118 562,116.8" fill="none" stroke="#f4e6a8" stroke-width="2"/>
<path d="M557.8,126 L557.8,190" stroke="#eed890" stroke-width="2.2"/>
<path d="M565.4,122 L565.4,192" stroke="#9a7418" stroke-width="1.6"/>
<path d="M559.5,192 L559.5,165 Q562,159 564.5,165 L564.5,192 L575,209 L573,211Z" fill="#c47c1c"/>
<path d="M577.5,226 L584.6,221.6 L579,588.5 Q574.5,591 570.3,588.5 Z" fill="#9a7820"/>
<path d="M580.8,225 L582.5,224 L576.5,585 L575,585Z" fill="#cfb04a"/>
<!-- copper electrode -->
<polygon points="533.8,230 541.7,236 541.7,538 537.8,536.4" fill="#843c30"/>
<polygon points="533.8,230 536.5,229.5 551,254.7 547.5,536.4 541.7,538 541.7,236" fill="#a45a4e"/>
<polygon points="537.8,536.4 547.5,536.4 546.5,545 540,545" fill="#a06a60" opacity="0.7"/>
<g clip-path="url(#clipSpR)"><circle cx="541.3" cy="374.3" r="1.0" fill="#d89890"/><circle cx="538.9" cy="519.0" r="0.6" fill="#f4d4cc"/><circle cx="544.9" cy="464.4" r="1.0" fill="#5a2a24"/><circle cx="537.2" cy="279.2" r="1.1" fill="#f4d4cc"/><circle cx="541.5" cy="473.2" r="0.7" fill="#e6b8b0"/><circle cx="536.4" cy="510.8" r="0.9" fill="#e6b8b0"/><circle cx="544.6" cy="394.3" r="1.1" fill="#c07a70"/><circle cx="536.2" cy="357.9" r="0.8" fill="#d89890"/><circle cx="545.6" cy="460.4" r="0.7" fill="#c07a70"/><circle cx="541.6" cy="393.4" r="0.6" fill="#d89890"/><circle cx="535.2" cy="441.4" r="0.9" fill="#c07a70"/><circle cx="549.8" cy="513.5" r="1.1" fill="#c07a70"/><circle cx="541.9" cy="311.6" r="0.8" fill="#5a2a24"/><circle cx="541.9" cy="531.9" r="0.7" fill="#d89890"/><circle cx="549.7" cy="342.7" r="1.2" fill="#f4d4cc"/><circle cx="542.0" cy="316.2" r="0.7" fill="#5a2a24"/><circle cx="542.9" cy="325.9" r="0.5" fill="#f4d4cc"/><circle cx="541.2" cy="526.5" r="0.8" fill="#d89890"/><circle cx="543.3" cy="523.8" r="1.0" fill="#d89890"/><circle cx="541.6" cy="518.0" r="0.6" fill="#f4d4cc"/><circle cx="539.2" cy="416.7" r="0.7" fill="#f4d4cc"/><circle cx="546.2" cy="411.0" r="0.8" fill="#f4d4cc"/><circle cx="543.1" cy="292.2" r="0.9" fill="#e6b8b0"/><circle cx="547.1" cy="302.0" r="0.6" fill="#d89890"/><circle cx="550.5" cy="537.5" r="1.0" fill="#e6b8b0"/><circle cx="537.3" cy="532.2" r="0.6" fill="#d89890"/><circle cx="538.3" cy="405.4" r="0.5" fill="#c07a70"/><circle cx="539.0" cy="449.6" r="0.9" fill="#f4d4cc"/><circle cx="532.3" cy="291.3" r="0.6" fill="#f4d4cc"/><circle cx="534.0" cy="518.8" r="0.7" fill="#5a2a24"/><circle cx="551.1" cy="438.5" r="0.8" fill="#e6b8b0"/><circle cx="533.3" cy="487.1" r="1.2" fill="#e6b8b0"/><circle cx="548.6" cy="506.4" r="0.9" fill="#c07a70"/><circle cx="539.3" cy="434.5" r="1.2" fill="#e6b8b0"/><circle cx="551.9" cy="422.5" r="1.0" fill="#f4d4cc"/><circle cx="539.4" cy="342.0" r="0.6" fill="#d89890"/><circle cx="537.1" cy="272.2" r="0.6" fill="#f4d4cc"/><circle cx="534.2" cy="476.6" r="0.6" fill="#d89890"/><circle cx="542.1" cy="407.2" r="0.9" fill="#c07a70"/><circle cx="541.3" cy="462.0" r="1.0" fill="#f4d4cc"/><circle cx="540.5" cy="301.9" r="1.0" fill="#f4d4cc"/><circle cx="549.9" cy="339.5" r="1.0" fill="#c07a70"/><circle cx="543.8" cy="362.0" r="0.8" fill="#e6b8b0"/><circle cx="536.4" cy="437.0" r="1.1" fill="#c07a70"/><circle cx="551.8" cy="302.5" r="0.5" fill="#f4d4cc"/><circle cx="536.0" cy="309.1" r="1.0" fill="#e6b8b0"/><circle cx="538.8" cy="252.6" r="1.0" fill="#e6b8b0"/><circle cx="542.2" cy="520.2" r="0.7" fill="#f4d4cc"/><circle cx="535.4" cy="362.8" r="1.2" fill="#e6b8b0"/><circle cx="546.1" cy="361.8" r="0.6" fill="#e6b8b0"/><circle cx="542.0" cy="536.8" r="1.0" fill="#f4d4cc"/><circle cx="548.4" cy="474.5" r="0.7" fill="#e6b8b0"/><circle cx="538.7" cy="260.0" r="1.0" fill="#f4d4cc"/><circle cx="542.2" cy="280.4" r="1.0" fill="#c07a70"/><circle cx="537.2" cy="369.6" r="0.7" fill="#c07a70"/><circle cx="532.1" cy="297.5" r="0.8" fill="#f4d4cc"/><circle cx="540.2" cy="395.3" r="0.7" fill="#d89890"/><circle cx="538.7" cy="311.1" r="1.0" fill="#f4d4cc"/><circle cx="532.8" cy="358.0" r="1.1" fill="#e6b8b0"/><circle cx="535.1" cy="250.0" r="0.9" fill="#d89890"/><circle cx="550.4" cy="259.2" r="0.9" fill="#c07a70"/><circle cx="537.1" cy="258.9" r="1.1" fill="#5a2a24"/><circle cx="548.2" cy="319.1" r="1.2" fill="#c07a70"/><circle cx="534.5" cy="248.9" r="0.8" fill="#e6b8b0"/><circle cx="545.9" cy="408.4" r="1.2" fill="#e6b8b0"/><circle cx="547.8" cy="474.6" r="0.6" fill="#d89890"/><circle cx="536.8" cy="297.0" r="1.2" fill="#d89890"/><circle cx="539.0" cy="445.0" r="0.8" fill="#d89890"/><circle cx="535.2" cy="364.6" r="0.6" fill="#f4d4cc"/><circle cx="533.8" cy="454.5" r="1.1" fill="#f4d4cc"/><circle cx="545.2" cy="309.3" r="0.6" fill="#c07a70"/><circle cx="533.8" cy="297.0" r="0.6" fill="#d89890"/><circle cx="533.7" cy="323.5" r="0.9" fill="#5a2a24"/><circle cx="549.3" cy="411.5" r="1.2" fill="#5a2a24"/><circle cx="542.7" cy="325.1" r="0.6" fill="#d89890"/><circle cx="534.5" cy="338.7" r="0.9" fill="#f4d4cc"/><circle cx="544.4" cy="433.8" r="0.6" fill="#e6b8b0"/><circle cx="540.4" cy="435.2" r="0.6" fill="#5a2a24"/><circle cx="537.9" cy="265.1" r="0.9" fill="#c07a70"/><circle cx="547.6" cy="389.4" r="0.7" fill="#5a2a24"/><circle cx="542.9" cy="397.7" r="0.7" fill="#e6b8b0"/><circle cx="548.4" cy="378.6" r="1.0" fill="#f4d4cc"/><circle cx="546.6" cy="497.0" r="1.0" fill="#c07a70"/><circle cx="539.2" cy="463.5" r="1.0" fill="#f4d4cc"/><circle cx="548.5" cy="534.8" r="0.8" fill="#d89890"/><circle cx="544.7" cy="444.4" r="0.7" fill="#e6b8b0"/><circle cx="538.8" cy="355.8" r="0.8" fill="#5a2a24"/><circle cx="542.5" cy="437.1" r="1.2" fill="#f4d4cc"/><circle cx="538.8" cy="375.3" r="1.0" fill="#f4d4cc"/><circle cx="541.8" cy="343.2" r="0.7" fill="#c07a70"/><circle cx="532.9" cy="268.9" r="0.7" fill="#c07a70"/><circle cx="549.4" cy="365.0" r="0.8" fill="#d89890"/><circle cx="535.1" cy="428.1" r="1.0" fill="#d89890"/><circle cx="537.6" cy="515.7" r="1.1" fill="#d89890"/><circle cx="532.7" cy="282.0" r="0.5" fill="#c07a70"/><circle cx="535.8" cy="469.1" r="0.8" fill="#e6b8b0"/><circle cx="534.2" cy="312.7" r="0.9" fill="#5a2a24"/><circle cx="551.8" cy="535.9" r="0.8" fill="#f4d4cc"/><circle cx="539.6" cy="231.5" r="0.8" fill="#d89890"/><circle cx="538.7" cy="440.0" r="0.9" fill="#f4d4cc"/><circle cx="536.1" cy="408.8" r="0.9" fill="#f4d4cc"/><circle cx="537.9" cy="290.5" r="1.1" fill="#f4d4cc"/><circle cx="536.7" cy="410.8" r="0.9" fill="#d89890"/><circle cx="534.4" cy="406.3" r="0.9" fill="#5a2a24"/><circle cx="533.8" cy="371.6" r="0.7" fill="#c07a70"/><circle cx="538.2" cy="357.9" r="0.8" fill="#f4d4cc"/><circle cx="534.3" cy="535.8" r="0.7" fill="#c07a70"/><circle cx="536.9" cy="411.2" r="0.8" fill="#e6b8b0"/><circle cx="542.4" cy="399.6" r="0.7" fill="#c07a70"/><circle cx="547.5" cy="377.5" r="1.2" fill="#e6b8b0"/><circle cx="545.3" cy="372.1" r="0.9" fill="#f4d4cc"/><circle cx="547.6" cy="490.8" r="0.9" fill="#c07a70"/><circle cx="535.2" cy="526.3" r="1.2" fill="#c07a70"/><circle cx="550.8" cy="501.9" r="0.7" fill="#f4d4cc"/><circle cx="545.9" cy="249.1" r="1.1" fill="#f4d4cc"/><circle cx="539.4" cy="363.0" r="0.9" fill="#d89890"/><circle cx="550.4" cy="336.5" r="0.8" fill="#f4d4cc"/><circle cx="534.0" cy="392.7" r="0.6" fill="#d89890"/><circle cx="549.2" cy="293.4" r="1.1" fill="#d89890"/><circle cx="549.0" cy="415.8" r="0.9" fill="#d89890"/><circle cx="537.7" cy="254.3" r="1.2" fill="#d89890"/><circle cx="548.9" cy="342.2" r="1.2" fill="#d89890"/><circle cx="534.8" cy="438.3" r="0.6" fill="#f4d4cc"/><circle cx="540.3" cy="526.6" r="0.8" fill="#c07a70"/><circle cx="532.1" cy="539.5" r="0.6" fill="#5a2a24"/><circle cx="540.9" cy="354.6" r="0.7" fill="#c07a70"/><circle cx="535.3" cy="514.1" r="1.1" fill="#e6b8b0"/><circle cx="532.6" cy="296.5" r="1.2" fill="#c07a70"/><circle cx="545.5" cy="383.1" r="0.8" fill="#f4d4cc"/><circle cx="542.8" cy="249.1" r="0.6" fill="#f4d4cc"/><circle cx="537.2" cy="429.1" r="0.6" fill="#5a2a24"/><circle cx="547.4" cy="433.5" r="1.1" fill="#d89890"/><circle cx="543.0" cy="269.8" r="0.8" fill="#5a2a24"/><circle cx="534.2" cy="313.4" r="0.7" fill="#f4d4cc"/><circle cx="542.9" cy="420.4" r="1.0" fill="#5a2a24"/><circle cx="548.7" cy="437.6" r="1.0" fill="#d89890"/><circle cx="543.3" cy="463.0" r="0.8" fill="#c07a70"/><circle cx="543.0" cy="279.2" r="0.5" fill="#e6b8b0"/><circle cx="533.6" cy="422.9" r="0.9" fill="#5a2a24"/><circle cx="546.6" cy="311.5" r="1.1" fill="#f4d4cc"/><circle cx="550.1" cy="524.3" r="0.5" fill="#5a2a24"/><circle cx="549.8" cy="365.3" r="1.1" fill="#c07a70"/><circle cx="542.7" cy="497.1" r="0.6" fill="#d89890"/><circle cx="544.1" cy="269.1" r="0.8" fill="#e6b8b0"/><circle cx="532.4" cy="452.5" r="0.5" fill="#d89890"/><circle cx="545.4" cy="321.8" r="1.0" fill="#e6b8b0"/><circle cx="549.4" cy="536.8" r="0.8" fill="#d89890"/><circle cx="543.1" cy="229.7" r="0.5" fill="#d89890"/><circle cx="536.6" cy="256.5" r="1.1" fill="#5a2a24"/><circle cx="541.7" cy="415.4" r="1.1" fill="#c07a70"/><circle cx="546.0" cy="372.8" r="1.1" fill="#c07a70"/><circle cx="548.6" cy="521.1" r="0.7" fill="#d89890"/><circle cx="546.9" cy="487.3" r="0.7" fill="#d89890"/><circle cx="539.9" cy="297.9" r="0.7" fill="#d89890"/><circle cx="541.2" cy="336.6" r="0.8" fill="#5a2a24"/><circle cx="547.1" cy="460.5" r="1.1" fill="#d89890"/><circle cx="540.0" cy="277.9" r="0.8" fill="#c07a70"/><circle cx="535.1" cy="466.5" r="0.8" fill="#f4d4cc"/><circle cx="541.4" cy="386.1" r="1.1" fill="#f4d4cc"/><circle cx="545.1" cy="305.6" r="0.9" fill="#e6b8b0"/><circle cx="537.3" cy="336.8" r="0.6" fill="#d89890"/><circle cx="539.5" cy="408.5" r="0.7" fill="#c07a70"/><circle cx="548.1" cy="500.2" r="0.7" fill="#f4d4cc"/><circle cx="543.0" cy="415.7" r="0.9" fill="#f4d4cc"/><circle cx="546.0" cy="281.0" r="1.0" fill="#e6b8b0"/><circle cx="547.7" cy="439.6" r="1.1" fill="#c07a70"/><circle cx="548.7" cy="450.6" r="0.8" fill="#e6b8b0"/><circle cx="535.1" cy="281.8" r="1.1" fill="#d89890"/><circle cx="536.4" cy="498.4" r="0.8" fill="#f4d4cc"/><circle cx="534.0" cy="453.2" r="1.1" fill="#f4d4cc"/><circle cx="541.5" cy="395.8" r="0.8" fill="#5a2a24"/><circle cx="541.7" cy="258.9" r="1.2" fill="#f4d4cc"/><circle cx="540.9" cy="505.5" r="1.0" fill="#e6b8b0"/><circle cx="542.8" cy="295.9" r="1.0" fill="#d89890"/><circle cx="544.6" cy="413.5" r="1.2" fill="#f4d4cc"/><circle cx="545.0" cy="344.0" r="0.8" fill="#e6b8b0"/><circle cx="551.6" cy="277.2" r="0.7" fill="#d89890"/><circle cx="543.0" cy="456.7" r="0.6" fill="#5a2a24"/><circle cx="549.4" cy="243.8" r="0.7" fill="#e6b8b0"/><circle cx="537.1" cy="488.1" r="0.7" fill="#f4d4cc"/><circle cx="537.0" cy="321.6" r="0.8" fill="#d89890"/><circle cx="536.9" cy="502.0" r="0.8" fill="#f4d4cc"/><circle cx="549.3" cy="263.7" r="1.0" fill="#c07a70"/><circle cx="545.9" cy="471.5" r="1.2" fill="#f4d4cc"/><circle cx="539.0" cy="325.8" r="0.8" fill="#5a2a24"/><circle cx="539.8" cy="325.5" r="0.6" fill="#5a2a24"/><circle cx="547.0" cy="439.2" r="0.9" fill="#5a2a24"/><circle cx="548.6" cy="376.5" r="0.6" fill="#c07a70"/><circle cx="550.1" cy="484.1" r="0.6" fill="#e6b8b0"/><circle cx="543.2" cy="371.9" r="0.9" fill="#f4d4cc"/><circle cx="551.9" cy="386.7" r="0.6" fill="#d89890"/><circle cx="550.0" cy="362.4" r="0.5" fill="#d89890"/><circle cx="544.5" cy="425.2" r="1.1" fill="#c07a70"/><circle cx="548.4" cy="500.9" r="0.8" fill="#f4d4cc"/><circle cx="534.9" cy="350.6" r="0.5" fill="#d89890"/><circle cx="532.4" cy="365.8" r="0.7" fill="#5a2a24"/><circle cx="536.6" cy="249.2" r="0.5" fill="#e6b8b0"/><circle cx="537.7" cy="474.7" r="0.7" fill="#5a2a24"/><circle cx="545.8" cy="278.7" r="0.6" fill="#e6b8b0"/><circle cx="551.9" cy="321.3" r="1.0" fill="#d89890"/><circle cx="546.1" cy="420.2" r="0.9" fill="#c07a70"/><circle cx="549.9" cy="264.8" r="0.8" fill="#c07a70"/><circle cx="551.3" cy="347.5" r="0.8" fill="#f4d4cc"/><circle cx="539.6" cy="290.4" r="0.8" fill="#c07a70"/><circle cx="539.9" cy="463.7" r="0.7" fill="#e6b8b0"/><circle cx="543.7" cy="431.3" r="0.7" fill="#f4d4cc"/><circle cx="535.1" cy="349.6" r="0.9" fill="#d89890"/><circle cx="535.1" cy="390.0" r="0.8" fill="#d89890"/><circle cx="549.9" cy="302.3" r="0.9" fill="#c07a70"/><circle cx="533.6" cy="419.5" r="1.0" fill="#d89890"/><circle cx="550.2" cy="365.2" r="1.0" fill="#e6b8b0"/><circle cx="550.5" cy="262.1" r="0.7" fill="#e6b8b0"/><circle cx="548.2" cy="341.6" r="1.1" fill="#e6b8b0"/><circle cx="532.3" cy="275.1" r="0.7" fill="#e6b8b0"/><circle cx="548.3" cy="400.5" r="0.9" fill="#e6b8b0"/><circle cx="534.7" cy="484.2" r="0.8" fill="#d89890"/><circle cx="543.7" cy="325.6" r="1.2" fill="#5a2a24"/><circle cx="546.8" cy="258.4" r="1.2" fill="#c07a70"/><circle cx="538.1" cy="246.2" r="0.6" fill="#c07a70"/><circle cx="533.3" cy="444.4" r="0.9" fill="#d89890"/><circle cx="545.6" cy="318.3" r="0.9" fill="#e6b8b0"/><circle cx="537.6" cy="410.7" r="0.7" fill="#d89890"/><circle cx="544.8" cy="386.9" r="0.6" fill="#5a2a24"/><circle cx="541.9" cy="299.4" r="0.6" fill="#5a2a24"/><circle cx="548.7" cy="318.9" r="0.7" fill="#f4d4cc"/><circle cx="540.2" cy="506.5" r="0.7" fill="#5a2a24"/><circle cx="549.9" cy="536.9" r="1.2" fill="#d89890"/><circle cx="550.9" cy="495.2" r="1.1" fill="#f4d4cc"/><circle cx="552.0" cy="430.1" r="1.1" fill="#5a2a24"/><circle cx="532.3" cy="308.3" r="1.0" fill="#d89890"/><circle cx="537.2" cy="420.3" r="0.6" fill="#c07a70"/><circle cx="535.5" cy="431.0" r="0.7" fill="#e6b8b0"/><circle cx="535.7" cy="428.3" r="0.9" fill="#c07a70"/><circle cx="532.9" cy="287.6" r="1.2" fill="#c07a70"/><circle cx="545.7" cy="289.1" r="1.0" fill="#5a2a24"/><circle cx="546.8" cy="430.9" r="0.8" fill="#5a2a24"/><circle cx="540.0" cy="351.5" r="0.8" fill="#f4d4cc"/><circle cx="551.3" cy="470.6" r="1.2" fill="#c07a70"/><circle cx="532.7" cy="253.5" r="1.0" fill="#e6b8b0"/><circle cx="546.3" cy="520.8" r="1.1" fill="#d89890"/><circle cx="549.8" cy="371.3" r="0.7" fill="#5a2a24"/><circle cx="539.4" cy="477.3" r="1.1" fill="#5a2a24"/><circle cx="545.4" cy="281.1" r="0.6" fill="#5a2a24"/><circle cx="542.6" cy="377.3" r="1.1" fill="#5a2a24"/><circle cx="535.1" cy="451.7" r="0.7" fill="#d89890"/><circle cx="551.4" cy="318.0" r="0.6" fill="#f4d4cc"/><circle cx="539.9" cy="231.8" r="0.8" fill="#c07a70"/><circle cx="541.3" cy="365.5" r="0.9" fill="#e6b8b0"/><circle cx="533.9" cy="523.0" r="0.8" fill="#f4d4cc"/><circle cx="532.5" cy="259.1" r="1.0" fill="#5a2a24"/><circle cx="545.3" cy="256.2" r="0.8" fill="#f4d4cc"/><circle cx="551.4" cy="344.1" r="1.2" fill="#e6b8b0"/><circle cx="547.3" cy="412.4" r="0.9" fill="#5a2a24"/><circle cx="548.2" cy="445.0" r="0.9" fill="#c07a70"/><circle cx="535.1" cy="396.4" r="0.7" fill="#c07a70"/><circle cx="535.2" cy="256.1" r="1.2" fill="#d89890"/><circle cx="544.0" cy="515.6" r="1.1" fill="#5a2a24"/><circle cx="545.7" cy="242.8" r="0.9" fill="#5a2a24"/><circle cx="534.0" cy="332.0" r="1.0" fill="#d89890"/><circle cx="545.3" cy="520.4" r="1.0" fill="#c07a70"/><circle cx="541.0" cy="373.7" r="0.9" fill="#e6b8b0"/><circle cx="545.8" cy="282.7" r="0.6" fill="#f4d4cc"/><circle cx="536.2" cy="293.2" r="1.0" fill="#f4d4cc"/><circle cx="551.0" cy="539.0" r="0.8" fill="#e6b8b0"/><circle cx="544.6" cy="282.1" r="1.2" fill="#f4d4cc"/><circle cx="540.9" cy="249.0" r="0.5" fill="#c07a70"/><circle cx="546.9" cy="385.3" r="0.6" fill="#f4d4cc"/><circle cx="549.0" cy="471.3" r="0.9" fill="#f4d4cc"/><circle cx="538.8" cy="424.7" r="0.8" fill="#e6b8b0"/><circle cx="544.9" cy="385.7" r="0.7" fill="#5a2a24"/><circle cx="547.8" cy="362.5" r="0.7" fill="#e6b8b0"/><circle cx="532.5" cy="490.8" r="1.1" fill="#c07a70"/><circle cx="546.0" cy="529.4" r="1.1" fill="#5a2a24"/><circle cx="539.6" cy="326.5" r="1.2" fill="#d89890"/><circle cx="540.2" cy="527.1" r="0.8" fill="#5a2a24"/><circle cx="539.5" cy="381.5" r="0.8" fill="#e6b8b0"/><circle cx="542.0" cy="362.9" r="0.9" fill="#e6b8b0"/><circle cx="534.3" cy="414.9" r="1.1" fill="#d89890"/><circle cx="532.9" cy="502.1" r="1.0" fill="#d89890"/><circle cx="545.4" cy="228.9" r="0.8" fill="#f4d4cc"/><circle cx="539.0" cy="374.2" r="0.6" fill="#5a2a24"/><circle cx="544.3" cy="331.5" r="0.9" fill="#5a2a24"/><circle cx="540.0" cy="504.8" r="1.1" fill="#e6b8b0"/><circle cx="540.6" cy="503.4" r="0.9" fill="#5a2a24"/><circle cx="551.4" cy="422.5" r="0.8" fill="#5a2a24"/><circle cx="532.9" cy="318.3" r="1.0" fill="#f4d4cc"/><circle cx="538.4" cy="501.4" r="0.5" fill="#f4d4cc"/><circle cx="532.6" cy="430.2" r="1.1" fill="#f4d4cc"/><circle cx="546.7" cy="489.2" r="1.0" fill="#5a2a24"/><circle cx="551.6" cy="468.1" r="0.9" fill="#f4d4cc"/><circle cx="551.1" cy="471.1" r="1.2" fill="#f4d4cc"/><circle cx="540.8" cy="504.5" r="1.2" fill="#f4d4cc"/><circle cx="548.1" cy="282.6" r="0.9" fill="#d89890"/><circle cx="550.7" cy="233.8" r="0.7" fill="#c07a70"/><circle cx="533.0" cy="266.1" r="1.1" fill="#e6b8b0"/><circle cx="539.9" cy="398.9" r="1.1" fill="#e6b8b0"/><circle cx="538.5" cy="250.2" r="0.8" fill="#d89890"/><circle cx="542.8" cy="240.6" r="1.1" fill="#c07a70"/><circle cx="542.1" cy="272.7" r="1.1" fill="#e6b8b0"/><circle cx="536.3" cy="521.1" r="1.1" fill="#f4d4cc"/><circle cx="550.0" cy="244.9" r="1.1" fill="#d89890"/><circle cx="534.0" cy="467.1" r="1.0" fill="#5a2a24"/><circle cx="548.7" cy="535.3" r="0.7" fill="#f4d4cc"/><circle cx="550.4" cy="325.8" r="1.0" fill="#f4d4cc"/><circle cx="549.0" cy="404.9" r="0.7" fill="#d89890"/><circle cx="544.1" cy="285.2" r="0.9" fill="#d89890"/><circle cx="549.8" cy="303.6" r="1.0" fill="#e6b8b0"/><circle cx="536.0" cy="323.6" r="0.5" fill="#d89890"/><circle cx="534.0" cy="315.9" r="1.0" fill="#c07a70"/><circle cx="548.1" cy="396.6" r="0.8" fill="#e6b8b0"/><circle cx="539.0" cy="502.5" r="0.6" fill="#e6b8b0"/><circle cx="550.7" cy="230.1" r="1.1" fill="#c07a70"/><circle cx="533.7" cy="305.0" r="1.0" fill="#c07a70"/><circle cx="544.5" cy="264.4" r="0.8" fill="#f4d4cc"/><circle cx="536.8" cy="474.1" r="1.0" fill="#c07a70"/><circle cx="542.6" cy="446.2" r="0.6" fill="#c07a70"/><circle cx="533.3" cy="358.6" r="0.7" fill="#e6b8b0"/><circle cx="536.3" cy="329.5" r="0.7" fill="#c07a70"/><circle cx="538.1" cy="422.2" r="0.6" fill="#e6b8b0"/><circle cx="541.0" cy="404.9" r="1.1" fill="#d89890"/><circle cx="541.9" cy="351.3" r="0.7" fill="#f4d4cc"/><circle cx="542.2" cy="287.5" r="0.5" fill="#c07a70"/><circle cx="548.7" cy="528.9" r="0.7" fill="#e6b8b0"/><circle cx="543.1" cy="453.7" r="0.6" fill="#c07a70"/><circle cx="545.2" cy="324.0" r="0.9" fill="#d89890"/><circle cx="538.5" cy="487.1" r="0.7" fill="#5a2a24"/><circle cx="541.6" cy="528.9" r="0.6" fill="#d89890"/><circle cx="544.8" cy="500.2" r="0.8" fill="#e6b8b0"/><circle cx="537.5" cy="395.3" r="0.8" fill="#f4d4cc"/><circle cx="540.5" cy="234.3" r="1.2" fill="#f4d4cc"/><circle cx="546.0" cy="440.9" r="0.6" fill="#f4d4cc"/><circle cx="538.2" cy="291.3" r="0.8" fill="#c07a70"/><circle cx="544.7" cy="342.1" r="0.6" fill="#e6b8b0"/><circle cx="538.2" cy="263.8" r="1.0" fill="#c07a70"/><circle cx="545.2" cy="406.0" r="0.9" fill="#f4d4cc"/><circle cx="550.8" cy="412.4" r="0.9" fill="#c07a70"/><circle cx="538.6" cy="348.3" r="1.2" fill="#c07a70"/><circle cx="532.7" cy="383.9" r="0.9" fill="#e6b8b0"/><circle cx="548.3" cy="245.6" r="0.7" fill="#e6b8b0"/><circle cx="549.8" cy="301.8" r="1.0" fill="#c07a70"/><circle cx="550.0" cy="355.7" r="0.6" fill="#e6b8b0"/><circle cx="535.5" cy="292.6" r="0.6" fill="#f4d4cc"/><circle cx="550.4" cy="483.8" r="0.7" fill="#e6b8b0"/><circle cx="534.8" cy="329.3" r="0.8" fill="#e6b8b0"/><circle cx="532.9" cy="380.0" r="0.5" fill="#c07a70"/><circle cx="544.5" cy="315.1" r="0.8" fill="#f4d4cc"/><circle cx="537.3" cy="373.9" r="0.6" fill="#c07a70"/><circle cx="550.9" cy="509.1" r="1.0" fill="#f4d4cc"/><circle cx="543.9" cy="432.1" r="0.8" fill="#5a2a24"/><circle cx="533.3" cy="322.7" r="0.8" fill="#d89890"/><circle cx="542.6" cy="427.3" r="0.6" fill="#d89890"/><circle cx="539.7" cy="421.3" r="0.7" fill="#e6b8b0"/><circle cx="540.9" cy="499.0" r="1.0" fill="#d89890"/><circle cx="538.0" cy="300.5" r="1.0" fill="#d89890"/><circle cx="536.2" cy="425.7" r="0.9" fill="#c07a70"/><circle cx="543.5" cy="482.4" r="1.2" fill="#c07a70"/><circle cx="533.7" cy="498.0" r="0.9" fill="#e6b8b0"/><circle cx="543.8" cy="444.1" r="0.9" fill="#d89890"/><circle cx="542.0" cy="363.8" r="1.0" fill="#5a2a24"/><circle cx="547.1" cy="380.7" r="0.5" fill="#f4d4cc"/><circle cx="538.5" cy="470.6" r="1.0" fill="#d89890"/><circle cx="545.3" cy="466.4" r="0.9" fill="#c07a70"/><circle cx="548.0" cy="422.7" r="1.1" fill="#d89890"/><circle cx="542.7" cy="414.5" r="1.0" fill="#f4d4cc"/><circle cx="551.8" cy="352.2" r="0.5" fill="#d89890"/><circle cx="539.0" cy="455.6" r="0.9" fill="#f4d4cc"/><circle cx="540.3" cy="317.0" r="0.8" fill="#5a2a24"/><circle cx="535.0" cy="258.1" r="0.7" fill="#5a2a24"/><circle cx="540.3" cy="428.4" r="0.8" fill="#d89890"/><circle cx="547.3" cy="439.7" r="1.1" fill="#d89890"/><circle cx="537.1" cy="524.3" r="1.2" fill="#e6b8b0"/><circle cx="536.4" cy="299.6" r="1.0" fill="#c07a70"/><circle cx="537.3" cy="334.8" r="1.0" fill="#d89890"/><circle cx="537.6" cy="388.0" r="1.2" fill="#f4d4cc"/><circle cx="536.2" cy="264.4" r="0.8" fill="#e6b8b0"/><circle cx="542.2" cy="361.3" r="0.6" fill="#c07a70"/><circle cx="542.0" cy="342.2" r="0.9" fill="#e6b8b0"/><circle cx="538.9" cy="514.4" r="1.1" fill="#5a2a24"/><circle cx="535.6" cy="383.6" r="1.1" fill="#f4d4cc"/><circle cx="549.7" cy="417.8" r="0.6" fill="#f4d4cc"/><circle cx="549.7" cy="238.5" r="1.0" fill="#f4d4cc"/><circle cx="534.6" cy="440.4" r="0.8" fill="#c07a70"/><circle cx="539.5" cy="246.0" r="1.0" fill="#f4d4cc"/><circle cx="540.5" cy="534.5" r="0.6" fill="#d89890"/><circle cx="532.8" cy="313.5" r="0.6" fill="#f4d4cc"/><circle cx="542.3" cy="505.0" r="1.2" fill="#e6b8b0"/><circle cx="542.3" cy="274.4" r="0.8" fill="#d89890"/><circle cx="536.3" cy="466.7" r="0.8" fill="#c07a70"/><circle cx="538.8" cy="352.2" r="1.2" fill="#d89890"/><circle cx="532.4" cy="381.3" r="0.8" fill="#f4d4cc"/><circle cx="542.9" cy="521.7" r="0.6" fill="#c07a70"/><circle cx="547.5" cy="461.8" r="0.9" fill="#e6b8b0"/><circle cx="538.7" cy="274.7" r="0.6" fill="#5a2a24"/><circle cx="546.5" cy="327.0" r="1.0" fill="#c07a70"/><circle cx="534.1" cy="396.7" r="0.7" fill="#c07a70"/><circle cx="548.1" cy="372.4" r="0.7" fill="#d89890"/><circle cx="538.0" cy="398.1" r="0.5" fill="#c07a70"/><circle cx="535.6" cy="291.7" r="0.7" fill="#5a2a24"/><circle cx="540.5" cy="532.0" r="1.2" fill="#e6b8b0"/><circle cx="542.6" cy="491.9" r="0.5" fill="#f4d4cc"/><circle cx="532.3" cy="516.2" r="0.8" fill="#5a2a24"/><circle cx="545.2" cy="307.0" r="1.1" fill="#c07a70"/><circle cx="550.5" cy="312.4" r="0.5" fill="#f4d4cc"/><circle cx="541.2" cy="292.7" r="1.1" fill="#f4d4cc"/><circle cx="534.9" cy="508.1" r="1.0" fill="#5a2a24"/><circle cx="537.4" cy="379.9" r="0.8" fill="#e6b8b0"/><circle cx="540.7" cy="445.6" r="0.9" fill="#e6b8b0"/><circle cx="542.0" cy="410.4" r="1.1" fill="#e6b8b0"/><circle cx="540.1" cy="270.4" r="1.0" fill="#f4d4cc"/><circle cx="534.9" cy="387.8" r="1.1" fill="#f4d4cc"/><circle cx="542.1" cy="518.5" r="0.7" fill="#e6b8b0"/><circle cx="536.8" cy="371.4" r="1.0" fill="#5a2a24"/><circle cx="534.0" cy="493.5" r="0.9" fill="#f4d4cc"/><circle cx="551.8" cy="295.1" r="0.5" fill="#d89890"/><circle cx="536.6" cy="299.3" r="0.5" fill="#f4d4cc"/><circle cx="532.7" cy="515.3" r="0.8" fill="#f4d4cc"/><circle cx="547.2" cy="322.1" r="1.0" fill="#f4d4cc"/><circle cx="534.9" cy="440.6" r="0.8" fill="#c07a70"/><circle cx="535.4" cy="335.4" r="1.1" fill="#d89890"/><circle cx="551.6" cy="264.9" r="0.6" fill="#e6b8b0"/><circle cx="534.3" cy="461.3" r="0.7" fill="#5a2a24"/><circle cx="547.6" cy="389.0" r="0.9" fill="#e6b8b0"/><circle cx="545.1" cy="411.7" r="0.8" fill="#c07a70"/><circle cx="543.5" cy="268.2" r="0.8" fill="#c07a70"/><circle cx="533.3" cy="302.9" r="0.9" fill="#5a2a24"/><circle cx="539.8" cy="361.2" r="0.8" fill="#5a2a24"/><circle cx="533.8" cy="233.3" r="1.0" fill="#c07a70"/><circle cx="541.9" cy="282.6" r="0.6" fill="#e6b8b0"/><circle cx="536.8" cy="232.8" r="1.1" fill="#d89890"/><circle cx="549.4" cy="438.2" r="1.1" fill="#f4d4cc"/><circle cx="548.7" cy="303.2" r="0.7" fill="#c07a70"/><circle cx="540.9" cy="264.4" r="0.6" fill="#d89890"/><circle cx="534.3" cy="413.2" r="1.2" fill="#c07a70"/><circle cx="550.3" cy="530.1" r="0.8" fill="#f4d4cc"/><circle cx="533.4" cy="480.4" r="1.0" fill="#c07a70"/><circle cx="547.8" cy="520.2" r="1.0" fill="#f4d4cc"/><circle cx="534.0" cy="411.6" r="0.8" fill="#f4d4cc"/><circle cx="542.1" cy="452.0" r="1.2" fill="#5a2a24"/><circle cx="536.6" cy="334.9" r="0.9" fill="#d89890"/><circle cx="533.8" cy="418.9" r="1.1" fill="#5a2a24"/><circle cx="538.6" cy="522.7" r="1.2" fill="#d89890"/><circle cx="549.4" cy="233.9" r="0.7" fill="#5a2a24"/><circle cx="535.5" cy="384.1" r="1.1" fill="#c07a70"/><circle cx="534.5" cy="402.9" r="0.6" fill="#d89890"/><circle cx="542.7" cy="274.4" r="1.2" fill="#d89890"/><circle cx="537.1" cy="410.8" r="0.7" fill="#f4d4cc"/><circle cx="537.9" cy="446.8" r="0.6" fill="#5a2a24"/><circle cx="535.3" cy="288.0" r="0.6" fill="#f4d4cc"/><circle cx="546.5" cy="282.1" r="1.1" fill="#d89890"/><circle cx="540.1" cy="376.2" r="0.8" fill="#d89890"/><circle cx="550.1" cy="360.8" r="1.1" fill="#d89890"/><circle cx="535.5" cy="513.9" r="0.7" fill="#f4d4cc"/><circle cx="539.6" cy="312.7" r="0.6" fill="#d89890"/><circle cx="552.0" cy="483.5" r="0.9" fill="#5a2a24"/><circle cx="536.1" cy="283.2" r="0.7" fill="#5a2a24"/><circle cx="537.3" cy="438.2" r="1.0" fill="#f4d4cc"/><circle cx="533.4" cy="309.1" r="0.6" fill="#d89890"/><circle cx="543.0" cy="330.0" r="0.7" fill="#d89890"/><circle cx="548.5" cy="473.6" r="1.0" fill="#e6b8b0"/><circle cx="546.0" cy="504.1" r="1.0" fill="#e6b8b0"/><circle cx="543.5" cy="235.1" r="0.9" fill="#5a2a24"/><circle cx="533.6" cy="424.3" r="1.1" fill="#f4d4cc"/><circle cx="536.8" cy="534.3" r="1.0" fill="#d89890"/><circle cx="541.1" cy="492.8" r="0.7" fill="#e6b8b0"/><circle cx="540.0" cy="471.3" r="1.0" fill="#5a2a24"/><circle cx="537.9" cy="259.4" r="0.6" fill="#5a2a24"/><circle cx="544.9" cy="440.7" r="0.7" fill="#d89890"/><circle cx="544.2" cy="301.0" r="1.0" fill="#e6b8b0"/><circle cx="544.2" cy="337.2" r="0.6" fill="#c07a70"/><circle cx="538.8" cy="312.0" r="0.9" fill="#5a2a24"/><circle cx="542.2" cy="284.0" r="1.1" fill="#e6b8b0"/><circle cx="543.1" cy="237.6" r="0.8" fill="#5a2a24"/><circle cx="541.5" cy="400.7" r="1.0" fill="#5a2a24"/><circle cx="541.4" cy="241.1" r="1.1" fill="#e6b8b0"/><circle cx="545.0" cy="489.0" r="0.5" fill="#e6b8b0"/><circle cx="547.6" cy="268.2" r="0.7" fill="#e6b8b0"/><circle cx="542.1" cy="277.3" r="1.1" fill="#f4d4cc"/><circle cx="542.9" cy="320.1" r="0.6" fill="#c07a70"/><circle cx="535.3" cy="353.6" r="0.6" fill="#c07a70"/><circle cx="534.7" cy="329.1" r="0.7" fill="#d89890"/><circle cx="548.0" cy="255.4" r="0.7" fill="#c07a70"/><circle cx="549.3" cy="515.3" r="1.0" fill="#5a2a24"/><circle cx="543.1" cy="423.8" r="1.1" fill="#5a2a24"/><circle cx="537.1" cy="258.4" r="1.1" fill="#d89890"/><circle cx="549.3" cy="233.9" r="0.6" fill="#f4d4cc"/><circle cx="546.1" cy="476.2" r="1.1" fill="#d89890"/><circle cx="538.3" cy="273.4" r="1.0" fill="#e6b8b0"/><circle cx="539.4" cy="335.1" r="0.6" fill="#c07a70"/><circle cx="541.2" cy="481.4" r="0.7" fill="#d89890"/><circle cx="546.2" cy="259.6" r="0.7" fill="#e6b8b0"/><circle cx="539.1" cy="444.3" r="0.8" fill="#d89890"/><circle cx="547.2" cy="401.2" r="0.8" fill="#d89890"/><circle cx="534.8" cy="249.9" r="1.1" fill="#e6b8b0"/><circle cx="545.9" cy="432.9" r="0.8" fill="#e6b8b0"/><circle cx="548.2" cy="393.0" r="0.9" fill="#5a2a24"/><circle cx="535.6" cy="513.0" r="0.9" fill="#f4d4cc"/><circle cx="550.4" cy="260.1" r="0.6" fill="#c07a70"/><circle cx="544.8" cy="479.7" r="1.0" fill="#f4d4cc"/><circle cx="533.0" cy="231.3" r="0.7" fill="#f4d4cc"/><circle cx="539.5" cy="502.6" r="0.6" fill="#5a2a24"/><circle cx="549.2" cy="464.8" r="0.9" fill="#c07a70"/><circle cx="548.2" cy="229.5" r="1.1" fill="#f4d4cc"/><circle cx="545.6" cy="322.9" r="1.0" fill="#c07a70"/><circle cx="550.5" cy="238.9" r="0.8" fill="#f4d4cc"/><circle cx="545.7" cy="368.6" r="0.9" fill="#5a2a24"/><circle cx="538.6" cy="431.1" r="1.0" fill="#c07a70"/><circle cx="543.0" cy="399.7" r="0.5" fill="#c07a70"/><circle cx="546.3" cy="484.9" r="0.8" fill="#e6b8b0"/><circle cx="545.0" cy="242.1" r="0.6" fill="#e6b8b0"/><circle cx="533.8" cy="352.9" r="0.7" fill="#c07a70"/><circle cx="545.0" cy="366.8" r="0.9" fill="#5a2a24"/><circle cx="550.6" cy="409.0" r="0.9" fill="#5a2a24"/><circle cx="538.9" cy="532.4" r="1.2" fill="#f4d4cc"/><circle cx="548.5" cy="251.5" r="0.6" fill="#d89890"/><circle cx="546.2" cy="397.2" r="1.1" fill="#f4d4cc"/><circle cx="551.2" cy="297.1" r="0.7" fill="#e6b8b0"/><circle cx="540.0" cy="317.4" r="0.5" fill="#c07a70"/><circle cx="538.0" cy="438.2" r="0.9" fill="#5a2a24"/><circle cx="546.6" cy="465.3" r="0.9" fill="#f4d4cc"/><circle cx="541.4" cy="372.7" r="0.7" fill="#e6b8b0"/><circle cx="534.0" cy="523.6" r="0.7" fill="#5a2a24"/><circle cx="549.6" cy="494.3" r="1.1" fill="#c07a70"/><circle cx="549.4" cy="300.1" r="0.8" fill="#5a2a24"/><circle cx="551.7" cy="262.7" r="0.5" fill="#d89890"/><circle cx="550.3" cy="348.9" r="1.0" fill="#d89890"/><circle cx="538.6" cy="451.9" r="1.1" fill="#f4d4cc"/><circle cx="535.5" cy="529.3" r="0.9" fill="#e6b8b0"/><circle cx="541.2" cy="534.7" r="0.7" fill="#f4d4cc"/><circle cx="550.7" cy="260.4" r="0.8" fill="#c07a70"/><circle cx="542.7" cy="526.6" r="0.7" fill="#e6b8b0"/><circle cx="533.5" cy="394.4" r="1.0" fill="#d89890"/><circle cx="533.5" cy="401.4" r="1.0" fill="#c07a70"/><circle cx="549.5" cy="308.1" r="1.1" fill="#e6b8b0"/><circle cx="538.9" cy="235.7" r="0.7" fill="#e6b8b0"/><circle cx="539.3" cy="409.5" r="0.7" fill="#5a2a24"/><circle cx="545.1" cy="257.7" r="1.1" fill="#e6b8b0"/><circle cx="542.6" cy="307.5" r="0.6" fill="#e6b8b0"/><circle cx="546.8" cy="472.5" r="1.1" fill="#c07a70"/><circle cx="547.9" cy="530.6" r="1.1" fill="#5a2a24"/><circle cx="548.2" cy="519.9" r="0.7" fill="#c07a70"/><circle cx="545.4" cy="491.0" r="0.8" fill="#5a2a24"/><circle cx="543.5" cy="483.5" r="0.6" fill="#e6b8b0"/><circle cx="542.9" cy="495.4" r="0.5" fill="#c07a70"/><circle cx="538.9" cy="355.4" r="1.1" fill="#d89890"/><circle cx="540.6" cy="228.9" r="0.6" fill="#5a2a24"/><circle cx="534.6" cy="307.7" r="1.1" fill="#f4d4cc"/><circle cx="546.3" cy="535.2" r="0.5" fill="#d89890"/><circle cx="538.4" cy="246.8" r="0.7" fill="#f4d4cc"/><circle cx="543.8" cy="534.0" r="0.6" fill="#e6b8b0"/><circle cx="544.8" cy="299.6" r="0.7" fill="#e6b8b0"/><circle cx="540.8" cy="535.7" r="0.7" fill="#d89890"/><circle cx="551.9" cy="519.6" r="1.1" fill="#c07a70"/><circle cx="546.0" cy="329.1" r="1.1" fill="#f4d4cc"/><circle cx="542.7" cy="440.0" r="0.6" fill="#5a2a24"/><circle cx="550.4" cy="260.8" r="1.0" fill="#d89890"/><circle cx="549.1" cy="254.2" r="1.0" fill="#c07a70"/><circle cx="541.5" cy="375.4" r="1.0" fill="#5a2a24"/><circle cx="549.3" cy="382.8" r="1.2" fill="#d89890"/><circle cx="543.0" cy="507.7" r="1.2" fill="#5a2a24"/><circle cx="535.2" cy="344.2" r="0.9" fill="#f4d4cc"/><circle cx="537.0" cy="443.4" r="1.2" fill="#c07a70"/><circle cx="542.1" cy="382.3" r="0.9" fill="#f4d4cc"/><circle cx="536.1" cy="335.8" r="1.2" fill="#e6b8b0"/><circle cx="533.4" cy="264.8" r="0.6" fill="#c07a70"/><circle cx="544.6" cy="518.1" r="1.0" fill="#e6b8b0"/><circle cx="540.1" cy="408.9" r="0.9" fill="#f4d4cc"/><circle cx="532.5" cy="392.1" r="0.9" fill="#f4d4cc"/><circle cx="547.1" cy="335.4" r="0.7" fill="#f4d4cc"/><circle cx="539.2" cy="421.4" r="0.9" fill="#d89890"/><circle cx="536.0" cy="509.6" r="1.2" fill="#d89890"/><circle cx="546.9" cy="491.8" r="0.5" fill="#d89890"/><circle cx="532.3" cy="448.7" r="1.2" fill="#e6b8b0"/><circle cx="547.6" cy="349.9" r="0.9" fill="#c07a70"/><circle cx="546.9" cy="339.1" r="1.1" fill="#e6b8b0"/><circle cx="550.4" cy="457.6" r="1.0" fill="#f4d4cc"/><circle cx="543.8" cy="277.2" r="1.1" fill="#c07a70"/><circle cx="538.3" cy="311.3" r="1.1" fill="#5a2a24"/><circle cx="541.4" cy="317.7" r="1.1" fill="#e6b8b0"/><circle cx="533.4" cy="533.2" r="1.1" fill="#e6b8b0"/><circle cx="542.5" cy="495.3" r="1.1" fill="#c07a70"/><circle cx="548.2" cy="474.3" r="1.1" fill="#e6b8b0"/><circle cx="537.4" cy="349.5" r="1.1" fill="#5a2a24"/><circle cx="548.6" cy="389.0" r="0.7" fill="#f4d4cc"/><circle cx="534.4" cy="329.4" r="0.5" fill="#5a2a24"/><circle cx="540.3" cy="468.6" r="1.1" fill="#5a2a24"/><circle cx="535.3" cy="393.2" r="0.9" fill="#e6b8b0"/><circle cx="533.6" cy="462.2" r="0.7" fill="#d89890"/><circle cx="552.0" cy="350.1" r="1.1" fill="#d89890"/><circle cx="540.7" cy="268.0" r="1.2" fill="#c07a70"/><circle cx="536.0" cy="322.9" r="0.5" fill="#f4d4cc"/><circle cx="538.7" cy="357.0" r="1.0" fill="#f4d4cc"/><circle cx="538.2" cy="492.7" r="1.0" fill="#5a2a24"/><circle cx="536.6" cy="518.8" r="0.8" fill="#e6b8b0"/><circle cx="533.9" cy="325.1" r="0.6" fill="#e6b8b0"/><circle cx="549.3" cy="255.3" r="1.0" fill="#e6b8b0"/><circle cx="536.1" cy="453.3" r="1.1" fill="#5a2a24"/><circle cx="542.6" cy="421.7" r="0.8" fill="#f4d4cc"/><circle cx="537.4" cy="274.4" r="1.1" fill="#c07a70"/><circle cx="550.7" cy="281.7" r="0.7" fill="#5a2a24"/><circle cx="541.3" cy="495.1" r="0.7" fill="#f4d4cc"/><circle cx="541.6" cy="511.8" r="0.9" fill="#5a2a24"/><circle cx="543.7" cy="473.0" r="0.8" fill="#e6b8b0"/><circle cx="546.7" cy="397.2" r="1.0" fill="#e6b8b0"/><circle cx="534.2" cy="297.4" r="1.0" fill="#f4d4cc"/><circle cx="548.9" cy="278.2" r="0.6" fill="#5a2a24"/><circle cx="537.2" cy="347.2" r="0.6" fill="#e6b8b0"/><circle cx="548.3" cy="441.9" r="1.1" fill="#f4d4cc"/><circle cx="540.3" cy="340.3" r="0.7" fill="#e6b8b0"/><circle cx="542.1" cy="324.3" r="0.9" fill="#e6b8b0"/><circle cx="545.0" cy="253.0" r="0.8" fill="#f4d4cc"/><circle cx="548.7" cy="379.1" r="0.6" fill="#5a2a24"/><circle cx="541.1" cy="536.4" r="0.5" fill="#f4d4cc"/><circle cx="544.4" cy="438.1" r="0.9" fill="#5a2a24"/><circle cx="548.2" cy="393.5" r="1.0" fill="#f4d4cc"/><circle cx="548.8" cy="497.8" r="1.1" fill="#e6b8b0"/><circle cx="549.7" cy="264.0" r="0.8" fill="#e6b8b0"/><circle cx="536.0" cy="496.3" r="1.1" fill="#c07a70"/><circle cx="537.6" cy="289.6" r="0.8" fill="#e6b8b0"/><circle cx="545.5" cy="300.9" r="0.8" fill="#e6b8b0"/><circle cx="540.5" cy="393.4" r="0.6" fill="#d89890"/><circle cx="535.0" cy="434.5" r="0.6" fill="#f4d4cc"/><circle cx="541.9" cy="525.3" r="0.6" fill="#f4d4cc"/><circle cx="534.9" cy="252.0" r="0.7" fill="#d89890"/><circle cx="545.1" cy="255.4" r="0.7" fill="#5a2a24"/><circle cx="550.6" cy="233.6" r="1.0" fill="#5a2a24"/><circle cx="543.3" cy="415.6" r="0.6" fill="#d89890"/><circle cx="536.8" cy="411.8" r="0.9" fill="#d89890"/><circle cx="539.5" cy="455.9" r="0.9" fill="#5a2a24"/><circle cx="542.8" cy="490.0" r="1.2" fill="#5a2a24"/><circle cx="550.2" cy="477.9" r="1.1" fill="#e6b8b0"/><circle cx="551.4" cy="465.1" r="0.7" fill="#5a2a24"/><circle cx="540.0" cy="511.4" r="0.8" fill="#c07a70"/><circle cx="536.4" cy="449.4" r="0.8" fill="#c07a70"/><circle cx="540.3" cy="311.7" r="0.7" fill="#c07a70"/><circle cx="548.0" cy="310.3" r="1.0" fill="#c07a70"/><circle cx="545.9" cy="241.4" r="0.8" fill="#5a2a24"/><circle cx="532.5" cy="374.7" r="0.9" fill="#d89890"/><circle cx="538.0" cy="380.7" r="0.6" fill="#f4d4cc"/><circle cx="540.8" cy="530.7" r="0.8" fill="#d89890"/><circle cx="542.6" cy="349.2" r="0.6" fill="#e6b8b0"/><circle cx="544.5" cy="254.8" r="0.8" fill="#f4d4cc"/><circle cx="539.0" cy="327.7" r="1.0" fill="#c07a70"/><circle cx="544.1" cy="484.0" r="0.6" fill="#f4d4cc"/><circle cx="550.1" cy="298.2" r="0.7" fill="#f4d4cc"/><circle cx="551.3" cy="365.0" r="0.9" fill="#e6b8b0"/><circle cx="544.8" cy="413.5" r="1.1" fill="#d89890"/><circle cx="545.8" cy="452.8" r="0.6" fill="#5a2a24"/><circle cx="543.3" cy="508.8" r="0.7" fill="#c07a70"/><circle cx="544.9" cy="316.5" r="1.1" fill="#d89890"/><circle cx="536.0" cy="389.1" r="0.7" fill="#c07a70"/><circle cx="537.4" cy="379.9" r="1.2" fill="#e6b8b0"/><circle cx="550.9" cy="374.4" r="1.1" fill="#c07a70"/><circle cx="542.1" cy="443.3" r="0.7" fill="#e6b8b0"/><circle cx="534.3" cy="505.6" r="0.7" fill="#f4d4cc"/><circle cx="541.4" cy="506.1" r="0.8" fill="#d89890"/><circle cx="549.0" cy="512.6" r="0.6" fill="#f4d4cc"/><circle cx="546.0" cy="290.8" r="0.8" fill="#5a2a24"/><circle cx="535.0" cy="377.9" r="0.8" fill="#e6b8b0"/><circle cx="540.0" cy="453.5" r="1.0" fill="#f4d4cc"/><circle cx="542.2" cy="418.2" r="1.1" fill="#d89890"/><circle cx="543.9" cy="243.7" r="1.1" fill="#f4d4cc"/><circle cx="550.2" cy="429.1" r="0.9" fill="#5a2a24"/><circle cx="551.1" cy="269.7" r="0.5" fill="#f4d4cc"/><circle cx="546.4" cy="395.7" r="0.7" fill="#e6b8b0"/><circle cx="550.4" cy="535.3" r="0.5" fill="#c07a70"/><circle cx="537.1" cy="276.7" r="1.0" fill="#e6b8b0"/><circle cx="534.8" cy="385.9" r="1.2" fill="#c07a70"/><circle cx="535.3" cy="326.0" r="0.7" fill="#c07a70"/><circle cx="547.7" cy="286.0" r="0.7" fill="#c07a70"/><circle cx="532.2" cy="418.6" r="0.6" fill="#e6b8b0"/><circle cx="540.5" cy="516.7" r="0.7" fill="#e6b8b0"/><circle cx="536.6" cy="242.9" r="0.6" fill="#e6b8b0"/><circle cx="547.4" cy="529.0" r="0.9" fill="#e6b8b0"/><circle cx="546.3" cy="238.7" r="0.9" fill="#5a2a24"/><circle cx="542.2" cy="375.8" r="1.0" fill="#d89890"/><circle cx="533.9" cy="330.2" r="0.6" fill="#c07a70"/><circle cx="534.1" cy="244.3" r="0.7" fill="#5a2a24"/><circle cx="551.4" cy="530.3" r="1.1" fill="#e6b8b0"/><circle cx="544.5" cy="478.5" r="1.1" fill="#f4d4cc"/><circle cx="544.0" cy="264.9" r="0.7" fill="#f4d4cc"/><circle cx="532.1" cy="269.8" r="1.0" fill="#e6b8b0"/><circle cx="551.2" cy="252.1" r="0.6" fill="#5a2a24"/><circle cx="537.3" cy="498.4" r="0.6" fill="#d89890"/><circle cx="549.9" cy="403.4" r="0.9" fill="#e6b8b0"/><circle cx="535.6" cy="289.0" r="0.8" fill="#5a2a24"/><circle cx="542.3" cy="263.5" r="0.7" fill="#e6b8b0"/><circle cx="533.6" cy="261.3" r="0.7" fill="#c07a70"/><circle cx="542.9" cy="339.3" r="1.2" fill="#5a2a24"/><circle cx="550.2" cy="249.8" r="0.8" fill="#e6b8b0"/><circle cx="539.4" cy="363.6" r="0.9" fill="#5a2a24"/><circle cx="544.8" cy="284.5" r="0.9" fill="#d89890"/><circle cx="543.7" cy="231.9" r="0.6" fill="#5a2a24"/><circle cx="537.2" cy="394.5" r="0.8" fill="#c07a70"/><circle cx="550.2" cy="256.9" r="0.6" fill="#f4d4cc"/><circle cx="542.2" cy="394.2" r="0.7" fill="#c07a70"/><circle cx="536.8" cy="330.8" r="0.6" fill="#d89890"/><circle cx="550.0" cy="520.7" r="0.7" fill="#e6b8b0"/><circle cx="543.7" cy="422.2" r="0.5" fill="#d89890"/><circle cx="538.7" cy="365.7" r="1.0" fill="#f4d4cc"/><circle cx="539.6" cy="299.6" r="0.6" fill="#c07a70"/><circle cx="543.7" cy="260.2" r="0.7" fill="#d89890"/><circle cx="549.2" cy="322.4" r="1.0" fill="#c07a70"/><circle cx="550.5" cy="401.0" r="1.1" fill="#c07a70"/><circle cx="532.4" cy="337.8" r="0.5" fill="#e6b8b0"/><circle cx="550.7" cy="380.2" r="0.5" fill="#d89890"/><circle cx="551.2" cy="254.9" r="0.5" fill="#5a2a24"/><circle cx="541.5" cy="517.3" r="1.0" fill="#e6b8b0"/><circle cx="539.8" cy="344.5" r="0.8" fill="#e6b8b0"/><circle cx="545.0" cy="384.1" r="0.5" fill="#c07a70"/><circle cx="542.4" cy="233.6" r="0.6" fill="#d89890"/><circle cx="534.5" cy="510.3" r="0.9" fill="#f4d4cc"/><circle cx="535.9" cy="490.0" r="1.2" fill="#e6b8b0"/><circle cx="537.4" cy="527.6" r="0.8" fill="#f4d4cc"/><circle cx="535.6" cy="409.1" r="0.8" fill="#e6b8b0"/><circle cx="533.3" cy="401.9" r="1.2" fill="#5a2a24"/><circle cx="540.8" cy="521.4" r="0.9" fill="#d89890"/><circle cx="535.6" cy="331.6" r="0.6" fill="#c07a70"/><circle cx="546.2" cy="507.6" r="1.1" fill="#f4d4cc"/><circle cx="550.1" cy="467.6" r="0.6" fill="#5a2a24"/><circle cx="542.9" cy="520.1" r="0.8" fill="#e6b8b0"/><circle cx="538.4" cy="510.8" r="1.1" fill="#5a2a24"/><circle cx="546.6" cy="272.6" r="0.9" fill="#d89890"/><circle cx="545.2" cy="449.5" r="0.8" fill="#d89890"/><circle cx="550.4" cy="323.8" r="0.9" fill="#f4d4cc"/><circle cx="535.2" cy="379.0" r="1.0" fill="#e6b8b0"/><circle cx="547.3" cy="377.3" r="0.5" fill="#d89890"/><circle cx="534.1" cy="257.6" r="0.6" fill="#d89890"/><circle cx="533.0" cy="447.5" r="0.9" fill="#c07a70"/><circle cx="548.0" cy="292.9" r="0.9" fill="#e6b8b0"/><circle cx="545.9" cy="268.2" r="0.7" fill="#e6b8b0"/><circle cx="543.4" cy="387.5" r="1.0" fill="#c07a70"/><circle cx="534.6" cy="523.8" r="1.0" fill="#d89890"/><circle cx="539.7" cy="308.0" r="0.9" fill="#e6b8b0"/><circle cx="545.1" cy="277.4" r="1.1" fill="#d89890"/><circle cx="540.8" cy="263.5" r="0.6" fill="#d89890"/><circle cx="537.9" cy="481.5" r="1.1" fill="#f4d4cc"/><circle cx="537.1" cy="356.1" r="0.8" fill="#e6b8b0"/><circle cx="547.3" cy="406.3" r="0.7" fill="#c07a70"/><circle cx="542.9" cy="502.5" r="0.5" fill="#d89890"/><circle cx="533.4" cy="273.6" r="0.5" fill="#d89890"/><circle cx="548.8" cy="478.5" r="0.5" fill="#e6b8b0"/><circle cx="550.7" cy="509.4" r="1.2" fill="#d89890"/><circle cx="544.1" cy="291.3" r="0.6" fill="#d89890"/><circle cx="533.5" cy="384.5" r="1.2" fill="#f4d4cc"/><circle cx="539.3" cy="314.2" r="1.2" fill="#e6b8b0"/><circle cx="546.4" cy="415.5" r="0.7" fill="#f4d4cc"/><circle cx="539.8" cy="360.7" r="0.9" fill="#5a2a24"/><circle cx="547.7" cy="341.8" r="0.9" fill="#f4d4cc"/><circle cx="532.2" cy="470.9" r="1.0" fill="#5a2a24"/><circle cx="533.5" cy="251.7" r="1.1" fill="#d89890"/><circle cx="542.0" cy="539.1" r="0.5" fill="#5a2a24"/><circle cx="544.7" cy="247.2" r="0.9" fill="#5a2a24"/><circle cx="535.1" cy="465.0" r="1.2" fill="#f4d4cc"/><circle cx="550.9" cy="451.6" r="0.9" fill="#5a2a24"/><circle cx="535.6" cy="333.6" r="0.7" fill="#f4d4cc"/><circle cx="537.8" cy="538.1" r="0.5" fill="#e6b8b0"/><circle cx="541.3" cy="455.3" r="0.9" fill="#f4d4cc"/><circle cx="539.2" cy="349.1" r="1.1" fill="#5a2a24"/><circle cx="536.2" cy="505.0" r="0.9" fill="#5a2a24"/><circle cx="537.5" cy="391.9" r="0.8" fill="#f4d4cc"/><circle cx="536.1" cy="393.2" r="0.6" fill="#c07a70"/><circle cx="540.6" cy="246.4" r="1.2" fill="#f4d4cc"/><circle cx="549.1" cy="447.8" r="1.2" fill="#5a2a24"/><circle cx="534.9" cy="309.2" r="0.8" fill="#c07a70"/><circle cx="540.7" cy="358.5" r="0.8" fill="#5a2a24"/><circle cx="549.1" cy="247.1" r="0.9" fill="#f4d4cc"/><circle cx="547.6" cy="516.0" r="0.6" fill="#d89890"/><circle cx="532.8" cy="439.1" r="0.8" fill="#d89890"/><circle cx="550.4" cy="295.0" r="0.9" fill="#e6b8b0"/><circle cx="537.6" cy="436.9" r="0.8" fill="#d89890"/><circle cx="537.8" cy="370.5" r="0.9" fill="#5a2a24"/><circle cx="545.0" cy="361.9" r="0.6" fill="#e6b8b0"/><circle cx="541.6" cy="337.0" r="0.9" fill="#d89890"/><circle cx="536.7" cy="490.6" r="1.1" fill="#f4d4cc"/><circle cx="541.3" cy="446.6" r="1.0" fill="#d89890"/><circle cx="533.7" cy="250.8" r="0.8" fill="#5a2a24"/><circle cx="547.3" cy="397.7" r="1.0" fill="#d89890"/><circle cx="541.5" cy="519.1" r="0.6" fill="#e6b8b0"/><circle cx="533.8" cy="469.5" r="1.1" fill="#d89890"/><circle cx="538.2" cy="537.8" r="1.2" fill="#e6b8b0"/><circle cx="536.2" cy="268.1" r="1.0" fill="#5a2a24"/><circle cx="536.8" cy="344.9" r="1.2" fill="#c07a70"/><circle cx="550.9" cy="489.5" r="0.5" fill="#f4d4cc"/><circle cx="535.8" cy="344.9" r="0.7" fill="#d89890"/><circle cx="544.4" cy="364.1" r="0.8" fill="#f4d4cc"/><circle cx="545.4" cy="381.9" r="0.6" fill="#d89890"/><circle cx="549.4" cy="407.3" r="1.1" fill="#d89890"/><circle cx="548.5" cy="431.3" r="0.5" fill="#e6b8b0"/><circle cx="536.2" cy="430.1" r="0.9" fill="#d89890"/><circle cx="533.1" cy="276.7" r="1.2" fill="#f4d4cc"/><circle cx="539.5" cy="387.9" r="0.6" fill="#e6b8b0"/><circle cx="536.6" cy="425.8" r="0.5" fill="#e6b8b0"/><circle cx="551.6" cy="397.3" r="0.8" fill="#5a2a24"/><circle cx="541.5" cy="521.4" r="0.8" fill="#5a2a24"/><circle cx="532.7" cy="443.9" r="0.9" fill="#c07a70"/><circle cx="549.7" cy="408.8" r="0.7" fill="#d89890"/><circle cx="550.8" cy="469.1" r="1.0" fill="#c07a70"/><circle cx="550.6" cy="244.8" r="1.0" fill="#5a2a24"/><circle cx="532.7" cy="457.4" r="0.6" fill="#5a2a24"/><circle cx="542.1" cy="349.3" r="1.1" fill="#f4d4cc"/><circle cx="545.1" cy="419.2" r="1.2" fill="#c07a70"/><circle cx="542.4" cy="232.1" r="1.2" fill="#c07a70"/><circle cx="549.4" cy="534.4" r="0.6" fill="#c07a70"/><circle cx="533.7" cy="266.1" r="1.1" fill="#5a2a24"/><circle cx="543.6" cy="296.3" r="1.0" fill="#f4d4cc"/><circle cx="539.8" cy="378.3" r="0.6" fill="#c07a70"/><circle cx="551.0" cy="320.2" r="1.0" fill="#c07a70"/><circle cx="539.4" cy="384.1" r="0.9" fill="#5a2a24"/><circle cx="544.0" cy="309.6" r="1.1" fill="#e6b8b0"/><circle cx="551.0" cy="333.5" r="1.1" fill="#c07a70"/><circle cx="548.8" cy="478.3" r="0.8" fill="#c07a70"/><circle cx="537.8" cy="362.9" r="1.1" fill="#5a2a24"/><circle cx="549.5" cy="237.9" r="0.5" fill="#c07a70"/><circle cx="544.1" cy="393.4" r="0.6" fill="#e6b8b0"/><circle cx="549.6" cy="298.2" r="0.6" fill="#c07a70"/><circle cx="547.8" cy="236.0" r="0.8" fill="#5a2a24"/><circle cx="534.2" cy="358.1" r="0.6" fill="#f4d4cc"/><circle cx="545.8" cy="262.8" r="1.0" fill="#e6b8b0"/><circle cx="542.9" cy="338.3" r="0.6" fill="#e6b8b0"/><circle cx="542.5" cy="463.3" r="1.0" fill="#5a2a24"/><circle cx="535.7" cy="461.8" r="1.1" fill="#c07a70"/><circle cx="534.9" cy="374.4" r="0.6" fill="#5a2a24"/><circle cx="542.3" cy="454.7" r="0.8" fill="#d89890"/><circle cx="548.6" cy="383.3" r="0.5" fill="#c07a70"/><circle cx="536.5" cy="378.7" r="1.0" fill="#d89890"/><circle cx="549.2" cy="461.7" r="1.0" fill="#f4d4cc"/><circle cx="551.2" cy="317.9" r="0.9" fill="#f4d4cc"/><circle cx="536.1" cy="247.9" r="0.6" fill="#f4d4cc"/><circle cx="550.5" cy="256.2" r="0.6" fill="#d89890"/><circle cx="550.4" cy="329.1" r="1.0" fill="#f4d4cc"/><circle cx="550.1" cy="366.7" r="0.7" fill="#5a2a24"/><circle cx="534.2" cy="434.2" r="0.5" fill="#5a2a24"/><circle cx="533.8" cy="399.1" r="0.7" fill="#5a2a24"/><circle cx="535.6" cy="470.6" r="0.9" fill="#c07a70"/><circle cx="535.7" cy="447.6" r="1.1" fill="#e6b8b0"/><circle cx="542.6" cy="239.8" r="1.2" fill="#5a2a24"/><circle cx="543.2" cy="460.2" r="1.0" fill="#d89890"/><circle cx="533.4" cy="479.8" r="0.7" fill="#e6b8b0"/><circle cx="542.6" cy="436.1" r="0.6" fill="#f4d4cc"/><circle cx="532.2" cy="455.5" r="1.0" fill="#d89890"/><circle cx="550.3" cy="402.8" r="1.1" fill="#f4d4cc"/><circle cx="536.0" cy="238.9" r="1.0" fill="#f4d4cc"/><circle cx="535.9" cy="310.3" r="1.0" fill="#f4d4cc"/><circle cx="539.2" cy="254.3" r="0.8" fill="#d89890"/><circle cx="540.9" cy="262.8" r="1.0" fill="#5a2a24"/><circle cx="548.9" cy="281.4" r="1.1" fill="#f4d4cc"/><circle cx="543.3" cy="392.4" r="0.6" fill="#d89890"/><circle cx="534.5" cy="452.9" r="0.7" fill="#e6b8b0"/><circle cx="538.5" cy="467.5" r="0.9" fill="#d89890"/><circle cx="533.7" cy="492.3" r="0.9" fill="#f4d4cc"/><circle cx="550.5" cy="521.5" r="0.9" fill="#5a2a24"/><circle cx="537.2" cy="298.2" r="1.1" fill="#e6b8b0"/><circle cx="535.0" cy="482.3" r="0.7" fill="#e6b8b0"/><circle cx="538.6" cy="376.8" r="0.8" fill="#e6b8b0"/><circle cx="551.9" cy="276.5" r="1.1" fill="#d89890"/><circle cx="541.8" cy="278.4" r="0.8" fill="#5a2a24"/><circle cx="539.3" cy="502.6" r="1.0" fill="#d89890"/><circle cx="537.3" cy="463.0" r="1.2" fill="#e6b8b0"/><circle cx="546.1" cy="527.8" r="0.8" fill="#d89890"/><circle cx="542.2" cy="401.4" r="0.8" fill="#f4d4cc"/><circle cx="548.4" cy="504.0" r="0.7" fill="#e6b8b0"/><circle cx="549.2" cy="503.2" r="0.5" fill="#d89890"/><circle cx="537.0" cy="478.2" r="1.0" fill="#c07a70"/><circle cx="539.9" cy="522.9" r="1.1" fill="#d89890"/><circle cx="543.5" cy="457.3" r="1.0" fill="#c07a70"/><circle cx="544.4" cy="389.6" r="0.9" fill="#d89890"/><circle cx="541.9" cy="277.4" r="0.7" fill="#d89890"/><circle cx="545.8" cy="387.1" r="0.9" fill="#5a2a24"/><circle cx="532.1" cy="366.4" r="1.2" fill="#f4d4cc"/><circle cx="539.0" cy="247.1" r="0.7" fill="#c07a70"/><circle cx="548.5" cy="238.2" r="1.1" fill="#c07a70"/><circle cx="549.4" cy="308.2" r="1.2" fill="#d89890"/><circle cx="542.6" cy="435.5" r="1.2" fill="#d89890"/><circle cx="545.6" cy="262.4" r="0.5" fill="#d89890"/><circle cx="540.3" cy="252.4" r="1.1" fill="#5a2a24"/><circle cx="551.2" cy="439.6" r="0.6" fill="#d89890"/><circle cx="548.7" cy="509.5" r="1.0" fill="#e6b8b0"/><circle cx="547.7" cy="409.2" r="1.0" fill="#d89890"/><circle cx="536.6" cy="497.6" r="1.1" fill="#c07a70"/><circle cx="543.3" cy="270.0" r="0.7" fill="#c07a70"/><circle cx="533.6" cy="401.7" r="0.6" fill="#f4d4cc"/><circle cx="537.3" cy="461.9" r="0.7" fill="#d89890"/><circle cx="547.0" cy="407.6" r="0.5" fill="#5a2a24"/><circle cx="539.7" cy="532.5" r="0.7" fill="#d89890"/><circle cx="545.1" cy="494.2" r="1.2" fill="#e6b8b0"/><circle cx="535.6" cy="537.0" r="1.0" fill="#5a2a24"/><circle cx="551.2" cy="494.7" r="0.7" fill="#d89890"/><circle cx="547.7" cy="470.3" r="1.0" fill="#e6b8b0"/><circle cx="534.1" cy="502.6" r="0.9" fill="#c07a70"/><circle cx="538.5" cy="269.0" r="1.1" fill="#c07a70"/><circle cx="537.6" cy="313.7" r="0.6" fill="#e6b8b0"/><circle cx="542.8" cy="236.7" r="0.7" fill="#d89890"/><circle cx="532.3" cy="493.2" r="0.9" fill="#d89890"/><circle cx="551.9" cy="322.8" r="0.5" fill="#f4d4cc"/><circle cx="536.3" cy="536.1" r="0.9" fill="#c07a70"/><circle cx="543.3" cy="465.9" r="1.1" fill="#5a2a24"/><circle cx="538.6" cy="256.4" r="0.6" fill="#e6b8b0"/><circle cx="549.4" cy="505.6" r="0.9" fill="#5a2a24"/><circle cx="548.1" cy="491.2" r="1.0" fill="#d89890"/><circle cx="534.2" cy="353.1" r="0.8" fill="#e6b8b0"/><circle cx="551.1" cy="297.1" r="1.1" fill="#e6b8b0"/><circle cx="543.7" cy="360.3" r="1.1" fill="#d89890"/><circle cx="545.4" cy="300.2" r="0.8" fill="#f4d4cc"/><circle cx="539.7" cy="537.0" r="1.0" fill="#5a2a24"/><circle cx="535.4" cy="332.8" r="0.9" fill="#5a2a24"/><circle cx="536.2" cy="414.0" r="1.0" fill="#5a2a24"/><circle cx="542.7" cy="314.6" r="0.9" fill="#f4d4cc"/><circle cx="541.2" cy="350.1" r="1.0" fill="#f4d4cc"/><circle cx="536.2" cy="386.6" r="0.9" fill="#5a2a24"/><circle cx="533.2" cy="510.3" r="1.2" fill="#c07a70"/><circle cx="549.6" cy="388.9" r="1.0" fill="#c07a70"/><circle cx="534.4" cy="308.8" r="0.7" fill="#d89890"/><circle cx="536.3" cy="527.6" r="0.8" fill="#f4d4cc"/><circle cx="546.7" cy="343.8" r="1.0" fill="#d89890"/><circle cx="535.2" cy="424.3" r="1.2" fill="#c07a70"/><circle cx="542.4" cy="262.3" r="1.1" fill="#f4d4cc"/><circle cx="541.5" cy="415.3" r="0.8" fill="#d89890"/><circle cx="541.3" cy="455.2" r="1.1" fill="#5a2a24"/><circle cx="547.3" cy="282.8" r="0.8" fill="#e6b8b0"/><circle cx="533.1" cy="326.8" r="1.1" fill="#c07a70"/><circle cx="541.9" cy="450.5" r="1.0" fill="#f4d4cc"/><circle cx="536.9" cy="442.0" r="0.7" fill="#e6b8b0"/><circle cx="548.6" cy="293.3" r="1.0" fill="#d89890"/><circle cx="550.0" cy="306.0" r="0.8" fill="#e6b8b0"/><circle cx="551.3" cy="431.8" r="0.9" fill="#e6b8b0"/><circle cx="533.6" cy="498.1" r="0.9" fill="#f4d4cc"/><circle cx="544.4" cy="429.1" r="1.0" fill="#f4d4cc"/><circle cx="546.9" cy="481.5" r="1.0" fill="#f4d4cc"/><circle cx="537.0" cy="251.1" r="1.1" fill="#e6b8b0"/><circle cx="536.2" cy="493.8" r="0.5" fill="#e6b8b0"/><circle cx="537.7" cy="530.9" r="0.6" fill="#f4d4cc"/><circle cx="533.7" cy="421.9" r="0.7" fill="#e6b8b0"/><circle cx="542.9" cy="477.1" r="0.7" fill="#e6b8b0"/><circle cx="532.8" cy="399.6" r="0.6" fill="#f4d4cc"/><circle cx="539.5" cy="442.9" r="1.1" fill="#e6b8b0"/><circle cx="535.1" cy="454.4" r="0.5" fill="#c07a70"/><circle cx="546.6" cy="277.5" r="0.9" fill="#e6b8b0"/><circle cx="535.9" cy="241.4" r="0.9" fill="#c07a70"/><circle cx="532.2" cy="489.6" r="1.1" fill="#d89890"/><circle cx="549.6" cy="268.3" r="0.8" fill="#5a2a24"/><circle cx="541.2" cy="537.7" r="1.2" fill="#f4d4cc"/><circle cx="542.9" cy="357.1" r="0.7" fill="#c07a70"/><circle cx="532.6" cy="495.8" r="1.1" fill="#f4d4cc"/><circle cx="549.7" cy="370.4" r="1.1" fill="#f4d4cc"/><circle cx="533.7" cy="295.6" r="0.6" fill="#c07a70"/><circle cx="541.0" cy="514.1" r="1.0" fill="#c07a70"/><circle cx="545.1" cy="335.9" r="0.6" fill="#5a2a24"/><circle cx="535.7" cy="491.9" r="0.7" fill="#f4d4cc"/><circle cx="547.1" cy="405.8" r="1.0" fill="#f4d4cc"/><circle cx="548.2" cy="273.2" r="0.9" fill="#f4d4cc"/><circle cx="535.8" cy="256.4" r="1.0" fill="#5a2a24"/><circle cx="537.1" cy="379.9" r="1.0" fill="#c07a70"/><circle cx="550.2" cy="255.9" r="1.0" fill="#e6b8b0"/><circle cx="551.2" cy="326.9" r="1.1" fill="#d89890"/><circle cx="540.4" cy="436.4" r="1.1" fill="#e6b8b0"/><circle cx="550.0" cy="412.7" r="1.1" fill="#5a2a24"/><circle cx="538.9" cy="293.2" r="0.6" fill="#f4d4cc"/><circle cx="549.5" cy="272.6" r="0.7" fill="#5a2a24"/><circle cx="535.6" cy="347.1" r="1.0" fill="#e6b8b0"/><circle cx="533.6" cy="247.0" r="0.6" fill="#f4d4cc"/><circle cx="534.3" cy="321.5" r="0.9" fill="#5a2a24"/><circle cx="536.8" cy="390.2" r="0.6" fill="#f4d4cc"/><circle cx="540.1" cy="256.8" r="0.8" fill="#d89890"/><circle cx="547.9" cy="475.8" r="0.9" fill="#e6b8b0"/><circle cx="533.5" cy="400.0" r="1.2" fill="#c07a70"/><circle cx="534.2" cy="396.3" r="0.8" fill="#d89890"/><circle cx="546.1" cy="416.5" r="0.7" fill="#c07a70"/><circle cx="538.0" cy="400.3" r="0.5" fill="#c07a70"/><circle cx="533.8" cy="359.2" r="1.2" fill="#c07a70"/><circle cx="548.4" cy="407.6" r="0.7" fill="#c07a70"/><circle cx="546.7" cy="346.9" r="1.0" fill="#f4d4cc"/><circle cx="536.9" cy="300.1" r="0.9" fill="#f4d4cc"/><circle cx="538.2" cy="517.9" r="0.6" fill="#e6b8b0"/><circle cx="534.0" cy="337.4" r="1.2" fill="#e6b8b0"/><circle cx="550.8" cy="367.7" r="1.1" fill="#e6b8b0"/><circle cx="535.8" cy="431.0" r="0.7" fill="#d89890"/><circle cx="535.0" cy="254.0" r="0.9" fill="#5a2a24"/><circle cx="542.5" cy="358.4" r="1.2" fill="#d89890"/><circle cx="551.4" cy="307.0" r="1.1" fill="#c07a70"/><circle cx="550.9" cy="524.2" r="0.9" fill="#f4d4cc"/><circle cx="533.5" cy="315.3" r="0.6" fill="#c07a70"/><circle cx="539.2" cy="501.1" r="0.9" fill="#c07a70"/><circle cx="541.9" cy="229.6" r="1.1" fill="#f4d4cc"/><circle cx="548.6" cy="241.3" r="0.9" fill="#d89890"/><circle cx="537.2" cy="457.5" r="0.6" fill="#5a2a24"/><circle cx="539.1" cy="526.7" r="1.2" fill="#5a2a24"/><circle cx="548.8" cy="339.9" r="1.2" fill="#c07a70"/><circle cx="538.7" cy="463.5" r="0.8" fill="#d89890"/><circle cx="545.9" cy="399.2" r="0.6" fill="#c07a70"/><circle cx="545.3" cy="256.3" r="1.1" fill="#c07a70"/><circle cx="546.3" cy="494.3" r="0.8" fill="#5a2a24"/><circle cx="537.1" cy="412.4" r="0.7" fill="#d89890"/><circle cx="550.5" cy="232.2" r="1.0" fill="#5a2a24"/><circle cx="534.1" cy="464.8" r="0.7" fill="#d89890"/><circle cx="540.1" cy="380.7" r="0.6" fill="#d89890"/><circle cx="545.8" cy="284.5" r="0.7" fill="#d89890"/><circle cx="541.8" cy="383.8" r="1.1" fill="#e6b8b0"/><circle cx="540.4" cy="484.2" r="1.0" fill="#e6b8b0"/><circle cx="541.1" cy="526.2" r="1.2" fill="#c07a70"/><circle cx="543.1" cy="250.5" r="1.0" fill="#d89890"/><circle cx="542.4" cy="280.4" r="1.1" fill="#e6b8b0"/><circle cx="540.7" cy="313.2" r="0.8" fill="#f4d4cc"/><circle cx="534.8" cy="311.2" r="1.1" fill="#d89890"/><circle cx="544.0" cy="330.6" r="1.2" fill="#e6b8b0"/><circle cx="538.2" cy="492.6" r="0.6" fill="#5a2a24"/><circle cx="549.7" cy="532.0" r="1.1" fill="#e6b8b0"/><circle cx="547.2" cy="359.4" r="0.6" fill="#c07a70"/><circle cx="536.9" cy="457.4" r="0.9" fill="#f4d4cc"/><circle cx="533.9" cy="269.8" r="1.0" fill="#c07a70"/><circle cx="532.5" cy="275.4" r="0.8" fill="#d89890"/><circle cx="551.6" cy="322.6" r="0.8" fill="#5a2a24"/><circle cx="549.0" cy="289.8" r="0.5" fill="#e6b8b0"/><circle cx="533.0" cy="379.7" r="0.6" fill="#f4d4cc"/><circle cx="540.6" cy="489.7" r="1.0" fill="#f4d4cc"/><circle cx="543.6" cy="413.8" r="1.2" fill="#d89890"/><circle cx="538.9" cy="313.6" r="0.7" fill="#5a2a24"/><circle cx="550.5" cy="519.2" r="1.0" fill="#5a2a24"/><circle cx="544.1" cy="460.7" r="0.9" fill="#f4d4cc"/><circle cx="535.0" cy="404.6" r="0.7" fill="#c07a70"/><circle cx="534.5" cy="402.4" r="0.7" fill="#d89890"/><circle cx="538.8" cy="339.7" r="1.0" fill="#5a2a24"/><circle cx="540.7" cy="368.8" r="0.8" fill="#d89890"/><circle cx="538.7" cy="247.3" r="0.8" fill="#f4d4cc"/><circle cx="536.0" cy="282.3" r="0.7" fill="#f4d4cc"/><circle cx="538.6" cy="538.4" r="1.0" fill="#d89890"/><circle cx="545.0" cy="453.2" r="1.2" fill="#c07a70"/><circle cx="550.2" cy="363.5" r="0.7" fill="#c07a70"/><circle cx="545.1" cy="275.2" r="0.9" fill="#e6b8b0"/><circle cx="533.2" cy="424.8" r="1.0" fill="#e6b8b0"/><circle cx="539.9" cy="495.6" r="0.5" fill="#f4d4cc"/><circle cx="550.9" cy="306.0" r="0.7" fill="#f4d4cc"/><circle cx="536.6" cy="392.0" r="0.5" fill="#e6b8b0"/><circle cx="541.7" cy="417.9" r="1.1" fill="#c07a70"/><circle cx="545.1" cy="386.6" r="0.9" fill="#f4d4cc"/><circle cx="545.6" cy="513.5" r="0.6" fill="#e6b8b0"/><circle cx="538.4" cy="515.3" r="1.1" fill="#c07a70"/><circle cx="533.1" cy="297.2" r="0.9" fill="#d89890"/><circle cx="542.8" cy="405.3" r="1.0" fill="#d89890"/><circle cx="543.4" cy="448.2" r="0.7" fill="#d89890"/><circle cx="545.6" cy="509.9" r="0.8" fill="#5a2a24"/><circle cx="544.8" cy="347.1" r="1.0" fill="#d89890"/><circle cx="539.9" cy="420.5" r="0.8" fill="#d89890"/><circle cx="551.6" cy="384.9" r="1.0" fill="#c07a70"/><circle cx="550.8" cy="311.3" r="0.9" fill="#e6b8b0"/><circle cx="537.8" cy="292.1" r="1.1" fill="#d89890"/><circle cx="532.6" cy="304.9" r="0.7" fill="#f4d4cc"/><circle cx="535.5" cy="379.3" r="0.7" fill="#5a2a24"/><circle cx="538.4" cy="327.6" r="0.6" fill="#d89890"/><circle cx="544.5" cy="254.1" r="1.0" fill="#c07a70"/><circle cx="542.8" cy="324.9" r="0.8" fill="#e6b8b0"/><circle cx="536.6" cy="430.8" r="0.5" fill="#f4d4cc"/><circle cx="540.9" cy="369.9" r="0.8" fill="#d89890"/><circle cx="534.2" cy="372.3" r="0.6" fill="#d89890"/><circle cx="533.1" cy="312.4" r="1.2" fill="#d89890"/><circle cx="541.5" cy="250.0" r="0.5" fill="#5a2a24"/><circle cx="551.0" cy="534.6" r="0.6" fill="#f4d4cc"/><circle cx="539.6" cy="385.0" r="1.1" fill="#5a2a24"/><circle cx="545.5" cy="504.3" r="0.5" fill="#e6b8b0"/><circle cx="532.4" cy="364.0" r="0.8" fill="#f4d4cc"/><circle cx="540.6" cy="341.4" r="1.0" fill="#e6b8b0"/><circle cx="540.4" cy="428.7" r="0.6" fill="#5a2a24"/><circle cx="535.0" cy="234.5" r="0.7" fill="#f4d4cc"/><circle cx="535.0" cy="539.4" r="0.5" fill="#e6b8b0"/><circle cx="546.8" cy="320.1" r="0.6" fill="#d89890"/><circle cx="547.9" cy="328.5" r="0.5" fill="#e6b8b0"/><circle cx="552.0" cy="421.6" r="0.8" fill="#d89890"/><circle cx="536.4" cy="480.3" r="0.8" fill="#f4d4cc"/><circle cx="536.0" cy="451.4" r="0.9" fill="#c07a70"/><circle cx="538.2" cy="454.1" r="1.2" fill="#c07a70"/><circle cx="536.4" cy="257.6" r="0.7" fill="#d89890"/><circle cx="547.1" cy="447.9" r="1.1" fill="#5a2a24"/><circle cx="551.2" cy="284.3" r="0.7" fill="#d89890"/><circle cx="539.1" cy="228.1" r="1.2" fill="#d89890"/><circle cx="541.1" cy="318.5" r="1.0" fill="#e6b8b0"/><circle cx="545.5" cy="437.9" r="0.8" fill="#e6b8b0"/><circle cx="535.1" cy="405.1" r="1.0" fill="#5a2a24"/><circle cx="535.2" cy="360.4" r="0.7" fill="#5a2a24"/><circle cx="541.7" cy="457.7" r="1.0" fill="#d89890"/><circle cx="543.7" cy="293.6" r="1.0" fill="#c07a70"/><circle cx="532.1" cy="444.9" r="1.0" fill="#e6b8b0"/><circle cx="539.6" cy="337.6" r="0.8" fill="#5a2a24"/><circle cx="543.4" cy="463.8" r="0.7" fill="#5a2a24"/><circle cx="533.3" cy="506.1" r="0.9" fill="#d89890"/><circle cx="546.5" cy="452.3" r="1.0" fill="#c07a70"/><circle cx="544.4" cy="288.8" r="0.9" fill="#f4d4cc"/><circle cx="546.4" cy="295.9" r="0.8" fill="#5a2a24"/><circle cx="551.5" cy="473.7" r="1.1" fill="#c07a70"/><circle cx="551.6" cy="423.6" r="1.2" fill="#f4d4cc"/><circle cx="536.8" cy="240.9" r="0.9" fill="#5a2a24"/><circle cx="545.0" cy="330.0" r="0.9" fill="#f4d4cc"/><circle cx="539.4" cy="472.1" r="0.8" fill="#e6b8b0"/><circle cx="537.6" cy="229.5" r="1.1" fill="#5a2a24"/><circle cx="533.5" cy="297.7" r="1.0" fill="#c07a70"/><circle cx="541.8" cy="349.7" r="0.8" fill="#f4d4cc"/><circle cx="539.3" cy="359.0" r="0.8" fill="#d89890"/><circle cx="535.1" cy="291.8" r="1.0" fill="#f4d4cc"/><circle cx="551.8" cy="474.7" r="0.9" fill="#5a2a24"/><circle cx="538.0" cy="466.6" r="1.1" fill="#c07a70"/><circle cx="550.1" cy="473.8" r="1.0" fill="#e6b8b0"/><circle cx="549.0" cy="428.4" r="0.8" fill="#f4d4cc"/></g>


<path d="M341.7,265.3 A16.9,16.9 0 0 1 356.4,283.2" fill="none" stroke="#ee3a3a" stroke-width="1.00"/>
<path d="M340.6,306.9 A16.9,16.9 0 0 1 320.9,291.2" fill="none" stroke="#ee3a3a" stroke-width="1.00"/>
<line x1="339.8" y1="287.0" x2="339.8" y2="271.2" stroke="#7070d8" stroke-width="2.6"/>
<line x1="339.8" y1="287.0" x2="326.1" y2="287.7" stroke="#7070d8" stroke-width="2.6"/>
<line x1="339.8" y1="287.0" x2="351.8" y2="286.6" stroke="#7070d8" stroke-width="2.6"/>
<line x1="339.8" y1="287.0" x2="341.9" y2="301.5" stroke="#7070d8" stroke-width="2.6"/>
<circle cx="339.8" cy="287.0" r="11.6" fill="url(#zn)"/>
<circle cx="339.7" cy="266.0" r="5.1" fill="url(#hball)"/>
<circle cx="321.6" cy="287.9" r="5.1" fill="url(#hball)"/>
<circle cx="355.8" cy="286.4" r="5.1" fill="url(#hball)"/>
<circle cx="342.5" cy="306.3" r="5.1" fill="url(#hball)"/>
<path d="M347.5,361.4 A16.9,16.9 0 0 1 362.2,379.3" fill="none" stroke="#ee3a3a" stroke-width="1.00"/>
<path d="M346.4,403.0 A16.9,16.9 0 0 1 326.7,387.3" fill="none" stroke="#ee3a3a" stroke-width="1.00"/>
<line x1="345.6" y1="383.1" x2="345.6" y2="367.3" stroke="#7070d8" stroke-width="2.6"/>
<line x1="345.6" y1="383.1" x2="331.9" y2="383.8" stroke="#7070d8" stroke-width="2.6"/>
<line x1="345.6" y1="383.1" x2="357.6" y2="382.7" stroke="#7070d8" stroke-width="2.6"/>
<line x1="345.6" y1="383.1" x2="347.7" y2="397.6" stroke="#7070d8" stroke-width="2.6"/>
<circle cx="345.6" cy="383.1" r="11.6" fill="url(#zn)"/>
<circle cx="345.5" cy="362.1" r="5.1" fill="url(#hball)"/>
<circle cx="327.4" cy="384.0" r="5.1" fill="url(#hball)"/>
<circle cx="361.6" cy="382.5" r="5.1" fill="url(#hball)"/>
<circle cx="348.3" cy="402.4" r="5.1" fill="url(#hball)"/>
<path d="M302.7,456.9 A16.9,16.9 0 0 1 317.4,474.8" fill="none" stroke="#ee3a3a" stroke-width="1.00"/>
<path d="M301.6,498.5 A16.9,16.9 0 0 1 281.9,482.8" fill="none" stroke="#ee3a3a" stroke-width="1.00"/>
<line x1="300.8" y1="478.6" x2="300.8" y2="462.8" stroke="#7070d8" stroke-width="2.6"/>
<line x1="300.8" y1="478.6" x2="287.1" y2="479.3" stroke="#7070d8" stroke-width="2.6"/>
<line x1="300.8" y1="478.6" x2="312.8" y2="478.2" stroke="#7070d8" stroke-width="2.6"/>
<line x1="300.8" y1="478.6" x2="302.9" y2="493.1" stroke="#7070d8" stroke-width="2.6"/>
<circle cx="300.8" cy="478.6" r="11.6" fill="url(#zn)"/>
<circle cx="300.7" cy="457.6" r="5.1" fill="url(#hball)"/>
<circle cx="282.6" cy="479.5" r="5.1" fill="url(#hball)"/>
<circle cx="316.8" cy="478.0" r="5.1" fill="url(#hball)"/>
<circle cx="303.5" cy="497.9" r="5.1" fill="url(#hball)"/>
<rect x="267.8" y="330.7" width="34.0" height="10.1" fill="url(#trailL)"/>
<circle cx="301.8" cy="335.7" r="6.3" fill="url(#kballB)"/>
<rect x="388.0" y="331.5" width="34.0" height="10.1" fill="url(#trailR)"/>
<circle cx="388.0" cy="336.5" r="6.3" fill="url(#kballB)"/>
<rect x="367.3" y="395.5" width="34.0" height="10.1" fill="url(#trailR)"/>
<circle cx="367.3" cy="400.5" r="6.3" fill="url(#kballB)"/>
<rect x="360.8" y="429.7" width="34.0" height="10.1" fill="url(#trailL)"/>
<circle cx="394.8" cy="434.7" r="6.3" fill="url(#kballB)"/>
<rect x="321.7" y="453.4" width="34.0" height="10.1" fill="url(#trailL)"/>
<circle cx="355.7" cy="458.4" r="6.3" fill="url(#kballB)"/>
<rect x="477.3" y="280.6" width="34.0" height="10.1" fill="url(#trailO)"/>
<circle cx="477.3" cy="285.6" r="6.3" fill="url(#tball)"/>
<rect x="452.7" y="379.6" width="34.0" height="10.1" fill="url(#trailO)"/>
<circle cx="452.7" cy="384.6" r="6.3" fill="url(#tball)"/>
<rect x="488.3" y="476.0" width="34.0" height="10.1" fill="url(#trailO)"/>
<circle cx="488.3" cy="481.0" r="6.3" fill="url(#tball)"/>
<circle cx="450.6" cy="299.5" r="6.3" fill="url(#iball)"/>
<circle cx="464.2" cy="409.8" r="6.3" fill="url(#iball)"/>
<circle cx="425.2" cy="459.8" r="6.3" fill="url(#iball)"/>
<polyline points="514.9,316.0 507.6,330.5 500.4,345.0" fill="none" stroke="#5a5a5a" stroke-width="4.2"/>
<circle cx="514.9" cy="316.0" r="6.0" fill="url(#iball)"/>
<circle cx="507.6" cy="330.5" r="6.0" fill="url(#iball)"/>
<circle cx="500.4" cy="345.0" r="6.0" fill="url(#iball)"/>
<polyline points="507.6,402.0 509.7,417.9 511.4,433.2" fill="none" stroke="#5a5a5a" stroke-width="4.2"/>
<circle cx="507.6" cy="402.0" r="6.0" fill="url(#iball)"/>
<circle cx="509.7" cy="417.9" r="6.0" fill="url(#iball)"/>
<circle cx="511.4" cy="433.2" r="6.0" fill="url(#iball)"/>
<path d="M117.9,618.3 A26.0,26.0 0 0 1 140.5,645.7" fill="none" stroke="#ee3a3a" stroke-width="1.30"/>
<path d="M116.2,682.2 A26.0,26.0 0 0 1 86.0,658.0" fill="none" stroke="#ee3a3a" stroke-width="1.30"/>
<line x1="115.0" y1="651.6" x2="114.9" y2="627.4" stroke="#7070d8" stroke-width="4.0"/>
<line x1="115.0" y1="651.6" x2="94.0" y2="652.6" stroke="#7070d8" stroke-width="4.0"/>
<line x1="115.0" y1="651.6" x2="133.4" y2="650.9" stroke="#7070d8" stroke-width="4.0"/>
<line x1="115.0" y1="651.6" x2="118.2" y2="673.8" stroke="#7070d8" stroke-width="4.0"/>
<circle cx="115.0" cy="651.6" r="17.8" fill="url(#zn)"/>
<circle cx="114.9" cy="619.3" r="6.8" fill="url(#hballY)"/>
<circle cx="87.0" cy="653.0" r="6.8" fill="url(#hballY)"/>
<circle cx="139.5" cy="650.7" r="6.8" fill="url(#hballY)"/>
<circle cx="119.2" cy="681.2" r="6.8" fill="url(#hballY)"/>
<circle cx="348.5" cy="652.9" r="11.5" fill="url(#kball)"/>
<circle cx="494.7" cy="658.0" r="10.5" fill="url(#iball)"/>
<polyline points="612.6,657.6 638.4,657.6 664.1,657.6" fill="none" stroke="#5a5a5a" stroke-width="7.1"/>
<circle cx="612.6" cy="657.6" r="10.2" fill="url(#iball)"/>
<circle cx="638.4" cy="657.6" r="10.2" fill="url(#iball)"/>
<circle cx="664.1" cy="657.6" r="10.2" fill="url(#iball)"/>
<text x="93.5" y="576.5" class="lb">Pump</text>
<text x="626.5" y="576.5" class="lb">Pump</text>
<text x="343" y="615" class="lb">separator</text>
<text x="163" y="666" class="lb">Zn(PPi)<tspan dy="6" style="font-size:19px">2</tspan><tspan dy="-15.5" style="font-size:19px">6-</tspan></text>
<text x="395" y="666" class="lb">K<tspan dy="-10" style="font-size:19px">+</tspan></text>
<text x="531" y="666" class="lb">I<tspan dy="-10" style="font-size:19px">-</tspan></text>
<text x="699.5" y="666" class="lb">I<tspan dy="6" style="font-size:19px">3</tspan><tspan dy="-14.7" style="font-size:19px">-</tspan></text>

<!-- ===== PANEL B ===== -->
<text x="769.5" y="110" style="font-size:42px">B</text>
<g id="chart">
<rect x="919.5" y="90.5" width="611" height="488" fill="none" stroke="#000" stroke-width="3"/>
<line x1="931.5" y1="579" x2="931.5" y2="586" stroke="#000" stroke-width="3"/>
<text x="931.5" y="615" text-anchor="middle" class="tk">-1.5</text>
<line x1="1053.7" y1="579" x2="1053.7" y2="586" stroke="#000" stroke-width="3"/>
<text x="1053.7" y="615" text-anchor="middle" class="tk">-1.0</text>
<line x1="1175.9" y1="579" x2="1175.9" y2="586" stroke="#000" stroke-width="3"/>
<text x="1175.9" y="615" text-anchor="middle" class="tk">-0.5</text>
<line x1="1298.1" y1="579" x2="1298.1" y2="586" stroke="#000" stroke-width="3"/>
<text x="1298.1" y="615" text-anchor="middle" class="tk">0.0</text>
<line x1="1420.3" y1="579" x2="1420.3" y2="586" stroke="#000" stroke-width="3"/>
<text x="1420.3" y="615" text-anchor="middle" class="tk">0.5</text>
<line x1="911" y1="125.0" x2="919" y2="125.0" stroke="#000" stroke-width="3"/>
<text x="905" y="134.0" text-anchor="end" class="tk">5.0</text>
<line x1="911" y1="212.2" x2="919" y2="212.2" stroke="#000" stroke-width="3"/>
<text x="905" y="221.2" text-anchor="end" class="tk">2.5</text>
<line x1="911" y1="299.4" x2="919" y2="299.4" stroke="#000" stroke-width="3"/>
<text x="905" y="308.4" text-anchor="end" class="tk">0.0</text>
<line x1="911" y1="386.6" x2="919" y2="386.6" stroke="#000" stroke-width="3"/>
<text x="905" y="395.6" text-anchor="end" class="tk">-2.5</text>
<line x1="911" y1="473.8" x2="919" y2="473.8" stroke="#000" stroke-width="3"/>
<text x="905" y="482.8" text-anchor="end" class="tk">-5.0</text>
<line x1="911" y1="561.0" x2="919" y2="561.0" stroke="#000" stroke-width="3"/>
<text x="905" y="570.0" text-anchor="end" class="tk">-7.5</text>
<!-- dashed ref lines -->
<line x1="1034.3" y1="96" x2="1034.3" y2="577" stroke="#1fb4dc" stroke-width="2.6" stroke-dasharray="12.8 13.2"/>
<line x1="1430" y1="96" x2="1430" y2="577" stroke="#f3a88a" stroke-width="2.2" stroke-dasharray="12.8 13.2"/>
<path d="M1122.4,235.7 C1121.2,235.1 1118.1,233.7 1115.4,232.3 C1112.7,230.9 1108.8,230.6 1106.3,227.2 C1103.8,223.8 1102.2,219.6 1100.2,212.0 C1098.2,204.4 1096.1,191.2 1094.1,181.6 C1092.1,172.0 1090.2,160.1 1088.1,154.3 C1086.0,148.5 1083.9,145.2 1081.4,146.7 C1078.9,148.2 1075.6,155.6 1072.9,163.4 C1070.2,171.2 1068.3,182.7 1065.3,193.8 C1062.3,204.9 1058.0,219.6 1054.7,230.2 C1051.4,240.8 1049.0,248.4 1045.5,257.5 C1042.0,266.6 1036.1,277.8 1033.4,284.9 C1030.7,292.0 1031.5,292.3 1029.3,300.0 C1027.1,307.7 1022.8,322.8 1020.0,331.3 C1017.2,339.8 1015.7,343.7 1012.8,350.8 C1009.9,357.9 1006.2,366.2 1002.4,373.9 C998.5,381.6 993.6,389.8 989.7,397.1 C985.9,404.4 982.4,410.6 979.3,417.9 C976.2,425.2 973.5,432.9 971.2,441.0 C968.9,449.1 966.8,459.3 965.4,466.4 C964.0,473.4 963.3,480.5 962.9,483.3 L962.9,483.3 C964.1,486.1 967.5,494.2 970.1,500.1 C972.7,506.0 975.9,512.8 978.2,518.6 C980.5,524.4 982.4,530.9 984.0,534.9 C985.6,538.9 986.5,542.0 988.0,542.4 C989.5,542.8 991.8,540.2 993.2,537.2 C994.7,534.2 995.4,529.2 996.7,524.4 C998.1,519.6 999.5,515.6 1001.3,508.2 C1003.1,500.8 1005.5,488.9 1007.4,480.0 C1009.3,471.1 1011.2,461.8 1012.6,454.7 C1014.0,447.6 1014.6,443.1 1015.6,437.3 C1016.6,431.5 1017.3,426.2 1018.6,420.0 C1019.9,413.8 1021.6,407.3 1023.2,400.0 C1024.9,392.7 1026.5,385.6 1028.5,376.2 C1030.5,366.8 1032.1,353.7 1035.0,343.9 C1037.9,334.1 1043.0,323.2 1046.0,317.4 C1049.0,311.6 1050.1,313.1 1053.1,309.2 C1056.1,305.3 1060.5,299.1 1063.8,294.0 C1067.1,288.9 1069.9,282.8 1072.9,278.8 C1075.9,274.9 1078.7,271.8 1082.0,270.3 C1085.3,268.8 1089.6,270.1 1092.6,269.7 C1095.6,269.3 1097.4,269.2 1100.2,268.2 C1103.0,267.2 1106.3,266.1 1109.3,263.6 C1112.3,261.1 1116.3,256.5 1118.4,253.0 C1120.5,249.5 1121.5,244.2 1122.1,242.4" fill="none" stroke="#1ab2dc" stroke-width="2.5" stroke-linejoin="round"/>
<path d="M1508.4,203.8 C1507.0,205.2 1503.1,209.9 1500.2,212.0 C1497.3,214.1 1494.1,217.6 1491.1,216.6 C1488.1,215.6 1485.0,212.2 1482.0,205.9 C1479.0,199.6 1475.7,188.2 1472.9,178.6 C1470.1,169.0 1467.4,154.3 1465.3,148.2 C1463.2,142.1 1461.6,142.7 1460.1,142.2 C1458.6,141.7 1458.1,140.1 1456.2,145.2 C1454.3,150.2 1451.4,162.4 1448.6,172.5 C1445.8,182.6 1442.5,194.2 1439.5,205.9 C1436.5,217.6 1432.9,232.8 1430.4,242.4 C1427.9,252.0 1427.3,256.1 1424.3,263.7 C1421.3,271.3 1415.2,282.6 1412.2,288.0 C1409.2,293.4 1408.6,293.4 1406.0,295.9 C1403.4,298.4 1401.3,301.0 1396.5,302.9 C1391.7,304.8 1384.8,305.6 1377.4,307.1 C1370.0,308.6 1358.8,310.0 1351.9,311.9 C1345.0,313.8 1338.6,317.1 1335.9,318.2 L1335.9,318.2 C1338.6,319.3 1346.6,321.7 1351.9,324.6 C1357.2,327.5 1363.5,331.0 1367.8,335.8 C1372.0,340.6 1374.8,345.1 1377.4,353.3 C1380.1,361.5 1381.9,373.5 1383.7,385.2 C1385.5,396.9 1386.9,409.1 1388.5,423.4 C1390.1,437.7 1391.7,460.8 1393.3,471.2 C1394.9,481.6 1396.2,484.4 1398.1,485.5 C1400.0,486.6 1402.1,486.4 1404.5,477.6 C1406.9,468.9 1409.5,448.9 1412.4,433.0 C1415.3,417.1 1419.1,396.4 1422.0,382.0 C1424.9,367.6 1427.3,357.0 1430.0,346.9 C1432.7,336.8 1435.0,328.8 1437.9,321.4 C1440.8,314.0 1444.7,306.9 1447.5,302.3 C1450.3,297.7 1450.0,298.4 1454.7,294.0 C1459.4,289.6 1469.8,281.1 1475.9,275.8 C1482.0,270.5 1487.0,266.7 1491.1,262.1 C1495.1,257.6 1497.7,253.8 1500.2,248.5 C1502.7,243.2 1504.9,236.7 1506.3,230.2 C1507.7,223.7 1508.1,213.0 1508.4,209.6" fill="none" stroke="#f3a585" stroke-width="2.5" stroke-linejoin="round"/>
<!-- arrow -->
<line x1="1045" y1="317.6" x2="1420" y2="317.6" stroke="#111" stroke-width="1.3"/>
<polygon points="1033.9,317.4 1046,311.3 1046,323.5" fill="#000"/>
<polygon points="1431.6,318 1419,311.9 1419,324.1" fill="#000"/>
<text x="1182" y="302" class="lb" style="font-size:29px">E=1.62 V</text>
<text x="1032.5" y="122" style="font-size:29.6px;fill:#2a70b5">Zn(PPi)<tspan dy="6" style="font-size:19px">2</tspan><tspan dy="-18" style="font-size:19px">6-</tspan><tspan dy="12">/Zn</tspan></text>
<text x="1436.5" y="121.5" style="font-size:29px;fill:#2c4f9a">I<tspan dy="6" style="font-size:19px">3</tspan><tspan dy="-14" style="font-size:19px">-</tspan><tspan dy="8" dx="0.5">/I</tspan><tspan dy="-8" dx="0.5" style="font-size:19px">-</tspan></text>
<text transform="translate(834,497) rotate(-90)" style="font-size:29.3px">Current density (mA cm<tspan dy="-11" style="font-size:17px">-2</tspan><tspan dy="11">)</tspan></text>
<text x="1112" y="667" style="font-size:29px">Potential (V <tspan style="font-style:italic">vs.</tspan> SHE)</text>
</g>
</svg>
</body></html>
